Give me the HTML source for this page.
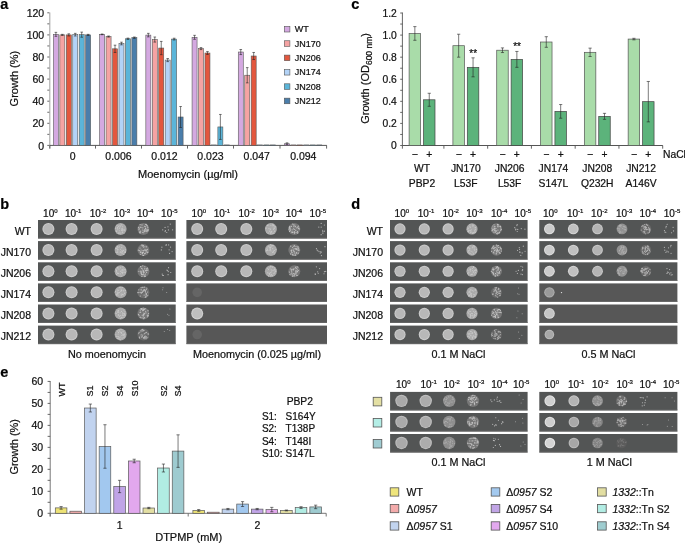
<!DOCTYPE html>
<html><head><meta charset="utf-8"><style>
html,body{margin:0;padding:0;background:#fff;}
#w{will-change:transform;width:685px;height:544px;}
svg{display:block;font-family:"Liberation Sans",sans-serif;}
text{stroke:#111;stroke-width:0.22px;}
</style></head><body><div id="w">
<svg width="685" height="544" viewBox="0 0 685 544">
<rect width="685" height="544" fill="#fff"/>
<text x="0.3" y="9" font-size="14.5" font-weight="bold" fill="#000">a</text>
<line x1="49.8" y1="12.5" x2="49.8" y2="148.6" stroke="#a8a8a8" stroke-width="1.1"/>
<line x1="47.3" y1="145.4" x2="49.3" y2="145.4" stroke="#444" stroke-width="0.8"/>
<text x="44.2" y="150" font-size="10.5" text-anchor="end" fill="#111">0</text>
<line x1="47.3" y1="134.35" x2="49.3" y2="134.35" stroke="#444" stroke-width="0.8"/>
<line x1="47.3" y1="123.3" x2="49.3" y2="123.3" stroke="#444" stroke-width="0.8"/>
<text x="44.2" y="127" font-size="10.5" text-anchor="end" fill="#111">20</text>
<line x1="47.3" y1="112.25" x2="49.3" y2="112.25" stroke="#444" stroke-width="0.8"/>
<line x1="47.3" y1="101.2" x2="49.3" y2="101.2" stroke="#444" stroke-width="0.8"/>
<text x="44.2" y="105" font-size="10.5" text-anchor="end" fill="#111">40</text>
<line x1="47.3" y1="90.15" x2="49.3" y2="90.15" stroke="#444" stroke-width="0.8"/>
<line x1="47.3" y1="79.1" x2="49.3" y2="79.1" stroke="#444" stroke-width="0.8"/>
<text x="44.2" y="83" font-size="10.5" text-anchor="end" fill="#111">60</text>
<line x1="47.3" y1="68.05" x2="49.3" y2="68.05" stroke="#444" stroke-width="0.8"/>
<line x1="47.3" y1="57" x2="49.3" y2="57" stroke="#444" stroke-width="0.8"/>
<text x="44.2" y="61" font-size="10.5" text-anchor="end" fill="#111">80</text>
<line x1="47.3" y1="45.95" x2="49.3" y2="45.95" stroke="#444" stroke-width="0.8"/>
<line x1="47.3" y1="34.9" x2="49.3" y2="34.9" stroke="#444" stroke-width="0.8"/>
<text x="44.2" y="39" font-size="10.5" text-anchor="end" fill="#111">100</text>
<line x1="47.3" y1="23.85" x2="49.3" y2="23.85" stroke="#444" stroke-width="0.8"/>
<line x1="47.3" y1="12.8" x2="49.3" y2="12.8" stroke="#444" stroke-width="0.8"/>
<text x="44.2" y="17" font-size="10.5" text-anchor="end" fill="#111">120</text>
<line x1="49.8" y1="145.4" x2="326.8" y2="145.4" stroke="#555" stroke-width="1"/>
<line x1="49.8" y1="145.4" x2="49.8" y2="148.6" stroke="#555" stroke-width="0.9"/>
<line x1="95.5" y1="145.4" x2="95.5" y2="148.6" stroke="#555" stroke-width="0.9"/>
<line x1="141.5" y1="145.4" x2="141.5" y2="148.6" stroke="#555" stroke-width="0.9"/>
<line x1="187.5" y1="145.4" x2="187.5" y2="148.6" stroke="#555" stroke-width="0.9"/>
<line x1="233.5" y1="145.4" x2="233.5" y2="148.6" stroke="#555" stroke-width="0.9"/>
<line x1="280" y1="145.4" x2="280" y2="148.6" stroke="#555" stroke-width="0.9"/>
<line x1="326.6" y1="145.4" x2="326.6" y2="148.6" stroke="#555" stroke-width="0.9"/>
<text x="72.65" y="160" font-size="10.5" text-anchor="middle" fill="#111">0</text>
<text x="118.5" y="160" font-size="10.5" text-anchor="middle" fill="#111">0.006</text>
<text x="164.5" y="160" font-size="10.5" text-anchor="middle" fill="#111">0.012</text>
<text x="210.5" y="160" font-size="10.5" text-anchor="middle" fill="#111">0.023</text>
<text x="256.75" y="160" font-size="10.5" text-anchor="middle" fill="#111">0.047</text>
<text x="303.3" y="160" font-size="10.5" text-anchor="middle" fill="#111">0.094</text>
<text x="188" y="177.5" font-size="11" text-anchor="middle" fill="#111">Moenomycin (&#181;g/ml)</text>
<text x="18" y="78.6" font-size="11" text-anchor="middle" transform="rotate(-90 18 78.6)" fill="#111">Growth (%)</text>
<rect x="53.4" y="34.35" width="5" height="111.05" fill="#d4a9e1" stroke="#5a5a5a" stroke-width="0.6"/>
<line x1="55.9" y1="32.36" x2="55.9" y2="36.34" stroke="#222" stroke-width="0.6"/>
<line x1="54.6" y1="32.36" x2="57.2" y2="32.36" stroke="#222" stroke-width="0.6"/>
<line x1="54.6" y1="36.34" x2="57.2" y2="36.34" stroke="#222" stroke-width="0.6"/>
<rect x="59.85" y="34.9" width="5" height="110.5" fill="#f5a3a3" stroke="#5a5a5a" stroke-width="0.6"/>
<line x1="62.35" y1="34.35" x2="62.35" y2="35.45" stroke="#222" stroke-width="0.6"/>
<line x1="61.05" y1="34.35" x2="63.65" y2="34.35" stroke="#222" stroke-width="0.6"/>
<line x1="61.05" y1="35.45" x2="63.65" y2="35.45" stroke="#222" stroke-width="0.6"/>
<rect x="66.3" y="34.9" width="5" height="110.5" fill="#e3573e" stroke="#5a5a5a" stroke-width="0.6"/>
<line x1="68.8" y1="33.8" x2="68.8" y2="36.01" stroke="#222" stroke-width="0.6"/>
<line x1="67.5" y1="33.8" x2="70.1" y2="33.8" stroke="#222" stroke-width="0.6"/>
<line x1="67.5" y1="36.01" x2="70.1" y2="36.01" stroke="#222" stroke-width="0.6"/>
<rect x="72.75" y="34.68" width="5" height="110.72" fill="#b3d3f7" stroke="#5a5a5a" stroke-width="0.6"/>
<line x1="75.25" y1="33.35" x2="75.25" y2="36.01" stroke="#222" stroke-width="0.6"/>
<line x1="73.95" y1="33.35" x2="76.55" y2="33.35" stroke="#222" stroke-width="0.6"/>
<line x1="73.95" y1="36.01" x2="76.55" y2="36.01" stroke="#222" stroke-width="0.6"/>
<rect x="79.2" y="34.68" width="5" height="110.72" fill="#5bb5d9" stroke="#5a5a5a" stroke-width="0.6"/>
<line x1="81.7" y1="32.14" x2="81.7" y2="37.22" stroke="#222" stroke-width="0.6"/>
<line x1="80.4" y1="32.14" x2="83" y2="32.14" stroke="#222" stroke-width="0.6"/>
<line x1="80.4" y1="37.22" x2="83" y2="37.22" stroke="#222" stroke-width="0.6"/>
<rect x="85.65" y="34.9" width="5" height="110.5" fill="#4a7eab" stroke="#5a5a5a" stroke-width="0.6"/>
<line x1="88.15" y1="34.35" x2="88.15" y2="35.45" stroke="#222" stroke-width="0.6"/>
<line x1="86.85" y1="34.35" x2="89.45" y2="34.35" stroke="#222" stroke-width="0.6"/>
<line x1="86.85" y1="35.45" x2="89.45" y2="35.45" stroke="#222" stroke-width="0.6"/>
<rect x="99.62" y="34.35" width="5" height="111.05" fill="#d4a9e1" stroke="#5a5a5a" stroke-width="0.6"/>
<line x1="102.12" y1="34.02" x2="102.12" y2="34.68" stroke="#222" stroke-width="0.6"/>
<line x1="100.82" y1="34.02" x2="103.42" y2="34.02" stroke="#222" stroke-width="0.6"/>
<line x1="100.82" y1="34.68" x2="103.42" y2="34.68" stroke="#222" stroke-width="0.6"/>
<rect x="106.07" y="36.56" width="5" height="108.84" fill="#f5a3a3" stroke="#5a5a5a" stroke-width="0.6"/>
<line x1="108.57" y1="36.01" x2="108.57" y2="37.11" stroke="#222" stroke-width="0.6"/>
<line x1="107.27" y1="36.01" x2="109.87" y2="36.01" stroke="#222" stroke-width="0.6"/>
<line x1="107.27" y1="37.11" x2="109.87" y2="37.11" stroke="#222" stroke-width="0.6"/>
<rect x="112.52" y="48.82" width="5" height="96.58" fill="#e3573e" stroke="#5a5a5a" stroke-width="0.6"/>
<line x1="115.02" y1="45.18" x2="115.02" y2="52.47" stroke="#222" stroke-width="0.6"/>
<line x1="113.72" y1="45.18" x2="116.32" y2="45.18" stroke="#222" stroke-width="0.6"/>
<line x1="113.72" y1="52.47" x2="116.32" y2="52.47" stroke="#222" stroke-width="0.6"/>
<rect x="118.97" y="43.52" width="5" height="101.88" fill="#b3d3f7" stroke="#5a5a5a" stroke-width="0.6"/>
<line x1="121.47" y1="42.19" x2="121.47" y2="44.85" stroke="#222" stroke-width="0.6"/>
<line x1="120.17" y1="42.19" x2="122.77" y2="42.19" stroke="#222" stroke-width="0.6"/>
<line x1="120.17" y1="44.85" x2="122.77" y2="44.85" stroke="#222" stroke-width="0.6"/>
<rect x="125.42" y="38.77" width="5" height="106.63" fill="#5bb5d9" stroke="#5a5a5a" stroke-width="0.6"/>
<line x1="127.92" y1="38.1" x2="127.92" y2="39.43" stroke="#222" stroke-width="0.6"/>
<line x1="126.62" y1="38.1" x2="129.22" y2="38.1" stroke="#222" stroke-width="0.6"/>
<line x1="126.62" y1="39.43" x2="129.22" y2="39.43" stroke="#222" stroke-width="0.6"/>
<rect x="131.87" y="37.66" width="5" height="107.74" fill="#4a7eab" stroke="#5a5a5a" stroke-width="0.6"/>
<line x1="134.37" y1="37" x2="134.37" y2="38.33" stroke="#222" stroke-width="0.6"/>
<line x1="133.07" y1="37" x2="135.67" y2="37" stroke="#222" stroke-width="0.6"/>
<line x1="133.07" y1="38.33" x2="135.67" y2="38.33" stroke="#222" stroke-width="0.6"/>
<rect x="145.84" y="35.12" width="5" height="110.28" fill="#d4a9e1" stroke="#5a5a5a" stroke-width="0.6"/>
<line x1="148.34" y1="33.35" x2="148.34" y2="36.89" stroke="#222" stroke-width="0.6"/>
<line x1="147.04" y1="33.35" x2="149.64" y2="33.35" stroke="#222" stroke-width="0.6"/>
<line x1="147.04" y1="36.89" x2="149.64" y2="36.89" stroke="#222" stroke-width="0.6"/>
<rect x="152.29" y="39.54" width="5" height="105.86" fill="#f5a3a3" stroke="#5a5a5a" stroke-width="0.6"/>
<line x1="154.79" y1="37" x2="154.79" y2="42.08" stroke="#222" stroke-width="0.6"/>
<line x1="153.49" y1="37" x2="156.09" y2="37" stroke="#222" stroke-width="0.6"/>
<line x1="153.49" y1="42.08" x2="156.09" y2="42.08" stroke="#222" stroke-width="0.6"/>
<rect x="158.74" y="48.05" width="5" height="97.35" fill="#e3573e" stroke="#5a5a5a" stroke-width="0.6"/>
<line x1="161.24" y1="41.42" x2="161.24" y2="54.68" stroke="#222" stroke-width="0.6"/>
<line x1="159.94" y1="41.42" x2="162.54" y2="41.42" stroke="#222" stroke-width="0.6"/>
<line x1="159.94" y1="54.68" x2="162.54" y2="54.68" stroke="#222" stroke-width="0.6"/>
<rect x="165.19" y="60.09" width="5" height="85.31" fill="#b3d3f7" stroke="#5a5a5a" stroke-width="0.6"/>
<line x1="167.69" y1="58.55" x2="167.69" y2="61.64" stroke="#222" stroke-width="0.6"/>
<line x1="166.39" y1="58.55" x2="168.99" y2="58.55" stroke="#222" stroke-width="0.6"/>
<line x1="166.39" y1="61.64" x2="168.99" y2="61.64" stroke="#222" stroke-width="0.6"/>
<rect x="171.64" y="39.1" width="5" height="106.3" fill="#5bb5d9" stroke="#5a5a5a" stroke-width="0.6"/>
<line x1="174.14" y1="38.22" x2="174.14" y2="39.98" stroke="#222" stroke-width="0.6"/>
<line x1="172.84" y1="38.22" x2="175.44" y2="38.22" stroke="#222" stroke-width="0.6"/>
<line x1="172.84" y1="39.98" x2="175.44" y2="39.98" stroke="#222" stroke-width="0.6"/>
<rect x="178.09" y="117" width="5" height="28.4" fill="#4a7eab" stroke="#5a5a5a" stroke-width="0.6"/>
<line x1="180.59" y1="106.5" x2="180.59" y2="127.5" stroke="#222" stroke-width="0.6"/>
<line x1="179.29" y1="106.5" x2="181.89" y2="106.5" stroke="#222" stroke-width="0.6"/>
<line x1="179.29" y1="127.5" x2="181.89" y2="127.5" stroke="#222" stroke-width="0.6"/>
<rect x="192.06" y="37.33" width="5" height="108.07" fill="#d4a9e1" stroke="#5a5a5a" stroke-width="0.6"/>
<line x1="194.56" y1="35.34" x2="194.56" y2="39.32" stroke="#222" stroke-width="0.6"/>
<line x1="193.26" y1="35.34" x2="195.86" y2="35.34" stroke="#222" stroke-width="0.6"/>
<line x1="193.26" y1="39.32" x2="195.86" y2="39.32" stroke="#222" stroke-width="0.6"/>
<rect x="198.51" y="48.6" width="5" height="96.8" fill="#f5a3a3" stroke="#5a5a5a" stroke-width="0.6"/>
<line x1="201.01" y1="47.61" x2="201.01" y2="49.6" stroke="#222" stroke-width="0.6"/>
<line x1="199.71" y1="47.61" x2="202.31" y2="47.61" stroke="#222" stroke-width="0.6"/>
<line x1="199.71" y1="49.6" x2="202.31" y2="49.6" stroke="#222" stroke-width="0.6"/>
<rect x="204.96" y="53.02" width="5" height="92.38" fill="#e3573e" stroke="#5a5a5a" stroke-width="0.6"/>
<line x1="207.46" y1="51.59" x2="207.46" y2="54.46" stroke="#222" stroke-width="0.6"/>
<line x1="206.16" y1="51.59" x2="208.76" y2="51.59" stroke="#222" stroke-width="0.6"/>
<line x1="206.16" y1="54.46" x2="208.76" y2="54.46" stroke="#222" stroke-width="0.6"/>
<rect x="211.41" y="144.96" width="5" height="0.44" fill="#b3d3f7" stroke="#5a5a5a" stroke-width="0.6"/>
<rect x="217.86" y="126.95" width="5" height="18.45" fill="#5bb5d9" stroke="#5a5a5a" stroke-width="0.6"/>
<line x1="220.36" y1="114.46" x2="220.36" y2="139.43" stroke="#222" stroke-width="0.6"/>
<line x1="219.06" y1="114.46" x2="221.66" y2="114.46" stroke="#222" stroke-width="0.6"/>
<line x1="219.06" y1="139.43" x2="221.66" y2="139.43" stroke="#222" stroke-width="0.6"/>
<rect x="224.31" y="144.96" width="5" height="0.44" fill="#4a7eab" stroke="#5a5a5a" stroke-width="0.6"/>
<rect x="238.28" y="52.03" width="5" height="93.37" fill="#d4a9e1" stroke="#5a5a5a" stroke-width="0.6"/>
<line x1="240.78" y1="49.49" x2="240.78" y2="54.57" stroke="#222" stroke-width="0.6"/>
<line x1="239.48" y1="49.49" x2="242.08" y2="49.49" stroke="#222" stroke-width="0.6"/>
<line x1="239.48" y1="54.57" x2="242.08" y2="54.57" stroke="#222" stroke-width="0.6"/>
<rect x="244.73" y="75.23" width="5" height="70.17" fill="#f5a3a3" stroke="#5a5a5a" stroke-width="0.6"/>
<line x1="247.23" y1="67.61" x2="247.23" y2="82.86" stroke="#222" stroke-width="0.6"/>
<line x1="245.93" y1="67.61" x2="248.53" y2="67.61" stroke="#222" stroke-width="0.6"/>
<line x1="245.93" y1="82.86" x2="248.53" y2="82.86" stroke="#222" stroke-width="0.6"/>
<rect x="251.18" y="56.01" width="5" height="89.39" fill="#e3573e" stroke="#5a5a5a" stroke-width="0.6"/>
<line x1="253.68" y1="52.47" x2="253.68" y2="59.54" stroke="#222" stroke-width="0.6"/>
<line x1="252.38" y1="52.47" x2="254.98" y2="52.47" stroke="#222" stroke-width="0.6"/>
<line x1="252.38" y1="59.54" x2="254.98" y2="59.54" stroke="#222" stroke-width="0.6"/>
<rect x="257.63" y="144.96" width="5" height="0.44" fill="#b3d3f7" stroke="#5a5a5a" stroke-width="0.6"/>
<rect x="264.08" y="144.96" width="5" height="0.44" fill="#5bb5d9" stroke="#5a5a5a" stroke-width="0.6"/>
<rect x="270.53" y="144.96" width="5" height="0.44" fill="#4a7eab" stroke="#5a5a5a" stroke-width="0.6"/>
<rect x="284.5" y="143.74" width="5" height="1.66" fill="#d4a9e1" stroke="#5a5a5a" stroke-width="0.6"/>
<line x1="287" y1="142.86" x2="287" y2="144.63" stroke="#222" stroke-width="0.6"/>
<line x1="285.7" y1="142.86" x2="288.3" y2="142.86" stroke="#222" stroke-width="0.6"/>
<line x1="285.7" y1="144.63" x2="288.3" y2="144.63" stroke="#222" stroke-width="0.6"/>
<rect x="290.95" y="144.96" width="5" height="0.44" fill="#f5a3a3" stroke="#5a5a5a" stroke-width="0.6"/>
<rect x="297.4" y="144.96" width="5" height="0.44" fill="#e3573e" stroke="#5a5a5a" stroke-width="0.6"/>
<rect x="303.85" y="144.96" width="5" height="0.44" fill="#b3d3f7" stroke="#5a5a5a" stroke-width="0.6"/>
<rect x="310.3" y="144.96" width="5" height="0.44" fill="#5bb5d9" stroke="#5a5a5a" stroke-width="0.6"/>
<rect x="316.75" y="144.96" width="5" height="0.44" fill="#4a7eab" stroke="#5a5a5a" stroke-width="0.6"/>
<rect x="284.3" y="26.4" width="5.6" height="5.6" fill="#d4a9e1" stroke="#555" stroke-width="0.6"/>
<text x="294.8" y="32.2" font-size="9" fill="#111">WT</text>
<rect x="284.3" y="40.75" width="5.6" height="5.6" fill="#f5a3a3" stroke="#555" stroke-width="0.6"/>
<text x="294.8" y="46.55" font-size="9" fill="#111">JN170</text>
<rect x="284.3" y="55.1" width="5.6" height="5.6" fill="#e3573e" stroke="#555" stroke-width="0.6"/>
<text x="294.8" y="60.9" font-size="9" fill="#111">JN206</text>
<rect x="284.3" y="69.45" width="5.6" height="5.6" fill="#b3d3f7" stroke="#555" stroke-width="0.6"/>
<text x="294.8" y="75.25" font-size="9" fill="#111">JN174</text>
<rect x="284.3" y="83.8" width="5.6" height="5.6" fill="#5bb5d9" stroke="#555" stroke-width="0.6"/>
<text x="294.8" y="89.6" font-size="9" fill="#111">JN208</text>
<rect x="284.3" y="98.15" width="5.6" height="5.6" fill="#4a7eab" stroke="#555" stroke-width="0.6"/>
<text x="294.8" y="103.95" font-size="9" fill="#111">JN212</text>
<text x="351.2" y="9" font-size="14.5" font-weight="bold" fill="#000">c</text>
<line x1="402.4" y1="12.5" x2="402.4" y2="148.7" stroke="#555" stroke-width="0.9"/>
<line x1="400.2" y1="145.5" x2="402.4" y2="145.5" stroke="#444" stroke-width="0.8"/>
<text x="396.8" y="149" font-size="10.3" text-anchor="end" fill="#111">0</text>
<line x1="400.2" y1="134.46" x2="402.4" y2="134.46" stroke="#444" stroke-width="0.8"/>
<line x1="400.2" y1="123.42" x2="402.4" y2="123.42" stroke="#444" stroke-width="0.8"/>
<text x="396.8" y="127" font-size="10.3" text-anchor="end" fill="#111">0.2</text>
<line x1="400.2" y1="112.38" x2="402.4" y2="112.38" stroke="#444" stroke-width="0.8"/>
<line x1="400.2" y1="101.34" x2="402.4" y2="101.34" stroke="#444" stroke-width="0.8"/>
<text x="396.8" y="105" font-size="10.3" text-anchor="end" fill="#111">0.4</text>
<line x1="400.2" y1="90.3" x2="402.4" y2="90.3" stroke="#444" stroke-width="0.8"/>
<line x1="400.2" y1="79.26" x2="402.4" y2="79.26" stroke="#444" stroke-width="0.8"/>
<text x="396.8" y="83" font-size="10.3" text-anchor="end" fill="#111">0.6</text>
<line x1="400.2" y1="68.22" x2="402.4" y2="68.22" stroke="#444" stroke-width="0.8"/>
<line x1="400.2" y1="57.18" x2="402.4" y2="57.18" stroke="#444" stroke-width="0.8"/>
<text x="396.8" y="61" font-size="10.3" text-anchor="end" fill="#111">0.8</text>
<line x1="400.2" y1="46.14" x2="402.4" y2="46.14" stroke="#444" stroke-width="0.8"/>
<line x1="400.2" y1="35.1" x2="402.4" y2="35.1" stroke="#444" stroke-width="0.8"/>
<text x="396.8" y="39" font-size="10.3" text-anchor="end" fill="#111">1.0</text>
<line x1="400.2" y1="24.06" x2="402.4" y2="24.06" stroke="#444" stroke-width="0.8"/>
<line x1="400.2" y1="13.02" x2="402.4" y2="13.02" stroke="#444" stroke-width="0.8"/>
<text x="396.8" y="17" font-size="10.3" text-anchor="end" fill="#111">1.2</text>
<line x1="402.4" y1="145.5" x2="662.8" y2="145.5" stroke="#555" stroke-width="1"/>
<line x1="443.9" y1="145.5" x2="443.9" y2="148.7" stroke="#555" stroke-width="0.9"/>
<line x1="487.66" y1="145.5" x2="487.66" y2="148.7" stroke="#555" stroke-width="0.9"/>
<line x1="531.42" y1="145.5" x2="531.42" y2="148.7" stroke="#555" stroke-width="0.9"/>
<line x1="575.18" y1="145.5" x2="575.18" y2="148.7" stroke="#555" stroke-width="0.9"/>
<line x1="618.94" y1="145.5" x2="618.94" y2="148.7" stroke="#555" stroke-width="0.9"/>
<line x1="662.7" y1="145.5" x2="662.7" y2="148.7" stroke="#555" stroke-width="0.9"/>
<rect x="409.1" y="33.44" width="11.5" height="112.06" fill="#a9dca9" stroke="#555" stroke-width="0.7"/>
<rect x="423.5" y="99.79" width="11.5" height="45.71" fill="#5cb37b" stroke="#444" stroke-width="0.7"/>
<line x1="414.85" y1="26.6" x2="414.85" y2="40.29" stroke="#222" stroke-width="0.6"/>
<line x1="413.25" y1="26.6" x2="416.45" y2="26.6" stroke="#222" stroke-width="0.6"/>
<line x1="413.25" y1="40.29" x2="416.45" y2="40.29" stroke="#222" stroke-width="0.6"/>
<line x1="429.25" y1="93.28" x2="429.25" y2="106.31" stroke="#222" stroke-width="0.6"/>
<line x1="427.65" y1="93.28" x2="430.85" y2="93.28" stroke="#222" stroke-width="0.6"/>
<line x1="427.65" y1="106.31" x2="430.85" y2="106.31" stroke="#222" stroke-width="0.6"/>
<text x="414.85" y="158" font-size="10.3" text-anchor="middle" fill="#111">&#8722;</text>
<text x="429.25" y="158" font-size="10.3" text-anchor="middle" fill="#111">+</text>
<text x="422" y="172" font-size="10.3" text-anchor="middle" fill="#111">WT</text>
<text x="422" y="186.5" font-size="10.3" text-anchor="middle" fill="#111">PBP2</text>
<rect x="452.91" y="45.7" width="11.5" height="99.8" fill="#a9dca9" stroke="#555" stroke-width="0.7"/>
<rect x="467.31" y="67.34" width="11.5" height="78.16" fill="#5cb37b" stroke="#444" stroke-width="0.7"/>
<line x1="458.66" y1="34.22" x2="458.66" y2="57.18" stroke="#222" stroke-width="0.6"/>
<line x1="457.06" y1="34.22" x2="460.26" y2="34.22" stroke="#222" stroke-width="0.6"/>
<line x1="457.06" y1="57.18" x2="460.26" y2="57.18" stroke="#222" stroke-width="0.6"/>
<line x1="473.06" y1="57.84" x2="473.06" y2="76.83" stroke="#222" stroke-width="0.6"/>
<line x1="471.46" y1="57.84" x2="474.66" y2="57.84" stroke="#222" stroke-width="0.6"/>
<line x1="471.46" y1="76.83" x2="474.66" y2="76.83" stroke="#222" stroke-width="0.6"/>
<text x="458.66" y="158" font-size="10.3" text-anchor="middle" fill="#111">&#8722;</text>
<text x="473.06" y="158" font-size="10.3" text-anchor="middle" fill="#111">+</text>
<text x="465.81" y="172" font-size="10.3" text-anchor="middle" fill="#111">JN170</text>
<text x="465.81" y="186.5" font-size="10.3" text-anchor="middle" fill="#111">L53F</text>
<rect x="496.72" y="50.22" width="11.5" height="95.28" fill="#a9dca9" stroke="#555" stroke-width="0.7"/>
<rect x="511.12" y="59.39" width="11.5" height="86.11" fill="#5cb37b" stroke="#444" stroke-width="0.7"/>
<line x1="502.47" y1="47.91" x2="502.47" y2="52.54" stroke="#222" stroke-width="0.6"/>
<line x1="500.87" y1="47.91" x2="504.07" y2="47.91" stroke="#222" stroke-width="0.6"/>
<line x1="500.87" y1="52.54" x2="504.07" y2="52.54" stroke="#222" stroke-width="0.6"/>
<line x1="516.87" y1="51.44" x2="516.87" y2="67.34" stroke="#222" stroke-width="0.6"/>
<line x1="515.27" y1="51.44" x2="518.47" y2="51.44" stroke="#222" stroke-width="0.6"/>
<line x1="515.27" y1="67.34" x2="518.47" y2="67.34" stroke="#222" stroke-width="0.6"/>
<text x="502.47" y="158" font-size="10.3" text-anchor="middle" fill="#111">&#8722;</text>
<text x="516.87" y="158" font-size="10.3" text-anchor="middle" fill="#111">+</text>
<text x="509.62" y="172" font-size="10.3" text-anchor="middle" fill="#111">JN206</text>
<text x="509.62" y="186.5" font-size="10.3" text-anchor="middle" fill="#111">L53F</text>
<rect x="540.53" y="42" width="11.5" height="103.5" fill="#a9dca9" stroke="#555" stroke-width="0.7"/>
<rect x="554.93" y="111.39" width="11.5" height="34.11" fill="#5cb37b" stroke="#444" stroke-width="0.7"/>
<line x1="546.28" y1="36.7" x2="546.28" y2="47.3" stroke="#222" stroke-width="0.6"/>
<line x1="544.68" y1="36.7" x2="547.88" y2="36.7" stroke="#222" stroke-width="0.6"/>
<line x1="544.68" y1="47.3" x2="547.88" y2="47.3" stroke="#222" stroke-width="0.6"/>
<line x1="560.68" y1="104.54" x2="560.68" y2="118.23" stroke="#222" stroke-width="0.6"/>
<line x1="559.08" y1="104.54" x2="562.28" y2="104.54" stroke="#222" stroke-width="0.6"/>
<line x1="559.08" y1="118.23" x2="562.28" y2="118.23" stroke="#222" stroke-width="0.6"/>
<text x="546.28" y="158" font-size="10.3" text-anchor="middle" fill="#111">&#8722;</text>
<text x="560.68" y="158" font-size="10.3" text-anchor="middle" fill="#111">+</text>
<text x="553.43" y="172" font-size="10.3" text-anchor="middle" fill="#111">JN174</text>
<text x="553.43" y="186.5" font-size="10.3" text-anchor="middle" fill="#111">S147L</text>
<rect x="584.34" y="52.32" width="11.5" height="93.18" fill="#a9dca9" stroke="#555" stroke-width="0.7"/>
<rect x="598.74" y="116.35" width="11.5" height="29.15" fill="#5cb37b" stroke="#444" stroke-width="0.7"/>
<line x1="590.09" y1="48.13" x2="590.09" y2="56.52" stroke="#222" stroke-width="0.6"/>
<line x1="588.49" y1="48.13" x2="591.69" y2="48.13" stroke="#222" stroke-width="0.6"/>
<line x1="588.49" y1="56.52" x2="591.69" y2="56.52" stroke="#222" stroke-width="0.6"/>
<line x1="604.49" y1="113.37" x2="604.49" y2="119.34" stroke="#222" stroke-width="0.6"/>
<line x1="602.89" y1="113.37" x2="606.09" y2="113.37" stroke="#222" stroke-width="0.6"/>
<line x1="602.89" y1="119.34" x2="606.09" y2="119.34" stroke="#222" stroke-width="0.6"/>
<text x="590.09" y="158" font-size="10.3" text-anchor="middle" fill="#111">&#8722;</text>
<text x="604.49" y="158" font-size="10.3" text-anchor="middle" fill="#111">+</text>
<text x="597.24" y="172" font-size="10.3" text-anchor="middle" fill="#111">JN208</text>
<text x="597.24" y="186.5" font-size="10.3" text-anchor="middle" fill="#111">Q232H</text>
<rect x="628.15" y="39.07" width="11.5" height="106.43" fill="#a9dca9" stroke="#555" stroke-width="0.7"/>
<rect x="642.55" y="101.67" width="11.5" height="43.83" fill="#5cb37b" stroke="#444" stroke-width="0.7"/>
<line x1="633.9" y1="38.3" x2="633.9" y2="39.85" stroke="#222" stroke-width="0.6"/>
<line x1="632.3" y1="38.3" x2="635.5" y2="38.3" stroke="#222" stroke-width="0.6"/>
<line x1="632.3" y1="39.85" x2="635.5" y2="39.85" stroke="#222" stroke-width="0.6"/>
<line x1="648.3" y1="81.47" x2="648.3" y2="121.87" stroke="#222" stroke-width="0.6"/>
<line x1="646.7" y1="81.47" x2="649.9" y2="81.47" stroke="#222" stroke-width="0.6"/>
<line x1="646.7" y1="121.87" x2="649.9" y2="121.87" stroke="#222" stroke-width="0.6"/>
<text x="633.9" y="158" font-size="10.3" text-anchor="middle" fill="#111">&#8722;</text>
<text x="648.3" y="158" font-size="10.3" text-anchor="middle" fill="#111">+</text>
<text x="641.05" y="172" font-size="10.3" text-anchor="middle" fill="#111">JN212</text>
<text x="641.05" y="186.5" font-size="10.3" text-anchor="middle" fill="#111">A146V</text>
<text x="663" y="158" font-size="10.3" fill="#111">NaCl</text>
<text x="473.2" y="56.5" font-size="10" text-anchor="middle" fill="#111">**</text>
<text x="517.1" y="50" font-size="10" text-anchor="middle" fill="#111">**</text>
<text x="369.4" y="78.4" font-size="11" text-anchor="middle" transform="rotate(-90 369.4 78.4)" fill="#111">Growth (OD<tspan font-size="8.5" dy="3">600 nm</tspan><tspan dy="-3">)</tspan></text>
<text x="0.2" y="209" font-size="14.5" font-weight="bold" fill="#000">b</text>
<text x="43.1" y="217" font-size="10" fill="#111">10<tspan font-size="6" dy="-4.2">0</tspan></text>
<text x="64.9" y="217" font-size="10" fill="#111">10<tspan font-size="6" dy="-4.2">-1</tspan></text>
<text x="89.8" y="217" font-size="10" fill="#111">10<tspan font-size="6" dy="-4.2">-2</tspan></text>
<text x="113.7" y="217" font-size="10" fill="#111">10<tspan font-size="6" dy="-4.2">-3</tspan></text>
<text x="136.9" y="217" font-size="10" fill="#111">10<tspan font-size="6" dy="-4.2">-4</tspan></text>
<text x="161.1" y="217" font-size="10" fill="#111">10<tspan font-size="6" dy="-4.2">-5</tspan></text>
<text x="191.6" y="217" font-size="10" fill="#111">10<tspan font-size="6" dy="-4.2">0</tspan></text>
<text x="213.7" y="217" font-size="10" fill="#111">10<tspan font-size="6" dy="-4.2">-1</tspan></text>
<text x="238.4" y="217" font-size="10" fill="#111">10<tspan font-size="6" dy="-4.2">-2</tspan></text>
<text x="262.5" y="217" font-size="10" fill="#111">10<tspan font-size="6" dy="-4.2">-3</tspan></text>
<text x="285.7" y="217" font-size="10" fill="#111">10<tspan font-size="6" dy="-4.2">-4</tspan></text>
<text x="309.6" y="217" font-size="10" fill="#111">10<tspan font-size="6" dy="-4.2">-5</tspan></text>
<text x="31" y="234.6" font-size="10.5" text-anchor="end" fill="#111">WT</text>
<rect x="38" y="220" width="137.7" height="18.5" fill="#535555"/>
<rect x="38" y="237.7" width="137.7" height="0.8" fill="#6a6a6a"/>
<circle cx="48.4" cy="228.95" r="6" fill="#cccccc"/>
<circle cx="48.4" cy="228.95" r="5" fill="#b8b8b8"/>
<circle cx="71.6" cy="228.95" r="6" fill="#cccccc"/>
<circle cx="71.6" cy="228.95" r="5" fill="#b8b8b8"/>
<circle cx="96.6" cy="228.95" r="6" fill="#cccccc"/>
<circle cx="96.6" cy="228.95" r="5" fill="#b8b8b8"/>
<circle cx="120.6" cy="228.95" r="6" fill="#aaaaaa"/>
<circle cx="119.68" cy="230.79" r="0.55" fill="#c8c8c8"/>
<circle cx="119.77" cy="227.79" r="0.55" fill="#c8c8c8"/>
<circle cx="117.48" cy="228.23" r="0.55" fill="#c8c8c8"/>
<circle cx="124.13" cy="230.3" r="0.55" fill="#c8c8c8"/>
<circle cx="123.99" cy="229.76" r="0.55" fill="#c8c8c8"/>
<circle cx="122.04" cy="229.63" r="0.55" fill="#c8c8c8"/>
<circle cx="116.31" cy="231.15" r="0.55" fill="#c8c8c8"/>
<circle cx="122.38" cy="230.71" r="0.55" fill="#c8c8c8"/>
<circle cx="117.01" cy="225.25" r="0.55" fill="#c8c8c8"/>
<circle cx="117.65" cy="227.4" r="0.55" fill="#c8c8c8"/>
<circle cx="121.73" cy="228.78" r="0.55" fill="#c8c8c8"/>
<circle cx="122.4" cy="226.73" r="0.55" fill="#c8c8c8"/>
<circle cx="121.72" cy="230.38" r="0.55" fill="#c8c8c8"/>
<circle cx="118.88" cy="233.42" r="0.55" fill="#c8c8c8"/>
<circle cx="122.3" cy="232.62" r="0.55" fill="#c8c8c8"/>
<circle cx="118.52" cy="226.47" r="0.55" fill="#c8c8c8"/>
<circle cx="119.33" cy="228.56" r="0.55" fill="#c8c8c8"/>
<circle cx="122.84" cy="229.83" r="0.55" fill="#c8c8c8"/>
<circle cx="119.13" cy="225.81" r="0.55" fill="#c8c8c8"/>
<circle cx="119.01" cy="232.68" r="0.55" fill="#c8c8c8"/>
<circle cx="117.82" cy="229.79" r="0.55" fill="#c8c8c8"/>
<circle cx="121.82" cy="224.69" r="0.55" fill="#c8c8c8"/>
<circle cx="120.75" cy="232.96" r="0.55" fill="#c8c8c8"/>
<circle cx="115.7" cy="228.17" r="0.55" fill="#c8c8c8"/>
<circle cx="120.23" cy="226.13" r="0.55" fill="#c8c8c8"/>
<circle cx="122.41" cy="228.72" r="0.55" fill="#c8c8c8"/>
<circle cx="116.59" cy="231.22" r="0.55" fill="#c8c8c8"/>
<circle cx="122.74" cy="231.98" r="0.55" fill="#c8c8c8"/>
<circle cx="124.8" cy="230.01" r="0.55" fill="#c8c8c8"/>
<circle cx="120.97" cy="224.95" r="0.55" fill="#c8c8c8"/>
<circle cx="143.4" cy="228.95" r="6" fill="#767676"/>
<circle cx="145.58" cy="226.78" r="0.6" fill="#c2c2c2"/>
<circle cx="141.97" cy="224.96" r="0.6" fill="#c2c2c2"/>
<circle cx="140.14" cy="227.16" r="0.6" fill="#c2c2c2"/>
<circle cx="146.26" cy="224.44" r="0.6" fill="#c2c2c2"/>
<circle cx="138.98" cy="229.68" r="0.6" fill="#c2c2c2"/>
<circle cx="147.68" cy="230.66" r="0.6" fill="#c2c2c2"/>
<circle cx="140.1" cy="224.58" r="0.6" fill="#c2c2c2"/>
<circle cx="144.68" cy="226.31" r="0.6" fill="#c2c2c2"/>
<circle cx="140.01" cy="231.91" r="0.6" fill="#c2c2c2"/>
<circle cx="147.1" cy="229.48" r="0.6" fill="#c2c2c2"/>
<circle cx="144.33" cy="230.59" r="0.6" fill="#c2c2c2"/>
<circle cx="147.89" cy="230.7" r="0.6" fill="#c2c2c2"/>
<circle cx="145.28" cy="230.94" r="0.6" fill="#c2c2c2"/>
<circle cx="139.42" cy="232.2" r="0.6" fill="#c2c2c2"/>
<circle cx="146.62" cy="230.74" r="0.6" fill="#c2c2c2"/>
<circle cx="138.48" cy="227.37" r="0.6" fill="#c2c2c2"/>
<circle cx="145.56" cy="224.31" r="0.6" fill="#c2c2c2"/>
<circle cx="142.77" cy="232.44" r="0.6" fill="#c2c2c2"/>
<circle cx="140.13" cy="232.96" r="0.6" fill="#c2c2c2"/>
<circle cx="145.46" cy="228.39" r="0.6" fill="#c2c2c2"/>
<circle cx="144.58" cy="231.32" r="0.6" fill="#c2c2c2"/>
<circle cx="143.8" cy="232.76" r="0.6" fill="#c2c2c2"/>
<circle cx="141.01" cy="227.45" r="0.6" fill="#c2c2c2"/>
<circle cx="146.96" cy="229.04" r="0.6" fill="#c2c2c2"/>
<circle cx="140.58" cy="231.98" r="0.6" fill="#c2c2c2"/>
<circle cx="147.77" cy="227.62" r="0.6" fill="#c2c2c2"/>
<circle cx="139.1" cy="228.53" r="0.6" fill="#c2c2c2"/>
<circle cx="142.83" cy="227.81" r="0.6" fill="#c2c2c2"/>
<circle cx="147.32" cy="226.08" r="0.6" fill="#c2c2c2"/>
<circle cx="146.86" cy="225.46" r="0.6" fill="#c2c2c2"/>
<circle cx="140.69" cy="231.12" r="0.6" fill="#c2c2c2"/>
<circle cx="146.89" cy="231.6" r="0.6" fill="#c2c2c2"/>
<circle cx="144.72" cy="229.49" r="0.6" fill="#c2c2c2"/>
<circle cx="143.97" cy="231.09" r="0.6" fill="#c2c2c2"/>
<circle cx="142.72" cy="230.01" r="0.6" fill="#c2c2c2"/>
<circle cx="145.54" cy="228.95" r="0.6" fill="#c2c2c2"/>
<circle cx="146.07" cy="230.92" r="0.6" fill="#c2c2c2"/>
<circle cx="148.48" cy="229.77" r="0.6" fill="#c2c2c2"/>
<circle cx="165.06" cy="227.43" r="0.6" fill="#b8b8b8"/>
<circle cx="166.75" cy="232.49" r="0.6" fill="#b8b8b8"/>
<circle cx="165.42" cy="230.53" r="0.6" fill="#b8b8b8"/>
<circle cx="170.28" cy="224.09" r="0.6" fill="#b8b8b8"/>
<circle cx="162.72" cy="229.84" r="0.6" fill="#b8b8b8"/>
<circle cx="168.45" cy="229.94" r="0.6" fill="#b8b8b8"/>
<circle cx="165.1" cy="231.53" r="0.6" fill="#b8b8b8"/>
<circle cx="167.95" cy="226.83" r="0.6" fill="#b8b8b8"/>
<circle cx="172.59" cy="229.8" r="0.6" fill="#b8b8b8"/>
<rect x="186.4" y="220" width="140.6" height="18.5" fill="#535555"/>
<rect x="186.4" y="237.7" width="140.6" height="0.8" fill="#6a6a6a"/>
<circle cx="197.2" cy="228.95" r="6" fill="#cccccc"/>
<circle cx="197.2" cy="228.95" r="5" fill="#b8b8b8"/>
<circle cx="221.2" cy="228.95" r="6" fill="#cccccc"/>
<circle cx="221.2" cy="228.95" r="5" fill="#b8b8b8"/>
<circle cx="246.3" cy="228.95" r="6" fill="#cccccc"/>
<circle cx="246.3" cy="228.95" r="5" fill="#b8b8b8"/>
<circle cx="270.9" cy="228.95" r="6" fill="#aaaaaa"/>
<circle cx="268.9" cy="228.59" r="0.55" fill="#c8c8c8"/>
<circle cx="270.06" cy="228.72" r="0.55" fill="#c8c8c8"/>
<circle cx="265.74" cy="228.03" r="0.55" fill="#c8c8c8"/>
<circle cx="273.79" cy="225.6" r="0.55" fill="#c8c8c8"/>
<circle cx="270.68" cy="232.15" r="0.55" fill="#c8c8c8"/>
<circle cx="273.22" cy="232.99" r="0.55" fill="#c8c8c8"/>
<circle cx="266.32" cy="228" r="0.55" fill="#c8c8c8"/>
<circle cx="269.7" cy="231.15" r="0.55" fill="#c8c8c8"/>
<circle cx="272.88" cy="224.08" r="0.55" fill="#c8c8c8"/>
<circle cx="273.76" cy="225.15" r="0.55" fill="#c8c8c8"/>
<circle cx="272.8" cy="224.8" r="0.55" fill="#c8c8c8"/>
<circle cx="271.46" cy="232.72" r="0.55" fill="#c8c8c8"/>
<circle cx="270.34" cy="229.66" r="0.55" fill="#c8c8c8"/>
<circle cx="273.66" cy="229.44" r="0.55" fill="#c8c8c8"/>
<circle cx="270.65" cy="233.35" r="0.55" fill="#c8c8c8"/>
<circle cx="274.31" cy="227.99" r="0.55" fill="#c8c8c8"/>
<circle cx="275.76" cy="226.92" r="0.55" fill="#c8c8c8"/>
<circle cx="273.97" cy="228.06" r="0.55" fill="#c8c8c8"/>
<circle cx="271.37" cy="231.43" r="0.55" fill="#c8c8c8"/>
<circle cx="271.69" cy="231.21" r="0.55" fill="#c8c8c8"/>
<circle cx="267.32" cy="225.42" r="0.55" fill="#c8c8c8"/>
<circle cx="272.87" cy="225.86" r="0.55" fill="#c8c8c8"/>
<circle cx="268.19" cy="225.06" r="0.55" fill="#c8c8c8"/>
<circle cx="274.61" cy="231.14" r="0.55" fill="#c8c8c8"/>
<circle cx="274.85" cy="226.43" r="0.55" fill="#c8c8c8"/>
<circle cx="270.9" cy="225.29" r="0.55" fill="#c8c8c8"/>
<circle cx="272.94" cy="233.19" r="0.55" fill="#c8c8c8"/>
<circle cx="268.55" cy="233.07" r="0.55" fill="#c8c8c8"/>
<circle cx="274.18" cy="228.36" r="0.55" fill="#c8c8c8"/>
<circle cx="266.7" cy="231.95" r="0.55" fill="#c8c8c8"/>
<circle cx="294.3" cy="228.95" r="6" fill="#767676"/>
<circle cx="293.94" cy="226.71" r="0.6" fill="#c2c2c2"/>
<circle cx="295.79" cy="230.48" r="0.6" fill="#c2c2c2"/>
<circle cx="298.38" cy="226.17" r="0.6" fill="#c2c2c2"/>
<circle cx="297.34" cy="232.92" r="0.6" fill="#c2c2c2"/>
<circle cx="298.72" cy="228.4" r="0.6" fill="#c2c2c2"/>
<circle cx="291.9" cy="232.24" r="0.6" fill="#c2c2c2"/>
<circle cx="294.75" cy="229.43" r="0.6" fill="#c2c2c2"/>
<circle cx="298.66" cy="228.14" r="0.6" fill="#c2c2c2"/>
<circle cx="289.06" cy="228.07" r="0.6" fill="#c2c2c2"/>
<circle cx="289.6" cy="231.03" r="0.6" fill="#c2c2c2"/>
<circle cx="295.46" cy="226.71" r="0.6" fill="#c2c2c2"/>
<circle cx="294.27" cy="231.93" r="0.6" fill="#c2c2c2"/>
<circle cx="294.55" cy="233.15" r="0.6" fill="#c2c2c2"/>
<circle cx="294.09" cy="232.5" r="0.6" fill="#c2c2c2"/>
<circle cx="297.87" cy="232.8" r="0.6" fill="#c2c2c2"/>
<circle cx="292.04" cy="231.91" r="0.6" fill="#c2c2c2"/>
<circle cx="289.77" cy="226.33" r="0.6" fill="#c2c2c2"/>
<circle cx="289.67" cy="231.47" r="0.6" fill="#c2c2c2"/>
<circle cx="290.29" cy="228.91" r="0.6" fill="#c2c2c2"/>
<circle cx="293.56" cy="228.84" r="0.6" fill="#c2c2c2"/>
<circle cx="292.11" cy="229.81" r="0.6" fill="#c2c2c2"/>
<circle cx="299.22" cy="229.07" r="0.6" fill="#c2c2c2"/>
<circle cx="296.07" cy="232.29" r="0.6" fill="#c2c2c2"/>
<circle cx="293.66" cy="224.9" r="0.6" fill="#c2c2c2"/>
<circle cx="292.48" cy="232.47" r="0.6" fill="#c2c2c2"/>
<circle cx="289.72" cy="227.29" r="0.6" fill="#c2c2c2"/>
<circle cx="297.54" cy="231.5" r="0.6" fill="#c2c2c2"/>
<circle cx="294.33" cy="231.84" r="0.6" fill="#c2c2c2"/>
<circle cx="294.85" cy="225.07" r="0.6" fill="#c2c2c2"/>
<circle cx="289.86" cy="227.14" r="0.6" fill="#c2c2c2"/>
<circle cx="297.42" cy="227.04" r="0.6" fill="#c2c2c2"/>
<circle cx="291.33" cy="226.41" r="0.6" fill="#c2c2c2"/>
<circle cx="289.74" cy="228.6" r="0.6" fill="#c2c2c2"/>
<circle cx="290.46" cy="230.14" r="0.6" fill="#c2c2c2"/>
<circle cx="289.01" cy="229.68" r="0.6" fill="#c2c2c2"/>
<circle cx="292.68" cy="224.06" r="0.6" fill="#c2c2c2"/>
<circle cx="296.92" cy="227.95" r="0.6" fill="#c2c2c2"/>
<circle cx="289.33" cy="227" r="0.6" fill="#c2c2c2"/>
<circle cx="321.19" cy="227.07" r="0.6" fill="#b8b8b8"/>
<circle cx="322.88" cy="231.71" r="0.6" fill="#b8b8b8"/>
<circle cx="322.64" cy="230.25" r="0.6" fill="#b8b8b8"/>
<circle cx="324.4" cy="231.13" r="0.6" fill="#b8b8b8"/>
<circle cx="321.2" cy="223.4" r="0.6" fill="#b8b8b8"/>
<circle cx="322.87" cy="233.14" r="0.6" fill="#b8b8b8"/>
<circle cx="318.79" cy="227.03" r="0.6" fill="#b8b8b8"/>
<circle cx="324.37" cy="224.99" r="0.6" fill="#b8b8b8"/>
<circle cx="321.11" cy="234.7" r="0.6" fill="#b8b8b8"/>
<text x="31" y="255.7" font-size="10.5" text-anchor="end" fill="#111">JN170</text>
<rect x="38" y="241.1" width="137.7" height="18.5" fill="#535555"/>
<rect x="38" y="258.8" width="137.7" height="0.8" fill="#6a6a6a"/>
<circle cx="48.4" cy="250.05" r="6" fill="#cccccc"/>
<circle cx="48.4" cy="250.05" r="5" fill="#b8b8b8"/>
<circle cx="71.6" cy="250.05" r="6" fill="#cccccc"/>
<circle cx="71.6" cy="250.05" r="5" fill="#b8b8b8"/>
<circle cx="96.6" cy="250.05" r="6" fill="#cccccc"/>
<circle cx="96.6" cy="250.05" r="5" fill="#b8b8b8"/>
<circle cx="120.6" cy="250.05" r="6" fill="#aaaaaa"/>
<circle cx="117.63" cy="252.26" r="0.55" fill="#c8c8c8"/>
<circle cx="125.43" cy="249.74" r="0.55" fill="#c8c8c8"/>
<circle cx="122.44" cy="253.01" r="0.55" fill="#c8c8c8"/>
<circle cx="117.53" cy="249.75" r="0.55" fill="#c8c8c8"/>
<circle cx="121.6" cy="252.87" r="0.55" fill="#c8c8c8"/>
<circle cx="120.47" cy="249.32" r="0.55" fill="#c8c8c8"/>
<circle cx="117.28" cy="248.88" r="0.55" fill="#c8c8c8"/>
<circle cx="123.63" cy="250.4" r="0.55" fill="#c8c8c8"/>
<circle cx="117.9" cy="247.39" r="0.55" fill="#c8c8c8"/>
<circle cx="125.44" cy="252.12" r="0.55" fill="#c8c8c8"/>
<circle cx="121.85" cy="244.98" r="0.55" fill="#c8c8c8"/>
<circle cx="122.76" cy="251.72" r="0.55" fill="#c8c8c8"/>
<circle cx="125.13" cy="251.2" r="0.55" fill="#c8c8c8"/>
<circle cx="120.36" cy="251.94" r="0.55" fill="#c8c8c8"/>
<circle cx="116.13" cy="252.42" r="0.55" fill="#c8c8c8"/>
<circle cx="121.73" cy="247.6" r="0.55" fill="#c8c8c8"/>
<circle cx="123.6" cy="254.15" r="0.55" fill="#c8c8c8"/>
<circle cx="116.59" cy="248.15" r="0.55" fill="#c8c8c8"/>
<circle cx="121.68" cy="250.73" r="0.55" fill="#c8c8c8"/>
<circle cx="119.29" cy="246.85" r="0.55" fill="#c8c8c8"/>
<circle cx="125.21" cy="252.31" r="0.55" fill="#c8c8c8"/>
<circle cx="117.45" cy="246.5" r="0.55" fill="#c8c8c8"/>
<circle cx="124.84" cy="252.51" r="0.55" fill="#c8c8c8"/>
<circle cx="125.1" cy="252.05" r="0.55" fill="#c8c8c8"/>
<circle cx="117.64" cy="250.93" r="0.55" fill="#c8c8c8"/>
<circle cx="115.78" cy="248.38" r="0.55" fill="#c8c8c8"/>
<circle cx="120.39" cy="251.94" r="0.55" fill="#c8c8c8"/>
<circle cx="118.05" cy="249.61" r="0.55" fill="#c8c8c8"/>
<circle cx="122.25" cy="251.4" r="0.55" fill="#c8c8c8"/>
<circle cx="122.86" cy="250.79" r="0.55" fill="#c8c8c8"/>
<circle cx="143.4" cy="250.05" r="6" fill="#767676"/>
<circle cx="142.25" cy="252.86" r="0.6" fill="#c2c2c2"/>
<circle cx="143.58" cy="247.09" r="0.6" fill="#c2c2c2"/>
<circle cx="141.08" cy="250.05" r="0.6" fill="#c2c2c2"/>
<circle cx="142.98" cy="250.66" r="0.6" fill="#c2c2c2"/>
<circle cx="143.4" cy="250.73" r="0.6" fill="#c2c2c2"/>
<circle cx="142.97" cy="245.99" r="0.6" fill="#c2c2c2"/>
<circle cx="144.81" cy="253.57" r="0.6" fill="#c2c2c2"/>
<circle cx="145.04" cy="249.33" r="0.6" fill="#c2c2c2"/>
<circle cx="144.92" cy="246.77" r="0.6" fill="#c2c2c2"/>
<circle cx="138.38" cy="250.21" r="0.6" fill="#c2c2c2"/>
<circle cx="140.34" cy="252.49" r="0.6" fill="#c2c2c2"/>
<circle cx="141.32" cy="245.01" r="0.6" fill="#c2c2c2"/>
<circle cx="140.64" cy="254.24" r="0.6" fill="#c2c2c2"/>
<circle cx="142.22" cy="245.83" r="0.6" fill="#c2c2c2"/>
<circle cx="140.72" cy="251.88" r="0.6" fill="#c2c2c2"/>
<circle cx="145.27" cy="250.71" r="0.6" fill="#c2c2c2"/>
<circle cx="147.67" cy="252.09" r="0.6" fill="#c2c2c2"/>
<circle cx="143.32" cy="252.27" r="0.6" fill="#c2c2c2"/>
<circle cx="147.75" cy="252.6" r="0.6" fill="#c2c2c2"/>
<circle cx="146.49" cy="246.78" r="0.6" fill="#c2c2c2"/>
<circle cx="142.86" cy="252.7" r="0.6" fill="#c2c2c2"/>
<circle cx="142.4" cy="253.64" r="0.6" fill="#c2c2c2"/>
<circle cx="145.42" cy="253.12" r="0.6" fill="#c2c2c2"/>
<circle cx="142.95" cy="255.43" r="0.6" fill="#c2c2c2"/>
<circle cx="147.41" cy="249.35" r="0.6" fill="#c2c2c2"/>
<circle cx="143.59" cy="255.45" r="0.6" fill="#c2c2c2"/>
<circle cx="142.2" cy="253.11" r="0.6" fill="#c2c2c2"/>
<circle cx="146.8" cy="250.07" r="0.6" fill="#c2c2c2"/>
<circle cx="139.55" cy="250.67" r="0.6" fill="#c2c2c2"/>
<circle cx="144.58" cy="253.77" r="0.6" fill="#c2c2c2"/>
<circle cx="146.23" cy="250.14" r="0.6" fill="#c2c2c2"/>
<circle cx="146.34" cy="251.91" r="0.6" fill="#c2c2c2"/>
<circle cx="144.2" cy="250.26" r="0.6" fill="#c2c2c2"/>
<circle cx="142.51" cy="252.55" r="0.6" fill="#c2c2c2"/>
<circle cx="139.96" cy="248" r="0.6" fill="#c2c2c2"/>
<circle cx="143.41" cy="245.59" r="0.6" fill="#c2c2c2"/>
<circle cx="142.31" cy="245.01" r="0.6" fill="#c2c2c2"/>
<circle cx="140.99" cy="252.06" r="0.6" fill="#c2c2c2"/>
<circle cx="169.11" cy="249.83" r="0.6" fill="#b8b8b8"/>
<circle cx="166.02" cy="245.3" r="0.6" fill="#b8b8b8"/>
<circle cx="172.08" cy="251.54" r="0.6" fill="#b8b8b8"/>
<circle cx="170.5" cy="247.07" r="0.6" fill="#b8b8b8"/>
<circle cx="166.25" cy="244.67" r="0.6" fill="#b8b8b8"/>
<circle cx="169.58" cy="253.38" r="0.6" fill="#b8b8b8"/>
<circle cx="161.32" cy="249.9" r="0.6" fill="#b8b8b8"/>
<circle cx="168.64" cy="244.91" r="0.6" fill="#b8b8b8"/>
<circle cx="161.9" cy="247.19" r="0.6" fill="#b8b8b8"/>
<rect x="186.4" y="241.1" width="140.6" height="18.5" fill="#535555"/>
<rect x="186.4" y="258.8" width="140.6" height="0.8" fill="#6a6a6a"/>
<circle cx="197.2" cy="250.05" r="6" fill="#cccccc"/>
<circle cx="197.2" cy="250.05" r="5" fill="#b8b8b8"/>
<circle cx="221.2" cy="250.05" r="6" fill="#cccccc"/>
<circle cx="221.2" cy="250.05" r="5" fill="#b8b8b8"/>
<circle cx="246.3" cy="250.05" r="6" fill="#cccccc"/>
<circle cx="246.3" cy="250.05" r="5" fill="#b8b8b8"/>
<circle cx="270.9" cy="250.05" r="6" fill="#aaaaaa"/>
<circle cx="269.09" cy="246.02" r="0.55" fill="#c8c8c8"/>
<circle cx="271.02" cy="250.98" r="0.55" fill="#c8c8c8"/>
<circle cx="273.03" cy="252.41" r="0.55" fill="#c8c8c8"/>
<circle cx="274.73" cy="253.02" r="0.55" fill="#c8c8c8"/>
<circle cx="266.98" cy="248.54" r="0.55" fill="#c8c8c8"/>
<circle cx="267.83" cy="246.93" r="0.55" fill="#c8c8c8"/>
<circle cx="270.6" cy="250.07" r="0.55" fill="#c8c8c8"/>
<circle cx="272.25" cy="245.67" r="0.55" fill="#c8c8c8"/>
<circle cx="267.02" cy="249.98" r="0.55" fill="#c8c8c8"/>
<circle cx="270.16" cy="248.9" r="0.55" fill="#c8c8c8"/>
<circle cx="270.68" cy="247.4" r="0.55" fill="#c8c8c8"/>
<circle cx="273.34" cy="251.28" r="0.55" fill="#c8c8c8"/>
<circle cx="270.59" cy="247.67" r="0.55" fill="#c8c8c8"/>
<circle cx="270.56" cy="244.83" r="0.55" fill="#c8c8c8"/>
<circle cx="267.62" cy="250.17" r="0.55" fill="#c8c8c8"/>
<circle cx="266.56" cy="250.63" r="0.55" fill="#c8c8c8"/>
<circle cx="271.34" cy="245.91" r="0.55" fill="#c8c8c8"/>
<circle cx="269.98" cy="248.9" r="0.55" fill="#c8c8c8"/>
<circle cx="272.5" cy="252.19" r="0.55" fill="#c8c8c8"/>
<circle cx="270.78" cy="247.13" r="0.55" fill="#c8c8c8"/>
<circle cx="270.36" cy="249.81" r="0.55" fill="#c8c8c8"/>
<circle cx="273.45" cy="251.07" r="0.55" fill="#c8c8c8"/>
<circle cx="268.82" cy="246.16" r="0.55" fill="#c8c8c8"/>
<circle cx="269.61" cy="247.5" r="0.55" fill="#c8c8c8"/>
<circle cx="267.31" cy="249.68" r="0.55" fill="#c8c8c8"/>
<circle cx="269.12" cy="250.43" r="0.55" fill="#c8c8c8"/>
<circle cx="272.76" cy="248.58" r="0.55" fill="#c8c8c8"/>
<circle cx="275.98" cy="249.35" r="0.55" fill="#c8c8c8"/>
<circle cx="274.47" cy="250.44" r="0.55" fill="#c8c8c8"/>
<circle cx="273.12" cy="245.33" r="0.55" fill="#c8c8c8"/>
<circle cx="294.3" cy="250.05" r="6" fill="#767676"/>
<circle cx="291.59" cy="250.94" r="0.6" fill="#c2c2c2"/>
<circle cx="295.64" cy="255.23" r="0.6" fill="#c2c2c2"/>
<circle cx="295.33" cy="254.12" r="0.6" fill="#c2c2c2"/>
<circle cx="296.8" cy="253.15" r="0.6" fill="#c2c2c2"/>
<circle cx="296.22" cy="249.46" r="0.6" fill="#c2c2c2"/>
<circle cx="295.97" cy="246.5" r="0.6" fill="#c2c2c2"/>
<circle cx="297.79" cy="247.04" r="0.6" fill="#c2c2c2"/>
<circle cx="294.91" cy="255.23" r="0.6" fill="#c2c2c2"/>
<circle cx="293.44" cy="250.13" r="0.6" fill="#c2c2c2"/>
<circle cx="298.16" cy="250.14" r="0.6" fill="#c2c2c2"/>
<circle cx="291.42" cy="250.97" r="0.6" fill="#c2c2c2"/>
<circle cx="296.35" cy="252.54" r="0.6" fill="#c2c2c2"/>
<circle cx="292.27" cy="254.66" r="0.6" fill="#c2c2c2"/>
<circle cx="299.07" cy="250.1" r="0.6" fill="#c2c2c2"/>
<circle cx="295.31" cy="248.44" r="0.6" fill="#c2c2c2"/>
<circle cx="298.46" cy="247.98" r="0.6" fill="#c2c2c2"/>
<circle cx="296.71" cy="248.33" r="0.6" fill="#c2c2c2"/>
<circle cx="291.91" cy="252.53" r="0.6" fill="#c2c2c2"/>
<circle cx="298.52" cy="250.02" r="0.6" fill="#c2c2c2"/>
<circle cx="291.99" cy="252.81" r="0.6" fill="#c2c2c2"/>
<circle cx="294.11" cy="251.24" r="0.6" fill="#c2c2c2"/>
<circle cx="298.33" cy="253.05" r="0.6" fill="#c2c2c2"/>
<circle cx="293.12" cy="255.24" r="0.6" fill="#c2c2c2"/>
<circle cx="294.31" cy="252.89" r="0.6" fill="#c2c2c2"/>
<circle cx="291.91" cy="249.89" r="0.6" fill="#c2c2c2"/>
<circle cx="290.54" cy="253.89" r="0.6" fill="#c2c2c2"/>
<circle cx="298" cy="246.75" r="0.6" fill="#c2c2c2"/>
<circle cx="290.72" cy="246.2" r="0.6" fill="#c2c2c2"/>
<circle cx="298.1" cy="248.57" r="0.6" fill="#c2c2c2"/>
<circle cx="294.07" cy="248.85" r="0.6" fill="#c2c2c2"/>
<circle cx="293.89" cy="246.38" r="0.6" fill="#c2c2c2"/>
<circle cx="294.37" cy="245.64" r="0.6" fill="#c2c2c2"/>
<circle cx="294.03" cy="251.24" r="0.6" fill="#c2c2c2"/>
<circle cx="296.06" cy="249.18" r="0.6" fill="#c2c2c2"/>
<circle cx="291.12" cy="250.61" r="0.6" fill="#c2c2c2"/>
<circle cx="292.9" cy="254.57" r="0.6" fill="#c2c2c2"/>
<circle cx="297.07" cy="249.63" r="0.6" fill="#c2c2c2"/>
<circle cx="292.62" cy="247.54" r="0.6" fill="#c2c2c2"/>
<circle cx="316.47" cy="248.72" r="0.6" fill="#b8b8b8"/>
<circle cx="321.2" cy="252.14" r="0.6" fill="#b8b8b8"/>
<circle cx="321.49" cy="255.56" r="0.6" fill="#b8b8b8"/>
<circle cx="317.19" cy="250.1" r="0.6" fill="#b8b8b8"/>
<circle cx="324.98" cy="246.72" r="0.6" fill="#b8b8b8"/>
<circle cx="317.87" cy="250.74" r="0.6" fill="#b8b8b8"/>
<circle cx="320.64" cy="251.74" r="0.6" fill="#b8b8b8"/>
<circle cx="319.01" cy="251.57" r="0.6" fill="#b8b8b8"/>
<circle cx="320.21" cy="253.09" r="0.6" fill="#b8b8b8"/>
<text x="31" y="276.9" font-size="10.5" text-anchor="end" fill="#111">JN206</text>
<rect x="38" y="262.3" width="137.7" height="18.5" fill="#535555"/>
<rect x="38" y="280" width="137.7" height="0.8" fill="#6a6a6a"/>
<circle cx="48.4" cy="271.25" r="6" fill="#cccccc"/>
<circle cx="48.4" cy="271.25" r="5" fill="#b8b8b8"/>
<circle cx="71.6" cy="271.25" r="6" fill="#cccccc"/>
<circle cx="71.6" cy="271.25" r="5" fill="#b8b8b8"/>
<circle cx="96.6" cy="271.25" r="6" fill="#cccccc"/>
<circle cx="96.6" cy="271.25" r="5" fill="#b8b8b8"/>
<circle cx="120.6" cy="271.25" r="6" fill="#aaaaaa"/>
<circle cx="116.08" cy="269.14" r="0.55" fill="#c8c8c8"/>
<circle cx="120.59" cy="267.84" r="0.55" fill="#c8c8c8"/>
<circle cx="117.31" cy="273.23" r="0.55" fill="#c8c8c8"/>
<circle cx="118.4" cy="273.4" r="0.55" fill="#c8c8c8"/>
<circle cx="123.18" cy="272.31" r="0.55" fill="#c8c8c8"/>
<circle cx="122.44" cy="270.87" r="0.55" fill="#c8c8c8"/>
<circle cx="116.4" cy="271.16" r="0.55" fill="#c8c8c8"/>
<circle cx="122.2" cy="269.38" r="0.55" fill="#c8c8c8"/>
<circle cx="120.25" cy="273.87" r="0.55" fill="#c8c8c8"/>
<circle cx="117.74" cy="273.33" r="0.55" fill="#c8c8c8"/>
<circle cx="125.28" cy="269.86" r="0.55" fill="#c8c8c8"/>
<circle cx="121.15" cy="270.69" r="0.55" fill="#c8c8c8"/>
<circle cx="124.97" cy="272.15" r="0.55" fill="#c8c8c8"/>
<circle cx="123.49" cy="269.03" r="0.55" fill="#c8c8c8"/>
<circle cx="120.54" cy="271.21" r="0.55" fill="#c8c8c8"/>
<circle cx="116.64" cy="274.46" r="0.55" fill="#c8c8c8"/>
<circle cx="122.84" cy="266.89" r="0.55" fill="#c8c8c8"/>
<circle cx="123.2" cy="270.79" r="0.55" fill="#c8c8c8"/>
<circle cx="122.21" cy="272.57" r="0.55" fill="#c8c8c8"/>
<circle cx="116.27" cy="270.64" r="0.55" fill="#c8c8c8"/>
<circle cx="124.8" cy="269.63" r="0.55" fill="#c8c8c8"/>
<circle cx="117.81" cy="267.55" r="0.55" fill="#c8c8c8"/>
<circle cx="116.8" cy="272.29" r="0.55" fill="#c8c8c8"/>
<circle cx="125.14" cy="272.4" r="0.55" fill="#c8c8c8"/>
<circle cx="121.16" cy="276.3" r="0.55" fill="#c8c8c8"/>
<circle cx="118.82" cy="268.94" r="0.55" fill="#c8c8c8"/>
<circle cx="122.45" cy="273.17" r="0.55" fill="#c8c8c8"/>
<circle cx="117.7" cy="267.9" r="0.55" fill="#c8c8c8"/>
<circle cx="121.67" cy="272.16" r="0.55" fill="#c8c8c8"/>
<circle cx="116.6" cy="270.63" r="0.55" fill="#c8c8c8"/>
<circle cx="143.4" cy="271.25" r="6" fill="#767676"/>
<circle cx="141.42" cy="272.93" r="0.6" fill="#c2c2c2"/>
<circle cx="142.95" cy="270.92" r="0.6" fill="#c2c2c2"/>
<circle cx="142.21" cy="274.79" r="0.6" fill="#c2c2c2"/>
<circle cx="147.67" cy="270.12" r="0.6" fill="#c2c2c2"/>
<circle cx="146.22" cy="268.72" r="0.6" fill="#c2c2c2"/>
<circle cx="143.66" cy="273.97" r="0.6" fill="#c2c2c2"/>
<circle cx="147.88" cy="270.12" r="0.6" fill="#c2c2c2"/>
<circle cx="143.11" cy="272.01" r="0.6" fill="#c2c2c2"/>
<circle cx="138.88" cy="271.3" r="0.6" fill="#c2c2c2"/>
<circle cx="140.96" cy="272.59" r="0.6" fill="#c2c2c2"/>
<circle cx="140.77" cy="266.66" r="0.6" fill="#c2c2c2"/>
<circle cx="143.55" cy="272.25" r="0.6" fill="#c2c2c2"/>
<circle cx="141.53" cy="274.28" r="0.6" fill="#c2c2c2"/>
<circle cx="142.39" cy="269.02" r="0.6" fill="#c2c2c2"/>
<circle cx="144.78" cy="266.73" r="0.6" fill="#c2c2c2"/>
<circle cx="140.91" cy="271.17" r="0.6" fill="#c2c2c2"/>
<circle cx="146.42" cy="270.67" r="0.6" fill="#c2c2c2"/>
<circle cx="144.52" cy="268.86" r="0.6" fill="#c2c2c2"/>
<circle cx="144.26" cy="275.97" r="0.6" fill="#c2c2c2"/>
<circle cx="141.91" cy="276.4" r="0.6" fill="#c2c2c2"/>
<circle cx="141.02" cy="271.31" r="0.6" fill="#c2c2c2"/>
<circle cx="143.99" cy="274.75" r="0.6" fill="#c2c2c2"/>
<circle cx="140.68" cy="266.63" r="0.6" fill="#c2c2c2"/>
<circle cx="145.49" cy="273.99" r="0.6" fill="#c2c2c2"/>
<circle cx="144.65" cy="276.53" r="0.6" fill="#c2c2c2"/>
<circle cx="144.19" cy="272.22" r="0.6" fill="#c2c2c2"/>
<circle cx="146.61" cy="272.52" r="0.6" fill="#c2c2c2"/>
<circle cx="147.55" cy="268.16" r="0.6" fill="#c2c2c2"/>
<circle cx="142.8" cy="265.79" r="0.6" fill="#c2c2c2"/>
<circle cx="146.27" cy="269.93" r="0.6" fill="#c2c2c2"/>
<circle cx="145.5" cy="276.14" r="0.6" fill="#c2c2c2"/>
<circle cx="143.38" cy="270.27" r="0.6" fill="#c2c2c2"/>
<circle cx="141.67" cy="268.34" r="0.6" fill="#c2c2c2"/>
<circle cx="141.18" cy="273.51" r="0.6" fill="#c2c2c2"/>
<circle cx="143.54" cy="271.51" r="0.6" fill="#c2c2c2"/>
<circle cx="142.79" cy="274.45" r="0.6" fill="#c2c2c2"/>
<circle cx="145.26" cy="270.72" r="0.6" fill="#c2c2c2"/>
<circle cx="145.84" cy="270.69" r="0.6" fill="#c2c2c2"/>
<circle cx="163.42" cy="275.51" r="0.6" fill="#b8b8b8"/>
<circle cx="168.52" cy="267.7" r="0.6" fill="#b8b8b8"/>
<circle cx="170.73" cy="272.51" r="0.6" fill="#b8b8b8"/>
<circle cx="162.79" cy="275.38" r="0.6" fill="#b8b8b8"/>
<circle cx="168.07" cy="274.64" r="0.6" fill="#b8b8b8"/>
<circle cx="167.63" cy="270.62" r="0.6" fill="#b8b8b8"/>
<circle cx="162.22" cy="274.12" r="0.6" fill="#b8b8b8"/>
<circle cx="166.93" cy="270.05" r="0.6" fill="#b8b8b8"/>
<circle cx="168.27" cy="271.58" r="0.6" fill="#b8b8b8"/>
<rect x="186.4" y="262.3" width="140.6" height="18.5" fill="#535555"/>
<rect x="186.4" y="280" width="140.6" height="0.8" fill="#6a6a6a"/>
<circle cx="197.2" cy="271.25" r="6" fill="#cccccc"/>
<circle cx="197.2" cy="271.25" r="5" fill="#b8b8b8"/>
<circle cx="221.2" cy="271.25" r="6" fill="#cccccc"/>
<circle cx="221.2" cy="271.25" r="5" fill="#b8b8b8"/>
<circle cx="246.3" cy="271.25" r="6" fill="#cccccc"/>
<circle cx="246.3" cy="271.25" r="5" fill="#b8b8b8"/>
<circle cx="270.9" cy="271.25" r="6" fill="#aaaaaa"/>
<circle cx="273.25" cy="269.96" r="0.55" fill="#c8c8c8"/>
<circle cx="270.81" cy="266.23" r="0.55" fill="#c8c8c8"/>
<circle cx="269.43" cy="273.59" r="0.55" fill="#c8c8c8"/>
<circle cx="274.92" cy="270.16" r="0.55" fill="#c8c8c8"/>
<circle cx="270.56" cy="275.72" r="0.55" fill="#c8c8c8"/>
<circle cx="269.77" cy="273.79" r="0.55" fill="#c8c8c8"/>
<circle cx="275.51" cy="271.36" r="0.55" fill="#c8c8c8"/>
<circle cx="274.55" cy="269.13" r="0.55" fill="#c8c8c8"/>
<circle cx="271.67" cy="270.96" r="0.55" fill="#c8c8c8"/>
<circle cx="271.27" cy="274.88" r="0.55" fill="#c8c8c8"/>
<circle cx="275.89" cy="269.86" r="0.55" fill="#c8c8c8"/>
<circle cx="268.89" cy="272.99" r="0.55" fill="#c8c8c8"/>
<circle cx="267.53" cy="272.84" r="0.55" fill="#c8c8c8"/>
<circle cx="272.94" cy="270.26" r="0.55" fill="#c8c8c8"/>
<circle cx="272.38" cy="266.94" r="0.55" fill="#c8c8c8"/>
<circle cx="272.96" cy="267.07" r="0.55" fill="#c8c8c8"/>
<circle cx="268.53" cy="269.36" r="0.55" fill="#c8c8c8"/>
<circle cx="269.55" cy="274.14" r="0.55" fill="#c8c8c8"/>
<circle cx="271.2" cy="269.79" r="0.55" fill="#c8c8c8"/>
<circle cx="272.39" cy="275.6" r="0.55" fill="#c8c8c8"/>
<circle cx="270.92" cy="272.6" r="0.55" fill="#c8c8c8"/>
<circle cx="274.75" cy="272.08" r="0.55" fill="#c8c8c8"/>
<circle cx="268.5" cy="275.91" r="0.55" fill="#c8c8c8"/>
<circle cx="274.82" cy="267.73" r="0.55" fill="#c8c8c8"/>
<circle cx="270.76" cy="272.78" r="0.55" fill="#c8c8c8"/>
<circle cx="273.98" cy="273.38" r="0.55" fill="#c8c8c8"/>
<circle cx="270.01" cy="267.82" r="0.55" fill="#c8c8c8"/>
<circle cx="271.24" cy="274.65" r="0.55" fill="#c8c8c8"/>
<circle cx="267.73" cy="268.27" r="0.55" fill="#c8c8c8"/>
<circle cx="270.84" cy="266.37" r="0.55" fill="#c8c8c8"/>
<circle cx="294.3" cy="271.25" r="6" fill="#767676"/>
<circle cx="293.32" cy="269.61" r="0.6" fill="#c2c2c2"/>
<circle cx="295.91" cy="268.74" r="0.6" fill="#c2c2c2"/>
<circle cx="291.23" cy="269.88" r="0.6" fill="#c2c2c2"/>
<circle cx="294.12" cy="268.8" r="0.6" fill="#c2c2c2"/>
<circle cx="294.34" cy="273.97" r="0.6" fill="#c2c2c2"/>
<circle cx="297.25" cy="275.5" r="0.6" fill="#c2c2c2"/>
<circle cx="291.53" cy="269.77" r="0.6" fill="#c2c2c2"/>
<circle cx="289.95" cy="274.58" r="0.6" fill="#c2c2c2"/>
<circle cx="291.66" cy="271.13" r="0.6" fill="#c2c2c2"/>
<circle cx="295.9" cy="267.1" r="0.6" fill="#c2c2c2"/>
<circle cx="296.06" cy="271.15" r="0.6" fill="#c2c2c2"/>
<circle cx="289.38" cy="272.04" r="0.6" fill="#c2c2c2"/>
<circle cx="297.13" cy="266.82" r="0.6" fill="#c2c2c2"/>
<circle cx="297.19" cy="272" r="0.6" fill="#c2c2c2"/>
<circle cx="296.05" cy="272.88" r="0.6" fill="#c2c2c2"/>
<circle cx="298.44" cy="270.54" r="0.6" fill="#c2c2c2"/>
<circle cx="297.34" cy="269.82" r="0.6" fill="#c2c2c2"/>
<circle cx="296.76" cy="268.5" r="0.6" fill="#c2c2c2"/>
<circle cx="294" cy="276.09" r="0.6" fill="#c2c2c2"/>
<circle cx="295.99" cy="270.65" r="0.6" fill="#c2c2c2"/>
<circle cx="290.74" cy="268.79" r="0.6" fill="#c2c2c2"/>
<circle cx="294.97" cy="274.52" r="0.6" fill="#c2c2c2"/>
<circle cx="295.87" cy="273.18" r="0.6" fill="#c2c2c2"/>
<circle cx="294.17" cy="275.51" r="0.6" fill="#c2c2c2"/>
<circle cx="292.86" cy="269.23" r="0.6" fill="#c2c2c2"/>
<circle cx="297.44" cy="271.47" r="0.6" fill="#c2c2c2"/>
<circle cx="293.27" cy="269.12" r="0.6" fill="#c2c2c2"/>
<circle cx="293.36" cy="273.54" r="0.6" fill="#c2c2c2"/>
<circle cx="295.44" cy="267.34" r="0.6" fill="#c2c2c2"/>
<circle cx="295.91" cy="271.93" r="0.6" fill="#c2c2c2"/>
<circle cx="291.07" cy="273.74" r="0.6" fill="#c2c2c2"/>
<circle cx="293.23" cy="269.98" r="0.6" fill="#c2c2c2"/>
<circle cx="296.67" cy="275.18" r="0.6" fill="#c2c2c2"/>
<circle cx="291.83" cy="272.82" r="0.6" fill="#c2c2c2"/>
<circle cx="292.4" cy="276.27" r="0.6" fill="#c2c2c2"/>
<circle cx="292.72" cy="275.08" r="0.6" fill="#c2c2c2"/>
<circle cx="292.09" cy="274.02" r="0.6" fill="#c2c2c2"/>
<circle cx="297.91" cy="267.11" r="0.6" fill="#c2c2c2"/>
<circle cx="318.25" cy="273.26" r="0.6" fill="#b8b8b8"/>
<circle cx="319.63" cy="268.57" r="0.6" fill="#b8b8b8"/>
<circle cx="325.69" cy="271.46" r="0.6" fill="#b8b8b8"/>
<circle cx="315.18" cy="273.76" r="0.6" fill="#b8b8b8"/>
<circle cx="315.31" cy="274.38" r="0.6" fill="#b8b8b8"/>
<circle cx="317.65" cy="271.84" r="0.6" fill="#b8b8b8"/>
<circle cx="324.44" cy="271.66" r="0.6" fill="#b8b8b8"/>
<circle cx="316.37" cy="266.83" r="0.6" fill="#b8b8b8"/>
<circle cx="324.01" cy="273.76" r="0.6" fill="#b8b8b8"/>
<text x="31" y="298" font-size="10.5" text-anchor="end" fill="#111">JN174</text>
<rect x="38" y="283.4" width="137.7" height="18.5" fill="#535555"/>
<rect x="38" y="301.1" width="137.7" height="0.8" fill="#6a6a6a"/>
<circle cx="48.4" cy="292.35" r="6" fill="#cccccc"/>
<circle cx="48.4" cy="292.35" r="5" fill="#b8b8b8"/>
<circle cx="71.6" cy="292.35" r="6" fill="#cccccc"/>
<circle cx="71.6" cy="292.35" r="5" fill="#b8b8b8"/>
<circle cx="96.6" cy="292.35" r="6" fill="#cccccc"/>
<circle cx="96.6" cy="292.35" r="5" fill="#b8b8b8"/>
<circle cx="120.6" cy="292.35" r="6" fill="#aaaaaa"/>
<circle cx="118.01" cy="295.08" r="0.55" fill="#c8c8c8"/>
<circle cx="122.32" cy="294.59" r="0.55" fill="#c8c8c8"/>
<circle cx="115.55" cy="291.67" r="0.55" fill="#c8c8c8"/>
<circle cx="123.48" cy="294.69" r="0.55" fill="#c8c8c8"/>
<circle cx="122.36" cy="287.44" r="0.55" fill="#c8c8c8"/>
<circle cx="121.21" cy="294.13" r="0.55" fill="#c8c8c8"/>
<circle cx="125.5" cy="290.52" r="0.55" fill="#c8c8c8"/>
<circle cx="119.38" cy="292.48" r="0.55" fill="#c8c8c8"/>
<circle cx="123.55" cy="290.87" r="0.55" fill="#c8c8c8"/>
<circle cx="124.04" cy="289.99" r="0.55" fill="#c8c8c8"/>
<circle cx="121.56" cy="290.46" r="0.55" fill="#c8c8c8"/>
<circle cx="121.16" cy="289.92" r="0.55" fill="#c8c8c8"/>
<circle cx="116.58" cy="295.1" r="0.55" fill="#c8c8c8"/>
<circle cx="121.68" cy="290.36" r="0.55" fill="#c8c8c8"/>
<circle cx="121.27" cy="295.63" r="0.55" fill="#c8c8c8"/>
<circle cx="117.34" cy="291.98" r="0.55" fill="#c8c8c8"/>
<circle cx="122.49" cy="294.19" r="0.55" fill="#c8c8c8"/>
<circle cx="119.81" cy="287.39" r="0.55" fill="#c8c8c8"/>
<circle cx="124.44" cy="293.36" r="0.55" fill="#c8c8c8"/>
<circle cx="120.65" cy="291.32" r="0.55" fill="#c8c8c8"/>
<circle cx="121.56" cy="290.8" r="0.55" fill="#c8c8c8"/>
<circle cx="117.41" cy="290.05" r="0.55" fill="#c8c8c8"/>
<circle cx="118.55" cy="290.25" r="0.55" fill="#c8c8c8"/>
<circle cx="117.05" cy="294.3" r="0.55" fill="#c8c8c8"/>
<circle cx="116.76" cy="294.29" r="0.55" fill="#c8c8c8"/>
<circle cx="117.29" cy="293.5" r="0.55" fill="#c8c8c8"/>
<circle cx="124.72" cy="292.96" r="0.55" fill="#c8c8c8"/>
<circle cx="118.03" cy="292.52" r="0.55" fill="#c8c8c8"/>
<circle cx="121" cy="287.69" r="0.55" fill="#c8c8c8"/>
<circle cx="118.43" cy="292.93" r="0.55" fill="#c8c8c8"/>
<circle cx="143.4" cy="292.35" r="6" fill="#6e6e6e"/>
<circle cx="141.63" cy="292.65" r="0.6" fill="#bababa"/>
<circle cx="145.9" cy="294.96" r="0.6" fill="#bababa"/>
<circle cx="146.47" cy="294.34" r="0.6" fill="#bababa"/>
<circle cx="142.29" cy="292.28" r="0.6" fill="#bababa"/>
<circle cx="142.37" cy="291.16" r="0.6" fill="#bababa"/>
<circle cx="142.9" cy="287.53" r="0.6" fill="#bababa"/>
<circle cx="142.12" cy="292.26" r="0.6" fill="#bababa"/>
<circle cx="140.02" cy="292.27" r="0.6" fill="#bababa"/>
<circle cx="145.33" cy="291.73" r="0.6" fill="#bababa"/>
<circle cx="146.82" cy="288.06" r="0.6" fill="#bababa"/>
<circle cx="142.84" cy="287.42" r="0.6" fill="#bababa"/>
<circle cx="145.29" cy="297.46" r="0.6" fill="#bababa"/>
<circle cx="138.03" cy="292.63" r="0.6" fill="#bababa"/>
<circle cx="145.33" cy="291.22" r="0.6" fill="#bababa"/>
<circle cx="144.67" cy="287.2" r="0.6" fill="#bababa"/>
<circle cx="146.39" cy="293.65" r="0.6" fill="#bababa"/>
<circle cx="143.48" cy="290.16" r="0.6" fill="#bababa"/>
<circle cx="145.7" cy="290.6" r="0.6" fill="#bababa"/>
<circle cx="144.23" cy="290.44" r="0.6" fill="#bababa"/>
<circle cx="138.13" cy="292.28" r="0.6" fill="#bababa"/>
<circle cx="144.13" cy="295.07" r="0.6" fill="#bababa"/>
<circle cx="140.3" cy="292.23" r="0.6" fill="#bababa"/>
<circle cx="145.68" cy="292.89" r="0.6" fill="#bababa"/>
<circle cx="146.22" cy="296.87" r="0.6" fill="#bababa"/>
<circle cx="141.17" cy="287.65" r="0.6" fill="#bababa"/>
<circle cx="145.78" cy="296.6" r="0.6" fill="#bababa"/>
<circle cx="146.4" cy="295" r="0.6" fill="#bababa"/>
<circle cx="141.24" cy="289.86" r="0.6" fill="#bababa"/>
<circle cx="146.26" cy="289.41" r="0.6" fill="#bababa"/>
<circle cx="138.87" cy="289.86" r="0.6" fill="#bababa"/>
<circle cx="147.74" cy="295.7" r="0.6" fill="#bababa"/>
<circle cx="141.03" cy="289.84" r="0.6" fill="#bababa"/>
<circle cx="144.23" cy="289.65" r="0.6" fill="#bababa"/>
<circle cx="147.57" cy="292.1" r="0.6" fill="#bababa"/>
<circle cx="140.33" cy="296.05" r="0.6" fill="#bababa"/>
<circle cx="141.24" cy="293.17" r="0.6" fill="#bababa"/>
<circle cx="143.35" cy="291.14" r="0.6" fill="#bababa"/>
<circle cx="144.58" cy="289.84" r="0.6" fill="#bababa"/>
<circle cx="162.98" cy="287.78" r="0.5" fill="#a8a8a8"/>
<circle cx="162.61" cy="289.84" r="0.5" fill="#a8a8a8"/>
<circle cx="166.7" cy="292.58" r="0.5" fill="#a8a8a8"/>
<rect x="186.4" y="283.4" width="140.6" height="18.5" fill="#575757"/>
<rect x="186.4" y="301.1" width="140.6" height="0.8" fill="#6a6a6a"/>
<circle cx="197.2" cy="292.35" r="4.8" fill="#656565"/>
<text x="31" y="319.1" font-size="10.5" text-anchor="end" fill="#111">JN208</text>
<rect x="38" y="304.5" width="137.7" height="18.5" fill="#535555"/>
<rect x="38" y="322.2" width="137.7" height="0.8" fill="#6a6a6a"/>
<circle cx="48.4" cy="313.45" r="6" fill="#cccccc"/>
<circle cx="48.4" cy="313.45" r="5" fill="#b8b8b8"/>
<circle cx="71.6" cy="313.45" r="6" fill="#cccccc"/>
<circle cx="71.6" cy="313.45" r="5" fill="#b8b8b8"/>
<circle cx="96.6" cy="313.45" r="6" fill="#cccccc"/>
<circle cx="96.6" cy="313.45" r="5" fill="#b8b8b8"/>
<circle cx="120.6" cy="313.45" r="6" fill="#aaaaaa"/>
<circle cx="122.6" cy="313.88" r="0.55" fill="#c8c8c8"/>
<circle cx="118" cy="311.13" r="0.55" fill="#c8c8c8"/>
<circle cx="115.6" cy="313.05" r="0.55" fill="#c8c8c8"/>
<circle cx="122.31" cy="315.31" r="0.55" fill="#c8c8c8"/>
<circle cx="120.15" cy="312.8" r="0.55" fill="#c8c8c8"/>
<circle cx="123.76" cy="313.5" r="0.55" fill="#c8c8c8"/>
<circle cx="123.09" cy="315.41" r="0.55" fill="#c8c8c8"/>
<circle cx="121.25" cy="317.45" r="0.55" fill="#c8c8c8"/>
<circle cx="118.57" cy="312.18" r="0.55" fill="#c8c8c8"/>
<circle cx="118" cy="310.89" r="0.55" fill="#c8c8c8"/>
<circle cx="124" cy="317.29" r="0.55" fill="#c8c8c8"/>
<circle cx="120.68" cy="315.5" r="0.55" fill="#c8c8c8"/>
<circle cx="124.09" cy="315.85" r="0.55" fill="#c8c8c8"/>
<circle cx="123.84" cy="310.06" r="0.55" fill="#c8c8c8"/>
<circle cx="118.38" cy="315.02" r="0.55" fill="#c8c8c8"/>
<circle cx="124.85" cy="313.76" r="0.55" fill="#c8c8c8"/>
<circle cx="117.7" cy="312.25" r="0.55" fill="#c8c8c8"/>
<circle cx="118.45" cy="310.65" r="0.55" fill="#c8c8c8"/>
<circle cx="124.79" cy="311.7" r="0.55" fill="#c8c8c8"/>
<circle cx="120.65" cy="318.49" r="0.55" fill="#c8c8c8"/>
<circle cx="124.32" cy="314.5" r="0.55" fill="#c8c8c8"/>
<circle cx="118.45" cy="314.89" r="0.55" fill="#c8c8c8"/>
<circle cx="124.97" cy="315.13" r="0.55" fill="#c8c8c8"/>
<circle cx="124.52" cy="313.75" r="0.55" fill="#c8c8c8"/>
<circle cx="122.46" cy="312.72" r="0.55" fill="#c8c8c8"/>
<circle cx="121.89" cy="317.38" r="0.55" fill="#c8c8c8"/>
<circle cx="116.36" cy="313.27" r="0.55" fill="#c8c8c8"/>
<circle cx="121.46" cy="311.41" r="0.55" fill="#c8c8c8"/>
<circle cx="119.54" cy="316.15" r="0.55" fill="#c8c8c8"/>
<circle cx="125.37" cy="314.95" r="0.55" fill="#c8c8c8"/>
<circle cx="143.4" cy="313.45" r="6" fill="#767676"/>
<circle cx="144.36" cy="308.9" r="0.6" fill="#c2c2c2"/>
<circle cx="148.45" cy="313.65" r="0.6" fill="#c2c2c2"/>
<circle cx="143.29" cy="309.7" r="0.6" fill="#c2c2c2"/>
<circle cx="143.21" cy="309.76" r="0.6" fill="#c2c2c2"/>
<circle cx="143.67" cy="315.21" r="0.6" fill="#c2c2c2"/>
<circle cx="143.52" cy="314.53" r="0.6" fill="#c2c2c2"/>
<circle cx="140.96" cy="317.54" r="0.6" fill="#c2c2c2"/>
<circle cx="141.69" cy="308.69" r="0.6" fill="#c2c2c2"/>
<circle cx="142.72" cy="310.7" r="0.6" fill="#c2c2c2"/>
<circle cx="139.97" cy="312.25" r="0.6" fill="#c2c2c2"/>
<circle cx="144.35" cy="309.59" r="0.6" fill="#c2c2c2"/>
<circle cx="142.98" cy="317.84" r="0.6" fill="#c2c2c2"/>
<circle cx="145.9" cy="312.89" r="0.6" fill="#c2c2c2"/>
<circle cx="143.89" cy="312.99" r="0.6" fill="#c2c2c2"/>
<circle cx="143.23" cy="316.12" r="0.6" fill="#c2c2c2"/>
<circle cx="143.19" cy="308.11" r="0.6" fill="#c2c2c2"/>
<circle cx="143.32" cy="310.31" r="0.6" fill="#c2c2c2"/>
<circle cx="145.7" cy="311.29" r="0.6" fill="#c2c2c2"/>
<circle cx="143.76" cy="318.68" r="0.6" fill="#c2c2c2"/>
<circle cx="140.28" cy="310.1" r="0.6" fill="#c2c2c2"/>
<circle cx="140.64" cy="308.76" r="0.6" fill="#c2c2c2"/>
<circle cx="138.45" cy="314.41" r="0.6" fill="#c2c2c2"/>
<circle cx="141.75" cy="308.63" r="0.6" fill="#c2c2c2"/>
<circle cx="139.08" cy="315.25" r="0.6" fill="#c2c2c2"/>
<circle cx="140.64" cy="312.15" r="0.6" fill="#c2c2c2"/>
<circle cx="144.43" cy="317.67" r="0.6" fill="#c2c2c2"/>
<circle cx="148.03" cy="315.91" r="0.6" fill="#c2c2c2"/>
<circle cx="143.95" cy="314.16" r="0.6" fill="#c2c2c2"/>
<circle cx="147.55" cy="316.74" r="0.6" fill="#c2c2c2"/>
<circle cx="142.24" cy="315.16" r="0.6" fill="#c2c2c2"/>
<circle cx="144.5" cy="313.65" r="0.6" fill="#c2c2c2"/>
<circle cx="141.85" cy="309.35" r="0.6" fill="#c2c2c2"/>
<circle cx="141.86" cy="308.99" r="0.6" fill="#c2c2c2"/>
<circle cx="147.27" cy="315.15" r="0.6" fill="#c2c2c2"/>
<circle cx="140.15" cy="317.21" r="0.6" fill="#c2c2c2"/>
<circle cx="145.6" cy="308.75" r="0.6" fill="#c2c2c2"/>
<circle cx="148.09" cy="315.51" r="0.6" fill="#c2c2c2"/>
<circle cx="147.99" cy="310.71" r="0.6" fill="#c2c2c2"/>
<circle cx="168.93" cy="315.15" r="0.5" fill="#a8a8a8"/>
<circle cx="167.65" cy="314.17" r="0.5" fill="#a8a8a8"/>
<circle cx="169.91" cy="309.03" r="0.5" fill="#a8a8a8"/>
<rect x="186.4" y="304.5" width="140.6" height="18.5" fill="#575757"/>
<rect x="186.4" y="322.2" width="140.6" height="0.8" fill="#6a6a6a"/>
<circle cx="197.2" cy="313.45" r="6" fill="#d2d2d2"/>
<circle cx="197.2" cy="313.45" r="5" fill="#bebebe"/>
<text x="31" y="340.2" font-size="10.5" text-anchor="end" fill="#111">JN212</text>
<rect x="38" y="325.6" width="137.7" height="18.5" fill="#535555"/>
<rect x="38" y="343.3" width="137.7" height="0.8" fill="#6a6a6a"/>
<circle cx="48.4" cy="334.55" r="6" fill="#cccccc"/>
<circle cx="48.4" cy="334.55" r="5" fill="#b8b8b8"/>
<circle cx="71.6" cy="334.55" r="6" fill="#cccccc"/>
<circle cx="71.6" cy="334.55" r="5" fill="#b8b8b8"/>
<circle cx="96.6" cy="334.55" r="6" fill="#cccccc"/>
<circle cx="96.6" cy="334.55" r="5" fill="#b8b8b8"/>
<circle cx="120.6" cy="334.55" r="6" fill="#aaaaaa"/>
<circle cx="117.4" cy="330.96" r="0.55" fill="#c8c8c8"/>
<circle cx="118.67" cy="332.46" r="0.55" fill="#c8c8c8"/>
<circle cx="121.94" cy="335.52" r="0.55" fill="#c8c8c8"/>
<circle cx="120.71" cy="332.15" r="0.55" fill="#c8c8c8"/>
<circle cx="119.15" cy="337.68" r="0.55" fill="#c8c8c8"/>
<circle cx="123.26" cy="334.9" r="0.55" fill="#c8c8c8"/>
<circle cx="119.69" cy="338.94" r="0.55" fill="#c8c8c8"/>
<circle cx="118.57" cy="336.76" r="0.55" fill="#c8c8c8"/>
<circle cx="124.27" cy="333.71" r="0.55" fill="#c8c8c8"/>
<circle cx="123.08" cy="331.2" r="0.55" fill="#c8c8c8"/>
<circle cx="123.94" cy="335.21" r="0.55" fill="#c8c8c8"/>
<circle cx="116.31" cy="336.36" r="0.55" fill="#c8c8c8"/>
<circle cx="118.06" cy="338.2" r="0.55" fill="#c8c8c8"/>
<circle cx="118.2" cy="333.97" r="0.55" fill="#c8c8c8"/>
<circle cx="121.64" cy="333.33" r="0.55" fill="#c8c8c8"/>
<circle cx="121.53" cy="332.57" r="0.55" fill="#c8c8c8"/>
<circle cx="122.98" cy="334.57" r="0.55" fill="#c8c8c8"/>
<circle cx="121" cy="329.32" r="0.55" fill="#c8c8c8"/>
<circle cx="124.31" cy="334.65" r="0.55" fill="#c8c8c8"/>
<circle cx="115.88" cy="334.8" r="0.55" fill="#c8c8c8"/>
<circle cx="122.09" cy="337.97" r="0.55" fill="#c8c8c8"/>
<circle cx="117.83" cy="338.51" r="0.55" fill="#c8c8c8"/>
<circle cx="120.26" cy="339.69" r="0.55" fill="#c8c8c8"/>
<circle cx="120.08" cy="336.95" r="0.55" fill="#c8c8c8"/>
<circle cx="119.43" cy="331" r="0.55" fill="#c8c8c8"/>
<circle cx="123.86" cy="337.24" r="0.55" fill="#c8c8c8"/>
<circle cx="124.71" cy="336.84" r="0.55" fill="#c8c8c8"/>
<circle cx="119.07" cy="330.11" r="0.55" fill="#c8c8c8"/>
<circle cx="118.41" cy="332.27" r="0.55" fill="#c8c8c8"/>
<circle cx="117.89" cy="336.49" r="0.55" fill="#c8c8c8"/>
<circle cx="143.4" cy="334.55" r="6" fill="#6a6a6a"/>
<circle cx="144.65" cy="333.52" r="0.6" fill="#b6b6b6"/>
<circle cx="144.07" cy="333.99" r="0.6" fill="#b6b6b6"/>
<circle cx="144.17" cy="337.27" r="0.6" fill="#b6b6b6"/>
<circle cx="146.57" cy="332.28" r="0.6" fill="#b6b6b6"/>
<circle cx="139.65" cy="338.11" r="0.6" fill="#b6b6b6"/>
<circle cx="143.78" cy="338.26" r="0.6" fill="#b6b6b6"/>
<circle cx="138.72" cy="333.61" r="0.6" fill="#b6b6b6"/>
<circle cx="143.48" cy="330.13" r="0.6" fill="#b6b6b6"/>
<circle cx="141.58" cy="337.11" r="0.6" fill="#b6b6b6"/>
<circle cx="146.23" cy="338.73" r="0.6" fill="#b6b6b6"/>
<circle cx="140.91" cy="330.52" r="0.6" fill="#b6b6b6"/>
<circle cx="145.16" cy="337.74" r="0.6" fill="#b6b6b6"/>
<circle cx="144.01" cy="330.41" r="0.6" fill="#b6b6b6"/>
<circle cx="146.03" cy="337.21" r="0.6" fill="#b6b6b6"/>
<circle cx="145.41" cy="332.78" r="0.6" fill="#b6b6b6"/>
<circle cx="144.48" cy="337.37" r="0.6" fill="#b6b6b6"/>
<circle cx="141.93" cy="329.72" r="0.6" fill="#b6b6b6"/>
<circle cx="144.63" cy="336.34" r="0.6" fill="#b6b6b6"/>
<circle cx="143.45" cy="337.69" r="0.6" fill="#b6b6b6"/>
<circle cx="141.22" cy="334.24" r="0.6" fill="#b6b6b6"/>
<circle cx="142.27" cy="336.66" r="0.6" fill="#b6b6b6"/>
<circle cx="148.04" cy="333.82" r="0.6" fill="#b6b6b6"/>
<circle cx="147.73" cy="337.77" r="0.6" fill="#b6b6b6"/>
<circle cx="146.14" cy="336.58" r="0.6" fill="#b6b6b6"/>
<circle cx="148.28" cy="334.05" r="0.6" fill="#b6b6b6"/>
<circle cx="143.02" cy="330.94" r="0.6" fill="#b6b6b6"/>
<circle cx="144.86" cy="338.69" r="0.6" fill="#b6b6b6"/>
<circle cx="145.36" cy="336.1" r="0.6" fill="#b6b6b6"/>
<circle cx="142.63" cy="335.2" r="0.6" fill="#b6b6b6"/>
<circle cx="139.46" cy="337.45" r="0.6" fill="#b6b6b6"/>
<circle cx="142.05" cy="330.9" r="0.6" fill="#b6b6b6"/>
<circle cx="140.88" cy="331.78" r="0.6" fill="#b6b6b6"/>
<circle cx="146.09" cy="337.87" r="0.6" fill="#b6b6b6"/>
<circle cx="139.49" cy="337.22" r="0.6" fill="#b6b6b6"/>
<circle cx="146.42" cy="332.58" r="0.6" fill="#b6b6b6"/>
<circle cx="139.14" cy="332.42" r="0.6" fill="#b6b6b6"/>
<circle cx="141.09" cy="335.8" r="0.6" fill="#b6b6b6"/>
<circle cx="142.5" cy="329.47" r="0.6" fill="#b6b6b6"/>
<circle cx="167.55" cy="329.59" r="0.5" fill="#a8a8a8"/>
<circle cx="169.77" cy="330.59" r="0.5" fill="#a8a8a8"/>
<circle cx="164.25" cy="331.41" r="0.5" fill="#a8a8a8"/>
<rect x="186.4" y="325.6" width="140.6" height="18.5" fill="#575757"/>
<rect x="186.4" y="343.3" width="140.6" height="0.8" fill="#6a6a6a"/>
<circle cx="197.2" cy="334.55" r="4.8" fill="#656565"/>
<text x="106.9" y="358.4" font-size="10.8" text-anchor="middle" fill="#111">No moenomycin</text>
<text x="257" y="358.4" font-size="10.8" text-anchor="middle" fill="#111">Moenomycin (0.025 &#181;g/ml)</text>
<text x="351.2" y="209" font-size="14.5" font-weight="bold" fill="#000">d</text>
<text x="394.6" y="217" font-size="10" fill="#111">10<tspan font-size="6" dy="-4.2">0</tspan></text>
<text x="417.8" y="217" font-size="10" fill="#111">10<tspan font-size="6" dy="-4.2">-1</tspan></text>
<text x="442.5" y="217" font-size="10" fill="#111">10<tspan font-size="6" dy="-4.2">-2</tspan></text>
<text x="466.2" y="217" font-size="10" fill="#111">10<tspan font-size="6" dy="-4.2">-3</tspan></text>
<text x="490.9" y="217" font-size="10" fill="#111">10<tspan font-size="6" dy="-4.2">-4</tspan></text>
<text x="514.6" y="217" font-size="10" fill="#111">10<tspan font-size="6" dy="-4.2">-5</tspan></text>
<text x="543" y="217" font-size="10" fill="#111">10<tspan font-size="6" dy="-4.2">0</tspan></text>
<text x="566.9" y="217" font-size="10" fill="#111">10<tspan font-size="6" dy="-4.2">-1</tspan></text>
<text x="591.1" y="217" font-size="10" fill="#111">10<tspan font-size="6" dy="-4.2">-2</tspan></text>
<text x="615.9" y="217" font-size="10" fill="#111">10<tspan font-size="6" dy="-4.2">-3</tspan></text>
<text x="639.6" y="217" font-size="10" fill="#111">10<tspan font-size="6" dy="-4.2">-4</tspan></text>
<text x="663.8" y="217" font-size="10" fill="#111">10<tspan font-size="6" dy="-4.2">-5</tspan></text>
<text x="383" y="234.6" font-size="10.5" text-anchor="end" fill="#111">WT</text>
<rect x="390" y="220" width="137.6" height="18.5" fill="#535555"/>
<rect x="390" y="237.7" width="137.6" height="0.8" fill="#6a6a6a"/>
<circle cx="400" cy="228.95" r="5.6" fill="#cccccc"/>
<circle cx="400" cy="228.95" r="4.6" fill="#b8b8b8"/>
<circle cx="424.3" cy="228.95" r="5.6" fill="#cccccc"/>
<circle cx="424.3" cy="228.95" r="4.6" fill="#b8b8b8"/>
<circle cx="448.1" cy="228.95" r="5.6" fill="#cccccc"/>
<circle cx="448.1" cy="228.95" r="4.6" fill="#b8b8b8"/>
<circle cx="472" cy="228.95" r="5.6" fill="#aaaaaa"/>
<circle cx="470.5" cy="232.53" r="0.55" fill="#c8c8c8"/>
<circle cx="474.59" cy="230.78" r="0.55" fill="#c8c8c8"/>
<circle cx="472.84" cy="224.9" r="0.55" fill="#c8c8c8"/>
<circle cx="470.32" cy="227.17" r="0.55" fill="#c8c8c8"/>
<circle cx="469.07" cy="230.48" r="0.55" fill="#c8c8c8"/>
<circle cx="469.74" cy="226.78" r="0.55" fill="#c8c8c8"/>
<circle cx="469.86" cy="224.74" r="0.55" fill="#c8c8c8"/>
<circle cx="473.62" cy="232.57" r="0.55" fill="#c8c8c8"/>
<circle cx="472.54" cy="225.94" r="0.55" fill="#c8c8c8"/>
<circle cx="467.17" cy="229.26" r="0.55" fill="#c8c8c8"/>
<circle cx="475.51" cy="229.81" r="0.55" fill="#c8c8c8"/>
<circle cx="474.3" cy="232.62" r="0.55" fill="#c8c8c8"/>
<circle cx="475.29" cy="227.66" r="0.55" fill="#c8c8c8"/>
<circle cx="474.99" cy="231.15" r="0.55" fill="#c8c8c8"/>
<circle cx="467.99" cy="227.89" r="0.55" fill="#c8c8c8"/>
<circle cx="468.09" cy="228.65" r="0.55" fill="#c8c8c8"/>
<circle cx="473.68" cy="225.84" r="0.55" fill="#c8c8c8"/>
<circle cx="467.97" cy="231.5" r="0.55" fill="#c8c8c8"/>
<circle cx="473.01" cy="232.88" r="0.55" fill="#c8c8c8"/>
<circle cx="468.66" cy="231.63" r="0.55" fill="#c8c8c8"/>
<circle cx="475.49" cy="232.33" r="0.55" fill="#c8c8c8"/>
<circle cx="471.28" cy="229.87" r="0.55" fill="#c8c8c8"/>
<circle cx="471.53" cy="232.01" r="0.55" fill="#c8c8c8"/>
<circle cx="475.16" cy="229.21" r="0.55" fill="#c8c8c8"/>
<circle cx="468.41" cy="230.91" r="0.55" fill="#c8c8c8"/>
<circle cx="470.49" cy="230.97" r="0.55" fill="#c8c8c8"/>
<circle cx="472.68" cy="233.11" r="0.55" fill="#c8c8c8"/>
<circle cx="475.31" cy="227.64" r="0.55" fill="#c8c8c8"/>
<circle cx="472.85" cy="233.25" r="0.55" fill="#c8c8c8"/>
<circle cx="470.24" cy="230.37" r="0.55" fill="#c8c8c8"/>
<circle cx="496.4" cy="228.95" r="5.6" fill="#767676"/>
<circle cx="499.49" cy="232.21" r="0.6" fill="#c2c2c2"/>
<circle cx="497.88" cy="225.17" r="0.6" fill="#c2c2c2"/>
<circle cx="492.65" cy="229.69" r="0.6" fill="#c2c2c2"/>
<circle cx="497.15" cy="233.9" r="0.6" fill="#c2c2c2"/>
<circle cx="493.94" cy="232.2" r="0.6" fill="#c2c2c2"/>
<circle cx="498.33" cy="224.77" r="0.6" fill="#c2c2c2"/>
<circle cx="493.69" cy="229.5" r="0.6" fill="#c2c2c2"/>
<circle cx="494.68" cy="228.41" r="0.6" fill="#c2c2c2"/>
<circle cx="497.93" cy="226.32" r="0.6" fill="#c2c2c2"/>
<circle cx="497.96" cy="226.82" r="0.6" fill="#c2c2c2"/>
<circle cx="494.57" cy="230.75" r="0.6" fill="#c2c2c2"/>
<circle cx="494.43" cy="229.93" r="0.6" fill="#c2c2c2"/>
<circle cx="500.73" cy="229.02" r="0.6" fill="#c2c2c2"/>
<circle cx="495.91" cy="231.43" r="0.6" fill="#c2c2c2"/>
<circle cx="495.27" cy="232.3" r="0.6" fill="#c2c2c2"/>
<circle cx="492.73" cy="230.72" r="0.6" fill="#c2c2c2"/>
<circle cx="494.74" cy="226.37" r="0.6" fill="#c2c2c2"/>
<circle cx="500.65" cy="226.91" r="0.6" fill="#c2c2c2"/>
<circle cx="500.75" cy="230.58" r="0.6" fill="#c2c2c2"/>
<circle cx="500.15" cy="226.43" r="0.6" fill="#c2c2c2"/>
<circle cx="499.36" cy="232.54" r="0.6" fill="#c2c2c2"/>
<circle cx="495.98" cy="228.49" r="0.6" fill="#c2c2c2"/>
<circle cx="501.36" cy="229.31" r="0.6" fill="#c2c2c2"/>
<circle cx="494.98" cy="226.83" r="0.6" fill="#c2c2c2"/>
<circle cx="497.95" cy="230.1" r="0.6" fill="#c2c2c2"/>
<circle cx="496.86" cy="233.42" r="0.6" fill="#c2c2c2"/>
<circle cx="495.27" cy="230.59" r="0.6" fill="#c2c2c2"/>
<circle cx="500.14" cy="226.38" r="0.6" fill="#c2c2c2"/>
<circle cx="498.77" cy="233.14" r="0.6" fill="#c2c2c2"/>
<circle cx="492.9" cy="226.11" r="0.6" fill="#c2c2c2"/>
<circle cx="494.04" cy="224.75" r="0.6" fill="#c2c2c2"/>
<circle cx="497.51" cy="224.41" r="0.6" fill="#c2c2c2"/>
<circle cx="497.78" cy="232.96" r="0.6" fill="#c2c2c2"/>
<circle cx="492.09" cy="228.11" r="0.6" fill="#c2c2c2"/>
<circle cx="491.96" cy="230.75" r="0.6" fill="#c2c2c2"/>
<circle cx="493.93" cy="228.06" r="0.6" fill="#c2c2c2"/>
<circle cx="496.59" cy="230.84" r="0.6" fill="#c2c2c2"/>
<circle cx="495.17" cy="229" r="0.6" fill="#c2c2c2"/>
<circle cx="517.72" cy="229.39" r="0.6" fill="#b8b8b8"/>
<circle cx="515.85" cy="229.16" r="0.6" fill="#b8b8b8"/>
<circle cx="514.76" cy="227.67" r="0.6" fill="#b8b8b8"/>
<circle cx="524.93" cy="229.16" r="0.6" fill="#b8b8b8"/>
<circle cx="515.68" cy="229.79" r="0.6" fill="#b8b8b8"/>
<circle cx="517.19" cy="224.53" r="0.6" fill="#b8b8b8"/>
<circle cx="517.24" cy="231.51" r="0.6" fill="#b8b8b8"/>
<circle cx="521.29" cy="228.57" r="0.6" fill="#b8b8b8"/>
<circle cx="516.89" cy="225.56" r="0.6" fill="#b8b8b8"/>
<rect x="539.3" y="220" width="138.1" height="18.5" fill="#535555"/>
<rect x="539.3" y="237.7" width="138.1" height="0.8" fill="#6a6a6a"/>
<circle cx="549.4" cy="228.95" r="5.4" fill="#dfdfdf"/>
<circle cx="549.4" cy="228.95" r="4.4" fill="#cbcbcb"/>
<circle cx="573.3" cy="228.95" r="5.4" fill="#d4d4d4"/>
<circle cx="573.3" cy="228.95" r="4.4" fill="#c0c0c0"/>
<circle cx="597.5" cy="228.95" r="5.4" fill="#c8c8c8"/>
<circle cx="597.5" cy="228.95" r="4.4" fill="#b4b4b4"/>
<circle cx="622" cy="228.95" r="5.4" fill="#929292"/>
<circle cx="625.61" cy="229.6" r="0.55" fill="#b0b0b0"/>
<circle cx="620.14" cy="224.81" r="0.55" fill="#b0b0b0"/>
<circle cx="619.75" cy="233.02" r="0.55" fill="#b0b0b0"/>
<circle cx="618.74" cy="228.73" r="0.55" fill="#b0b0b0"/>
<circle cx="622.69" cy="228.43" r="0.55" fill="#b0b0b0"/>
<circle cx="621.26" cy="225.31" r="0.55" fill="#b0b0b0"/>
<circle cx="619.69" cy="232.65" r="0.55" fill="#b0b0b0"/>
<circle cx="619.84" cy="231.36" r="0.55" fill="#b0b0b0"/>
<circle cx="617.93" cy="228.29" r="0.55" fill="#b0b0b0"/>
<circle cx="622.76" cy="231.96" r="0.55" fill="#b0b0b0"/>
<circle cx="618.91" cy="230.59" r="0.55" fill="#b0b0b0"/>
<circle cx="623.18" cy="226.7" r="0.55" fill="#b0b0b0"/>
<circle cx="623.4" cy="226.31" r="0.55" fill="#b0b0b0"/>
<circle cx="619.55" cy="228.89" r="0.55" fill="#b0b0b0"/>
<circle cx="617.36" cy="228.76" r="0.55" fill="#b0b0b0"/>
<circle cx="619.64" cy="225.5" r="0.55" fill="#b0b0b0"/>
<circle cx="620.71" cy="231.26" r="0.55" fill="#b0b0b0"/>
<circle cx="620.9" cy="232.38" r="0.55" fill="#b0b0b0"/>
<circle cx="619.24" cy="225.83" r="0.55" fill="#b0b0b0"/>
<circle cx="625.87" cy="229.94" r="0.55" fill="#b0b0b0"/>
<circle cx="624.61" cy="226.66" r="0.55" fill="#b0b0b0"/>
<circle cx="624.45" cy="229.74" r="0.55" fill="#b0b0b0"/>
<circle cx="624.05" cy="229.03" r="0.55" fill="#b0b0b0"/>
<circle cx="625.23" cy="227.21" r="0.55" fill="#b0b0b0"/>
<circle cx="619.72" cy="225.45" r="0.55" fill="#b0b0b0"/>
<circle cx="625.1" cy="226.98" r="0.55" fill="#b0b0b0"/>
<circle cx="619.23" cy="226.46" r="0.55" fill="#b0b0b0"/>
<circle cx="620.8" cy="225.52" r="0.55" fill="#b0b0b0"/>
<circle cx="621.09" cy="226.98" r="0.55" fill="#b0b0b0"/>
<circle cx="620.42" cy="226.19" r="0.55" fill="#b0b0b0"/>
<circle cx="645.8" cy="228.95" r="5.4" fill="#686868"/>
<circle cx="645.92" cy="227.39" r="0.6" fill="#b4b4b4"/>
<circle cx="646.19" cy="229.81" r="0.6" fill="#b4b4b4"/>
<circle cx="646.52" cy="224.32" r="0.6" fill="#b4b4b4"/>
<circle cx="644.14" cy="226.48" r="0.6" fill="#b4b4b4"/>
<circle cx="647.71" cy="225.05" r="0.6" fill="#b4b4b4"/>
<circle cx="643.5" cy="228" r="0.6" fill="#b4b4b4"/>
<circle cx="644.78" cy="231.96" r="0.6" fill="#b4b4b4"/>
<circle cx="644.46" cy="231.87" r="0.6" fill="#b4b4b4"/>
<circle cx="642.82" cy="225.27" r="0.6" fill="#b4b4b4"/>
<circle cx="649.28" cy="230.19" r="0.6" fill="#b4b4b4"/>
<circle cx="647.44" cy="229.36" r="0.6" fill="#b4b4b4"/>
<circle cx="647.17" cy="225.5" r="0.6" fill="#b4b4b4"/>
<circle cx="648.66" cy="227.35" r="0.6" fill="#b4b4b4"/>
<circle cx="648.84" cy="229.22" r="0.6" fill="#b4b4b4"/>
<circle cx="641.83" cy="226.36" r="0.6" fill="#b4b4b4"/>
<circle cx="649.15" cy="228.54" r="0.6" fill="#b4b4b4"/>
<circle cx="644.47" cy="229.77" r="0.6" fill="#b4b4b4"/>
<circle cx="644.41" cy="227.17" r="0.6" fill="#b4b4b4"/>
<circle cx="646.15" cy="229.45" r="0.6" fill="#b4b4b4"/>
<circle cx="649.85" cy="229.07" r="0.6" fill="#b4b4b4"/>
<circle cx="649.28" cy="232.28" r="0.6" fill="#b4b4b4"/>
<circle cx="649.69" cy="231.35" r="0.6" fill="#b4b4b4"/>
<circle cx="646.25" cy="229.42" r="0.6" fill="#b4b4b4"/>
<circle cx="645.34" cy="226.58" r="0.6" fill="#b4b4b4"/>
<circle cx="645.58" cy="226.84" r="0.6" fill="#b4b4b4"/>
<circle cx="649.9" cy="230.29" r="0.6" fill="#b4b4b4"/>
<circle cx="644.77" cy="224.54" r="0.6" fill="#b4b4b4"/>
<circle cx="645.62" cy="227.54" r="0.6" fill="#b4b4b4"/>
<circle cx="642.95" cy="225.97" r="0.6" fill="#b4b4b4"/>
<circle cx="641.21" cy="230.11" r="0.6" fill="#b4b4b4"/>
<circle cx="645.68" cy="233.76" r="0.6" fill="#b4b4b4"/>
<circle cx="645.69" cy="228.44" r="0.6" fill="#b4b4b4"/>
<circle cx="649.74" cy="229.32" r="0.6" fill="#b4b4b4"/>
<circle cx="646.37" cy="227.69" r="0.6" fill="#b4b4b4"/>
<circle cx="644.23" cy="232.83" r="0.6" fill="#b4b4b4"/>
<circle cx="648.09" cy="232.88" r="0.6" fill="#b4b4b4"/>
<circle cx="644.61" cy="229.05" r="0.6" fill="#b4b4b4"/>
<circle cx="643.3" cy="231.7" r="0.6" fill="#b4b4b4"/>
<circle cx="664.48" cy="230.62" r="0.6" fill="#b8b8b8"/>
<circle cx="671.56" cy="232.76" r="0.6" fill="#b8b8b8"/>
<circle cx="665.77" cy="232.23" r="0.6" fill="#b8b8b8"/>
<circle cx="666.21" cy="226.41" r="0.6" fill="#b8b8b8"/>
<circle cx="664.99" cy="232.1" r="0.6" fill="#b8b8b8"/>
<circle cx="673.1" cy="227.33" r="0.6" fill="#b8b8b8"/>
<circle cx="665.93" cy="227.76" r="0.6" fill="#b8b8b8"/>
<circle cx="673.55" cy="230.93" r="0.6" fill="#b8b8b8"/>
<circle cx="667.18" cy="224.25" r="0.6" fill="#b8b8b8"/>
<text x="383" y="255.7" font-size="10.5" text-anchor="end" fill="#111">JN170</text>
<rect x="390" y="241.1" width="137.6" height="18.5" fill="#535555"/>
<rect x="390" y="258.8" width="137.6" height="0.8" fill="#6a6a6a"/>
<circle cx="400" cy="250.05" r="5.6" fill="#cccccc"/>
<circle cx="400" cy="250.05" r="4.6" fill="#b8b8b8"/>
<circle cx="424.3" cy="250.05" r="5.6" fill="#cccccc"/>
<circle cx="424.3" cy="250.05" r="4.6" fill="#b8b8b8"/>
<circle cx="448.1" cy="250.05" r="5.6" fill="#cccccc"/>
<circle cx="448.1" cy="250.05" r="4.6" fill="#b8b8b8"/>
<circle cx="472" cy="250.05" r="5.6" fill="#aaaaaa"/>
<circle cx="470.12" cy="253.37" r="0.55" fill="#c8c8c8"/>
<circle cx="476.42" cy="249.42" r="0.55" fill="#c8c8c8"/>
<circle cx="469.81" cy="248.43" r="0.55" fill="#c8c8c8"/>
<circle cx="467.84" cy="252.05" r="0.55" fill="#c8c8c8"/>
<circle cx="469.1" cy="252.89" r="0.55" fill="#c8c8c8"/>
<circle cx="468.28" cy="247.28" r="0.55" fill="#c8c8c8"/>
<circle cx="472.92" cy="247.61" r="0.55" fill="#c8c8c8"/>
<circle cx="474.51" cy="250.08" r="0.55" fill="#c8c8c8"/>
<circle cx="468.68" cy="251.81" r="0.55" fill="#c8c8c8"/>
<circle cx="473.86" cy="245.82" r="0.55" fill="#c8c8c8"/>
<circle cx="476.32" cy="251.22" r="0.55" fill="#c8c8c8"/>
<circle cx="473.73" cy="245.83" r="0.55" fill="#c8c8c8"/>
<circle cx="469.69" cy="248.93" r="0.55" fill="#c8c8c8"/>
<circle cx="474.61" cy="246.51" r="0.55" fill="#c8c8c8"/>
<circle cx="470.13" cy="245.76" r="0.55" fill="#c8c8c8"/>
<circle cx="471.18" cy="251.22" r="0.55" fill="#c8c8c8"/>
<circle cx="467.87" cy="248.6" r="0.55" fill="#c8c8c8"/>
<circle cx="473.3" cy="254.09" r="0.55" fill="#c8c8c8"/>
<circle cx="474.16" cy="249.06" r="0.55" fill="#c8c8c8"/>
<circle cx="468.84" cy="247.54" r="0.55" fill="#c8c8c8"/>
<circle cx="469.83" cy="250.53" r="0.55" fill="#c8c8c8"/>
<circle cx="471.87" cy="254.29" r="0.55" fill="#c8c8c8"/>
<circle cx="472.86" cy="246.84" r="0.55" fill="#c8c8c8"/>
<circle cx="475.75" cy="252.35" r="0.55" fill="#c8c8c8"/>
<circle cx="472.33" cy="247.71" r="0.55" fill="#c8c8c8"/>
<circle cx="467.93" cy="247.83" r="0.55" fill="#c8c8c8"/>
<circle cx="474.66" cy="247.71" r="0.55" fill="#c8c8c8"/>
<circle cx="468.28" cy="250.6" r="0.55" fill="#c8c8c8"/>
<circle cx="472.8" cy="252.04" r="0.55" fill="#c8c8c8"/>
<circle cx="473.73" cy="253.77" r="0.55" fill="#c8c8c8"/>
<circle cx="496.4" cy="250.05" r="5.6" fill="#767676"/>
<circle cx="493.91" cy="252.96" r="0.6" fill="#c2c2c2"/>
<circle cx="493.4" cy="252.16" r="0.6" fill="#c2c2c2"/>
<circle cx="497.04" cy="250.92" r="0.6" fill="#c2c2c2"/>
<circle cx="499.52" cy="249.99" r="0.6" fill="#c2c2c2"/>
<circle cx="499.59" cy="252.56" r="0.6" fill="#c2c2c2"/>
<circle cx="496.87" cy="248.09" r="0.6" fill="#c2c2c2"/>
<circle cx="493.95" cy="248.33" r="0.6" fill="#c2c2c2"/>
<circle cx="495.67" cy="249.96" r="0.6" fill="#c2c2c2"/>
<circle cx="501.36" cy="251.11" r="0.6" fill="#c2c2c2"/>
<circle cx="498.77" cy="247.4" r="0.6" fill="#c2c2c2"/>
<circle cx="494.02" cy="248.98" r="0.6" fill="#c2c2c2"/>
<circle cx="497.01" cy="246.78" r="0.6" fill="#c2c2c2"/>
<circle cx="500.62" cy="248.58" r="0.6" fill="#c2c2c2"/>
<circle cx="498.5" cy="245.5" r="0.6" fill="#c2c2c2"/>
<circle cx="496.38" cy="251.04" r="0.6" fill="#c2c2c2"/>
<circle cx="497.06" cy="252.12" r="0.6" fill="#c2c2c2"/>
<circle cx="497.4" cy="250.63" r="0.6" fill="#c2c2c2"/>
<circle cx="491.95" cy="248.37" r="0.6" fill="#c2c2c2"/>
<circle cx="491.61" cy="251.34" r="0.6" fill="#c2c2c2"/>
<circle cx="497.49" cy="249.36" r="0.6" fill="#c2c2c2"/>
<circle cx="493.78" cy="248.19" r="0.6" fill="#c2c2c2"/>
<circle cx="500.04" cy="253.47" r="0.6" fill="#c2c2c2"/>
<circle cx="496.23" cy="253.88" r="0.6" fill="#c2c2c2"/>
<circle cx="493.24" cy="246.19" r="0.6" fill="#c2c2c2"/>
<circle cx="494.85" cy="247.25" r="0.6" fill="#c2c2c2"/>
<circle cx="494.47" cy="250.7" r="0.6" fill="#c2c2c2"/>
<circle cx="501.36" cy="248.97" r="0.6" fill="#c2c2c2"/>
<circle cx="496.58" cy="251.04" r="0.6" fill="#c2c2c2"/>
<circle cx="496.29" cy="253.07" r="0.6" fill="#c2c2c2"/>
<circle cx="500.37" cy="247.27" r="0.6" fill="#c2c2c2"/>
<circle cx="496.98" cy="249.11" r="0.6" fill="#c2c2c2"/>
<circle cx="497.37" cy="245.87" r="0.6" fill="#c2c2c2"/>
<circle cx="493.34" cy="246.02" r="0.6" fill="#c2c2c2"/>
<circle cx="498.22" cy="250.72" r="0.6" fill="#c2c2c2"/>
<circle cx="496.55" cy="245.11" r="0.6" fill="#c2c2c2"/>
<circle cx="495.16" cy="247.55" r="0.6" fill="#c2c2c2"/>
<circle cx="492.67" cy="247.64" r="0.6" fill="#c2c2c2"/>
<circle cx="498.69" cy="251.84" r="0.6" fill="#c2c2c2"/>
<circle cx="519.71" cy="252.02" r="0.6" fill="#b8b8b8"/>
<circle cx="517.52" cy="250.32" r="0.6" fill="#b8b8b8"/>
<circle cx="519.95" cy="252.16" r="0.6" fill="#b8b8b8"/>
<circle cx="519.52" cy="249.48" r="0.6" fill="#b8b8b8"/>
<circle cx="519.29" cy="247.63" r="0.6" fill="#b8b8b8"/>
<circle cx="525.06" cy="251.26" r="0.6" fill="#b8b8b8"/>
<circle cx="520.8" cy="255.37" r="0.6" fill="#b8b8b8"/>
<circle cx="523.33" cy="246.13" r="0.6" fill="#b8b8b8"/>
<circle cx="522.19" cy="252.93" r="0.6" fill="#b8b8b8"/>
<rect x="539.3" y="241.1" width="138.1" height="18.5" fill="#535555"/>
<rect x="539.3" y="258.8" width="138.1" height="0.8" fill="#6a6a6a"/>
<circle cx="549.4" cy="250.05" r="5.4" fill="#dfdfdf"/>
<circle cx="549.4" cy="250.05" r="4.4" fill="#cbcbcb"/>
<circle cx="573.3" cy="250.05" r="5.4" fill="#d4d4d4"/>
<circle cx="573.3" cy="250.05" r="4.4" fill="#c0c0c0"/>
<circle cx="597.5" cy="250.05" r="5.4" fill="#c8c8c8"/>
<circle cx="597.5" cy="250.05" r="4.4" fill="#b4b4b4"/>
<circle cx="622" cy="250.05" r="5.4" fill="#929292"/>
<circle cx="625.71" cy="252.64" r="0.55" fill="#b0b0b0"/>
<circle cx="624.04" cy="246.93" r="0.55" fill="#b0b0b0"/>
<circle cx="619.38" cy="250.86" r="0.55" fill="#b0b0b0"/>
<circle cx="623.44" cy="247.14" r="0.55" fill="#b0b0b0"/>
<circle cx="620.77" cy="248.77" r="0.55" fill="#b0b0b0"/>
<circle cx="622.2" cy="251.15" r="0.55" fill="#b0b0b0"/>
<circle cx="621.21" cy="246.64" r="0.55" fill="#b0b0b0"/>
<circle cx="624.69" cy="253.51" r="0.55" fill="#b0b0b0"/>
<circle cx="621.69" cy="253.05" r="0.55" fill="#b0b0b0"/>
<circle cx="623.37" cy="252.08" r="0.55" fill="#b0b0b0"/>
<circle cx="623.45" cy="247.75" r="0.55" fill="#b0b0b0"/>
<circle cx="623.63" cy="252.91" r="0.55" fill="#b0b0b0"/>
<circle cx="620.15" cy="254.11" r="0.55" fill="#b0b0b0"/>
<circle cx="625.5" cy="253.11" r="0.55" fill="#b0b0b0"/>
<circle cx="626.17" cy="251.6" r="0.55" fill="#b0b0b0"/>
<circle cx="620.94" cy="248.17" r="0.55" fill="#b0b0b0"/>
<circle cx="619.51" cy="250.41" r="0.55" fill="#b0b0b0"/>
<circle cx="621.9" cy="252.16" r="0.55" fill="#b0b0b0"/>
<circle cx="618.92" cy="253.57" r="0.55" fill="#b0b0b0"/>
<circle cx="626.52" cy="249.99" r="0.55" fill="#b0b0b0"/>
<circle cx="624.07" cy="251.5" r="0.55" fill="#b0b0b0"/>
<circle cx="622.9" cy="249.37" r="0.55" fill="#b0b0b0"/>
<circle cx="621.62" cy="247.53" r="0.55" fill="#b0b0b0"/>
<circle cx="622.59" cy="249.97" r="0.55" fill="#b0b0b0"/>
<circle cx="622.96" cy="247.48" r="0.55" fill="#b0b0b0"/>
<circle cx="622.13" cy="250.21" r="0.55" fill="#b0b0b0"/>
<circle cx="623.68" cy="247.08" r="0.55" fill="#b0b0b0"/>
<circle cx="623.22" cy="252.9" r="0.55" fill="#b0b0b0"/>
<circle cx="623.87" cy="248.9" r="0.55" fill="#b0b0b0"/>
<circle cx="620.43" cy="249.29" r="0.55" fill="#b0b0b0"/>
<circle cx="645.8" cy="250.05" r="5.4" fill="#686868"/>
<circle cx="647.63" cy="253.94" r="0.6" fill="#b4b4b4"/>
<circle cx="645.28" cy="247.94" r="0.6" fill="#b4b4b4"/>
<circle cx="647.07" cy="250.74" r="0.6" fill="#b4b4b4"/>
<circle cx="643.12" cy="247.88" r="0.6" fill="#b4b4b4"/>
<circle cx="645.47" cy="252.25" r="0.6" fill="#b4b4b4"/>
<circle cx="642.66" cy="247.37" r="0.6" fill="#b4b4b4"/>
<circle cx="647.21" cy="246.59" r="0.6" fill="#b4b4b4"/>
<circle cx="646.17" cy="251.25" r="0.6" fill="#b4b4b4"/>
<circle cx="645.46" cy="246.94" r="0.6" fill="#b4b4b4"/>
<circle cx="645.6" cy="248.92" r="0.6" fill="#b4b4b4"/>
<circle cx="646.85" cy="247.42" r="0.6" fill="#b4b4b4"/>
<circle cx="648.29" cy="246.23" r="0.6" fill="#b4b4b4"/>
<circle cx="645.19" cy="250.08" r="0.6" fill="#b4b4b4"/>
<circle cx="648.66" cy="248.24" r="0.6" fill="#b4b4b4"/>
<circle cx="647.55" cy="248.23" r="0.6" fill="#b4b4b4"/>
<circle cx="647.55" cy="254.16" r="0.6" fill="#b4b4b4"/>
<circle cx="644.47" cy="251.52" r="0.6" fill="#b4b4b4"/>
<circle cx="643.19" cy="252.79" r="0.6" fill="#b4b4b4"/>
<circle cx="649.33" cy="250.15" r="0.6" fill="#b4b4b4"/>
<circle cx="642.48" cy="251.23" r="0.6" fill="#b4b4b4"/>
<circle cx="648.81" cy="252.9" r="0.6" fill="#b4b4b4"/>
<circle cx="647.65" cy="245.88" r="0.6" fill="#b4b4b4"/>
<circle cx="644.02" cy="253.78" r="0.6" fill="#b4b4b4"/>
<circle cx="642.68" cy="252.93" r="0.6" fill="#b4b4b4"/>
<circle cx="650.04" cy="251.77" r="0.6" fill="#b4b4b4"/>
<circle cx="649.1" cy="249.07" r="0.6" fill="#b4b4b4"/>
<circle cx="642.24" cy="249.75" r="0.6" fill="#b4b4b4"/>
<circle cx="645.11" cy="249.89" r="0.6" fill="#b4b4b4"/>
<circle cx="648.07" cy="249.58" r="0.6" fill="#b4b4b4"/>
<circle cx="646.45" cy="251.48" r="0.6" fill="#b4b4b4"/>
<circle cx="645.79" cy="254.48" r="0.6" fill="#b4b4b4"/>
<circle cx="647.29" cy="250.34" r="0.6" fill="#b4b4b4"/>
<circle cx="645.12" cy="248" r="0.6" fill="#b4b4b4"/>
<circle cx="649.57" cy="250.47" r="0.6" fill="#b4b4b4"/>
<circle cx="642.66" cy="248.41" r="0.6" fill="#b4b4b4"/>
<circle cx="645.34" cy="248.55" r="0.6" fill="#b4b4b4"/>
<circle cx="648.63" cy="247.02" r="0.6" fill="#b4b4b4"/>
<circle cx="647.45" cy="250.53" r="0.6" fill="#b4b4b4"/>
<circle cx="664.78" cy="250.2" r="0.6" fill="#b8b8b8"/>
<circle cx="668.25" cy="251.9" r="0.6" fill="#b8b8b8"/>
<circle cx="666.94" cy="251.17" r="0.6" fill="#b8b8b8"/>
<circle cx="664.4" cy="247.32" r="0.6" fill="#b8b8b8"/>
<circle cx="671.06" cy="253.31" r="0.6" fill="#b8b8b8"/>
<circle cx="668.55" cy="247.86" r="0.6" fill="#b8b8b8"/>
<circle cx="671" cy="245.41" r="0.6" fill="#b8b8b8"/>
<circle cx="665.92" cy="252.3" r="0.6" fill="#b8b8b8"/>
<circle cx="670.69" cy="246.74" r="0.6" fill="#b8b8b8"/>
<text x="383" y="276.9" font-size="10.5" text-anchor="end" fill="#111">JN206</text>
<rect x="390" y="262.3" width="137.6" height="18.5" fill="#535555"/>
<rect x="390" y="280" width="137.6" height="0.8" fill="#6a6a6a"/>
<circle cx="400" cy="271.25" r="5.6" fill="#cccccc"/>
<circle cx="400" cy="271.25" r="4.6" fill="#b8b8b8"/>
<circle cx="424.3" cy="271.25" r="5.6" fill="#cccccc"/>
<circle cx="424.3" cy="271.25" r="4.6" fill="#b8b8b8"/>
<circle cx="448.1" cy="271.25" r="5.6" fill="#cccccc"/>
<circle cx="448.1" cy="271.25" r="4.6" fill="#b8b8b8"/>
<circle cx="472" cy="271.25" r="5.6" fill="#aaaaaa"/>
<circle cx="468.23" cy="274.15" r="0.55" fill="#c8c8c8"/>
<circle cx="472.48" cy="268.44" r="0.55" fill="#c8c8c8"/>
<circle cx="472.17" cy="274.08" r="0.55" fill="#c8c8c8"/>
<circle cx="467.54" cy="273.16" r="0.55" fill="#c8c8c8"/>
<circle cx="473.57" cy="266.84" r="0.55" fill="#c8c8c8"/>
<circle cx="473.79" cy="267.11" r="0.55" fill="#c8c8c8"/>
<circle cx="475.33" cy="272.41" r="0.55" fill="#c8c8c8"/>
<circle cx="476.57" cy="270.01" r="0.55" fill="#c8c8c8"/>
<circle cx="472.01" cy="274.43" r="0.55" fill="#c8c8c8"/>
<circle cx="470.01" cy="269.06" r="0.55" fill="#c8c8c8"/>
<circle cx="470.73" cy="271" r="0.55" fill="#c8c8c8"/>
<circle cx="468.82" cy="272.67" r="0.55" fill="#c8c8c8"/>
<circle cx="473.81" cy="271.49" r="0.55" fill="#c8c8c8"/>
<circle cx="476.24" cy="270.43" r="0.55" fill="#c8c8c8"/>
<circle cx="475.6" cy="269.74" r="0.55" fill="#c8c8c8"/>
<circle cx="473.68" cy="266.96" r="0.55" fill="#c8c8c8"/>
<circle cx="472.68" cy="270.65" r="0.55" fill="#c8c8c8"/>
<circle cx="470.41" cy="269.29" r="0.55" fill="#c8c8c8"/>
<circle cx="470.89" cy="268.94" r="0.55" fill="#c8c8c8"/>
<circle cx="467.45" cy="270.01" r="0.55" fill="#c8c8c8"/>
<circle cx="470.23" cy="269.56" r="0.55" fill="#c8c8c8"/>
<circle cx="468.8" cy="270.84" r="0.55" fill="#c8c8c8"/>
<circle cx="474.5" cy="270.45" r="0.55" fill="#c8c8c8"/>
<circle cx="470.65" cy="274.96" r="0.55" fill="#c8c8c8"/>
<circle cx="474.75" cy="273.84" r="0.55" fill="#c8c8c8"/>
<circle cx="475.38" cy="270.29" r="0.55" fill="#c8c8c8"/>
<circle cx="471.61" cy="274.57" r="0.55" fill="#c8c8c8"/>
<circle cx="470.15" cy="270.85" r="0.55" fill="#c8c8c8"/>
<circle cx="473.26" cy="272.5" r="0.55" fill="#c8c8c8"/>
<circle cx="471.15" cy="274.26" r="0.55" fill="#c8c8c8"/>
<circle cx="496.4" cy="271.25" r="5.6" fill="#767676"/>
<circle cx="495.8" cy="273.69" r="0.6" fill="#c2c2c2"/>
<circle cx="499.61" cy="273.23" r="0.6" fill="#c2c2c2"/>
<circle cx="498.53" cy="267.88" r="0.6" fill="#c2c2c2"/>
<circle cx="492.68" cy="269.5" r="0.6" fill="#c2c2c2"/>
<circle cx="497.7" cy="275.35" r="0.6" fill="#c2c2c2"/>
<circle cx="492.74" cy="272.17" r="0.6" fill="#c2c2c2"/>
<circle cx="493.75" cy="268.98" r="0.6" fill="#c2c2c2"/>
<circle cx="495.47" cy="273.58" r="0.6" fill="#c2c2c2"/>
<circle cx="497.05" cy="274.84" r="0.6" fill="#c2c2c2"/>
<circle cx="493.5" cy="273.86" r="0.6" fill="#c2c2c2"/>
<circle cx="499.42" cy="271.48" r="0.6" fill="#c2c2c2"/>
<circle cx="498.01" cy="269.35" r="0.6" fill="#c2c2c2"/>
<circle cx="493.05" cy="270" r="0.6" fill="#c2c2c2"/>
<circle cx="495.3" cy="276.2" r="0.6" fill="#c2c2c2"/>
<circle cx="495.14" cy="275.55" r="0.6" fill="#c2c2c2"/>
<circle cx="497.12" cy="272.36" r="0.6" fill="#c2c2c2"/>
<circle cx="498.74" cy="268.8" r="0.6" fill="#c2c2c2"/>
<circle cx="499.34" cy="272.46" r="0.6" fill="#c2c2c2"/>
<circle cx="492.33" cy="272.86" r="0.6" fill="#c2c2c2"/>
<circle cx="498.27" cy="272.78" r="0.6" fill="#c2c2c2"/>
<circle cx="500.64" cy="270.14" r="0.6" fill="#c2c2c2"/>
<circle cx="498.07" cy="273.69" r="0.6" fill="#c2c2c2"/>
<circle cx="493.88" cy="274.6" r="0.6" fill="#c2c2c2"/>
<circle cx="492.9" cy="268.11" r="0.6" fill="#c2c2c2"/>
<circle cx="497.99" cy="267.94" r="0.6" fill="#c2c2c2"/>
<circle cx="496.09" cy="266.86" r="0.6" fill="#c2c2c2"/>
<circle cx="496.61" cy="267.74" r="0.6" fill="#c2c2c2"/>
<circle cx="497.33" cy="267.06" r="0.6" fill="#c2c2c2"/>
<circle cx="497.96" cy="270.32" r="0.6" fill="#c2c2c2"/>
<circle cx="496.63" cy="271.01" r="0.6" fill="#c2c2c2"/>
<circle cx="496.78" cy="267.37" r="0.6" fill="#c2c2c2"/>
<circle cx="491.4" cy="271.32" r="0.6" fill="#c2c2c2"/>
<circle cx="493.43" cy="269.81" r="0.6" fill="#c2c2c2"/>
<circle cx="497.4" cy="266.59" r="0.6" fill="#c2c2c2"/>
<circle cx="493.95" cy="269.29" r="0.6" fill="#c2c2c2"/>
<circle cx="493.1" cy="272.27" r="0.6" fill="#c2c2c2"/>
<circle cx="495.93" cy="268.53" r="0.6" fill="#c2c2c2"/>
<circle cx="493.46" cy="273.66" r="0.6" fill="#c2c2c2"/>
<circle cx="517.42" cy="273.36" r="0.6" fill="#b8b8b8"/>
<circle cx="520.99" cy="266.23" r="0.6" fill="#b8b8b8"/>
<circle cx="516.07" cy="271.26" r="0.6" fill="#b8b8b8"/>
<circle cx="521.04" cy="274.08" r="0.6" fill="#b8b8b8"/>
<circle cx="522.4" cy="274.61" r="0.6" fill="#b8b8b8"/>
<circle cx="518.35" cy="270.44" r="0.6" fill="#b8b8b8"/>
<circle cx="522.59" cy="269.72" r="0.6" fill="#b8b8b8"/>
<circle cx="522.64" cy="266.98" r="0.6" fill="#b8b8b8"/>
<circle cx="522.25" cy="270.6" r="0.6" fill="#b8b8b8"/>
<rect x="539.3" y="262.3" width="138.1" height="18.5" fill="#535555"/>
<rect x="539.3" y="280" width="138.1" height="0.8" fill="#6a6a6a"/>
<circle cx="549.4" cy="271.25" r="5.4" fill="#dfdfdf"/>
<circle cx="549.4" cy="271.25" r="4.4" fill="#cbcbcb"/>
<circle cx="573.3" cy="271.25" r="5.4" fill="#d4d4d4"/>
<circle cx="573.3" cy="271.25" r="4.4" fill="#c0c0c0"/>
<circle cx="597.5" cy="271.25" r="5.4" fill="#c8c8c8"/>
<circle cx="597.5" cy="271.25" r="4.4" fill="#b4b4b4"/>
<circle cx="622" cy="271.25" r="5.4" fill="#929292"/>
<circle cx="617.99" cy="273.25" r="0.55" fill="#b0b0b0"/>
<circle cx="623.02" cy="271.32" r="0.55" fill="#b0b0b0"/>
<circle cx="618.96" cy="269.94" r="0.55" fill="#b0b0b0"/>
<circle cx="625.63" cy="269.27" r="0.55" fill="#b0b0b0"/>
<circle cx="617.44" cy="270.13" r="0.55" fill="#b0b0b0"/>
<circle cx="618.64" cy="270.88" r="0.55" fill="#b0b0b0"/>
<circle cx="620.84" cy="268.56" r="0.55" fill="#b0b0b0"/>
<circle cx="619.73" cy="274.08" r="0.55" fill="#b0b0b0"/>
<circle cx="619.28" cy="274.93" r="0.55" fill="#b0b0b0"/>
<circle cx="620.48" cy="268.2" r="0.55" fill="#b0b0b0"/>
<circle cx="624.34" cy="272.93" r="0.55" fill="#b0b0b0"/>
<circle cx="619.14" cy="273.3" r="0.55" fill="#b0b0b0"/>
<circle cx="618.06" cy="269.27" r="0.55" fill="#b0b0b0"/>
<circle cx="625.2" cy="270.52" r="0.55" fill="#b0b0b0"/>
<circle cx="618.55" cy="272.61" r="0.55" fill="#b0b0b0"/>
<circle cx="624.75" cy="271.18" r="0.55" fill="#b0b0b0"/>
<circle cx="617.83" cy="270.45" r="0.55" fill="#b0b0b0"/>
<circle cx="623.27" cy="273.58" r="0.55" fill="#b0b0b0"/>
<circle cx="626.23" cy="270.67" r="0.55" fill="#b0b0b0"/>
<circle cx="620.44" cy="271.13" r="0.55" fill="#b0b0b0"/>
<circle cx="625.08" cy="268.85" r="0.55" fill="#b0b0b0"/>
<circle cx="624.01" cy="267.02" r="0.55" fill="#b0b0b0"/>
<circle cx="624.33" cy="269.28" r="0.55" fill="#b0b0b0"/>
<circle cx="623.4" cy="273.36" r="0.55" fill="#b0b0b0"/>
<circle cx="618.67" cy="271.01" r="0.55" fill="#b0b0b0"/>
<circle cx="622.76" cy="273.11" r="0.55" fill="#b0b0b0"/>
<circle cx="619.5" cy="268.59" r="0.55" fill="#b0b0b0"/>
<circle cx="619.17" cy="274.98" r="0.55" fill="#b0b0b0"/>
<circle cx="621.37" cy="270.52" r="0.55" fill="#b0b0b0"/>
<circle cx="618.46" cy="273.45" r="0.55" fill="#b0b0b0"/>
<circle cx="645.8" cy="271.25" r="5.4" fill="#686868"/>
<circle cx="644.38" cy="275.07" r="0.6" fill="#b4b4b4"/>
<circle cx="648.5" cy="271.32" r="0.6" fill="#b4b4b4"/>
<circle cx="647.85" cy="268.11" r="0.6" fill="#b4b4b4"/>
<circle cx="644.73" cy="269.36" r="0.6" fill="#b4b4b4"/>
<circle cx="642.16" cy="271.3" r="0.6" fill="#b4b4b4"/>
<circle cx="645.4" cy="275.17" r="0.6" fill="#b4b4b4"/>
<circle cx="641" cy="270.29" r="0.6" fill="#b4b4b4"/>
<circle cx="643" cy="269.83" r="0.6" fill="#b4b4b4"/>
<circle cx="647.2" cy="272.59" r="0.6" fill="#b4b4b4"/>
<circle cx="645.9" cy="269.65" r="0.6" fill="#b4b4b4"/>
<circle cx="647.44" cy="272.44" r="0.6" fill="#b4b4b4"/>
<circle cx="641.4" cy="270.62" r="0.6" fill="#b4b4b4"/>
<circle cx="642.46" cy="268.38" r="0.6" fill="#b4b4b4"/>
<circle cx="646.31" cy="271.46" r="0.6" fill="#b4b4b4"/>
<circle cx="646.16" cy="268.49" r="0.6" fill="#b4b4b4"/>
<circle cx="645.17" cy="268.4" r="0.6" fill="#b4b4b4"/>
<circle cx="647.03" cy="273.46" r="0.6" fill="#b4b4b4"/>
<circle cx="649.58" cy="273.98" r="0.6" fill="#b4b4b4"/>
<circle cx="643.28" cy="269.82" r="0.6" fill="#b4b4b4"/>
<circle cx="642.91" cy="272.19" r="0.6" fill="#b4b4b4"/>
<circle cx="650.15" cy="272.81" r="0.6" fill="#b4b4b4"/>
<circle cx="641.63" cy="268.87" r="0.6" fill="#b4b4b4"/>
<circle cx="642.22" cy="272.68" r="0.6" fill="#b4b4b4"/>
<circle cx="645.8" cy="272.28" r="0.6" fill="#b4b4b4"/>
<circle cx="649.91" cy="269.34" r="0.6" fill="#b4b4b4"/>
<circle cx="643.96" cy="275.52" r="0.6" fill="#b4b4b4"/>
<circle cx="646.89" cy="268.78" r="0.6" fill="#b4b4b4"/>
<circle cx="641.96" cy="268.37" r="0.6" fill="#b4b4b4"/>
<circle cx="641.03" cy="271.38" r="0.6" fill="#b4b4b4"/>
<circle cx="645.94" cy="274.31" r="0.6" fill="#b4b4b4"/>
<circle cx="645.35" cy="268.99" r="0.6" fill="#b4b4b4"/>
<circle cx="644.14" cy="275.52" r="0.6" fill="#b4b4b4"/>
<circle cx="641.46" cy="271.68" r="0.6" fill="#b4b4b4"/>
<circle cx="645.88" cy="273.29" r="0.6" fill="#b4b4b4"/>
<circle cx="644.47" cy="272.89" r="0.6" fill="#b4b4b4"/>
<circle cx="648.4" cy="270.78" r="0.6" fill="#b4b4b4"/>
<circle cx="644.26" cy="270.62" r="0.6" fill="#b4b4b4"/>
<circle cx="642.83" cy="270.61" r="0.6" fill="#b4b4b4"/>
<circle cx="667.47" cy="272.04" r="0.6" fill="#b8b8b8"/>
<circle cx="672.11" cy="274.68" r="0.6" fill="#b8b8b8"/>
<circle cx="667.01" cy="273.4" r="0.6" fill="#b8b8b8"/>
<circle cx="669.64" cy="273.93" r="0.6" fill="#b8b8b8"/>
<circle cx="668.68" cy="272.26" r="0.6" fill="#b8b8b8"/>
<circle cx="666.98" cy="268.54" r="0.6" fill="#b8b8b8"/>
<circle cx="671.13" cy="275.02" r="0.6" fill="#b8b8b8"/>
<circle cx="670.94" cy="272.79" r="0.6" fill="#b8b8b8"/>
<circle cx="669.58" cy="269.59" r="0.6" fill="#b8b8b8"/>
<text x="383" y="298" font-size="10.5" text-anchor="end" fill="#111">JN174</text>
<rect x="390" y="283.4" width="137.6" height="18.5" fill="#535555"/>
<rect x="390" y="301.1" width="137.6" height="0.8" fill="#6a6a6a"/>
<circle cx="400" cy="292.35" r="5.6" fill="#cccccc"/>
<circle cx="400" cy="292.35" r="4.6" fill="#b8b8b8"/>
<circle cx="424.3" cy="292.35" r="5.6" fill="#cccccc"/>
<circle cx="424.3" cy="292.35" r="4.6" fill="#b8b8b8"/>
<circle cx="448.1" cy="292.35" r="5.6" fill="#cccccc"/>
<circle cx="448.1" cy="292.35" r="4.6" fill="#b8b8b8"/>
<circle cx="472" cy="292.35" r="5.6" fill="#aaaaaa"/>
<circle cx="467.8" cy="293.91" r="0.55" fill="#c8c8c8"/>
<circle cx="472.66" cy="290.51" r="0.55" fill="#c8c8c8"/>
<circle cx="469.49" cy="295.67" r="0.55" fill="#c8c8c8"/>
<circle cx="468.57" cy="295.7" r="0.55" fill="#c8c8c8"/>
<circle cx="473.24" cy="296.96" r="0.55" fill="#c8c8c8"/>
<circle cx="469.67" cy="292.28" r="0.55" fill="#c8c8c8"/>
<circle cx="470.3" cy="292.87" r="0.55" fill="#c8c8c8"/>
<circle cx="471.32" cy="289.94" r="0.55" fill="#c8c8c8"/>
<circle cx="475.03" cy="290.13" r="0.55" fill="#c8c8c8"/>
<circle cx="470.36" cy="294.14" r="0.55" fill="#c8c8c8"/>
<circle cx="470.24" cy="290.93" r="0.55" fill="#c8c8c8"/>
<circle cx="473.19" cy="291.12" r="0.55" fill="#c8c8c8"/>
<circle cx="468.4" cy="292.06" r="0.55" fill="#c8c8c8"/>
<circle cx="471.45" cy="296.62" r="0.55" fill="#c8c8c8"/>
<circle cx="469.02" cy="294.98" r="0.55" fill="#c8c8c8"/>
<circle cx="469.51" cy="291.22" r="0.55" fill="#c8c8c8"/>
<circle cx="470.89" cy="293.27" r="0.55" fill="#c8c8c8"/>
<circle cx="474" cy="296.4" r="0.55" fill="#c8c8c8"/>
<circle cx="470.28" cy="295.95" r="0.55" fill="#c8c8c8"/>
<circle cx="474.85" cy="294.67" r="0.55" fill="#c8c8c8"/>
<circle cx="469.77" cy="295" r="0.55" fill="#c8c8c8"/>
<circle cx="471.63" cy="293.55" r="0.55" fill="#c8c8c8"/>
<circle cx="471.12" cy="294.51" r="0.55" fill="#c8c8c8"/>
<circle cx="474.91" cy="295.3" r="0.55" fill="#c8c8c8"/>
<circle cx="471.37" cy="295.4" r="0.55" fill="#c8c8c8"/>
<circle cx="475.63" cy="290.01" r="0.55" fill="#c8c8c8"/>
<circle cx="475.37" cy="289.29" r="0.55" fill="#c8c8c8"/>
<circle cx="473.74" cy="294.25" r="0.55" fill="#c8c8c8"/>
<circle cx="475.97" cy="293.1" r="0.55" fill="#c8c8c8"/>
<circle cx="470.5" cy="289.86" r="0.55" fill="#c8c8c8"/>
<circle cx="496.4" cy="292.35" r="5.6" fill="#686868"/>
<circle cx="492.87" cy="294.51" r="0.6" fill="#b4b4b4"/>
<circle cx="495.6" cy="289.94" r="0.6" fill="#b4b4b4"/>
<circle cx="498.13" cy="289.87" r="0.6" fill="#b4b4b4"/>
<circle cx="494.9" cy="290.78" r="0.6" fill="#b4b4b4"/>
<circle cx="500.05" cy="295.58" r="0.6" fill="#b4b4b4"/>
<circle cx="495.97" cy="288.07" r="0.6" fill="#b4b4b4"/>
<circle cx="497.39" cy="292.61" r="0.6" fill="#b4b4b4"/>
<circle cx="497.59" cy="294.28" r="0.6" fill="#b4b4b4"/>
<circle cx="495.37" cy="295.32" r="0.6" fill="#b4b4b4"/>
<circle cx="499.16" cy="293.04" r="0.6" fill="#b4b4b4"/>
<circle cx="495" cy="290.7" r="0.6" fill="#b4b4b4"/>
<circle cx="498.45" cy="289.09" r="0.6" fill="#b4b4b4"/>
<circle cx="495.86" cy="289.83" r="0.6" fill="#b4b4b4"/>
<circle cx="492.53" cy="294.03" r="0.6" fill="#b4b4b4"/>
<circle cx="496.31" cy="292.48" r="0.6" fill="#b4b4b4"/>
<circle cx="498.67" cy="288.47" r="0.6" fill="#b4b4b4"/>
<circle cx="496.16" cy="293.38" r="0.6" fill="#b4b4b4"/>
<circle cx="498.82" cy="289.2" r="0.6" fill="#b4b4b4"/>
<circle cx="498.81" cy="293.09" r="0.6" fill="#b4b4b4"/>
<circle cx="499.87" cy="295.27" r="0.6" fill="#b4b4b4"/>
<circle cx="497.61" cy="297.07" r="0.6" fill="#b4b4b4"/>
<circle cx="496.4" cy="290.85" r="0.6" fill="#b4b4b4"/>
<circle cx="495.31" cy="289.34" r="0.6" fill="#b4b4b4"/>
<circle cx="496.33" cy="287.71" r="0.6" fill="#b4b4b4"/>
<circle cx="496.1" cy="293.85" r="0.6" fill="#b4b4b4"/>
<circle cx="499.53" cy="291.25" r="0.6" fill="#b4b4b4"/>
<circle cx="500.24" cy="290.55" r="0.6" fill="#b4b4b4"/>
<circle cx="496.07" cy="287.72" r="0.6" fill="#b4b4b4"/>
<circle cx="494.02" cy="289.88" r="0.6" fill="#b4b4b4"/>
<circle cx="500.42" cy="293.78" r="0.6" fill="#b4b4b4"/>
<circle cx="493.11" cy="293.94" r="0.6" fill="#b4b4b4"/>
<circle cx="498.04" cy="291.55" r="0.6" fill="#b4b4b4"/>
<circle cx="496.48" cy="291.29" r="0.6" fill="#b4b4b4"/>
<circle cx="495.06" cy="287.97" r="0.6" fill="#b4b4b4"/>
<circle cx="496.14" cy="296.11" r="0.6" fill="#b4b4b4"/>
<circle cx="500.4" cy="291.57" r="0.6" fill="#b4b4b4"/>
<circle cx="493.95" cy="291.66" r="0.6" fill="#b4b4b4"/>
<circle cx="499.24" cy="293.46" r="0.6" fill="#b4b4b4"/>
<circle cx="517.66" cy="293.67" r="0.5" fill="#a8a8a8"/>
<circle cx="519.03" cy="294.27" r="0.5" fill="#a8a8a8"/>
<circle cx="518.57" cy="287.93" r="0.5" fill="#a8a8a8"/>
<rect x="539.3" y="283.4" width="138.1" height="18.5" fill="#575757"/>
<rect x="539.3" y="301.1" width="138.1" height="0.8" fill="#6a6a6a"/>
<circle cx="549.4" cy="292.35" r="5.2" fill="#aeaeae"/>
<circle cx="549.4" cy="292.35" r="4.2" fill="#9a9a9a"/>
<circle cx="561.5" cy="292.6" r="0.7" fill="#e8e8e8"/>
<text x="383" y="319.1" font-size="10.5" text-anchor="end" fill="#111">JN208</text>
<rect x="390" y="304.5" width="137.6" height="18.5" fill="#535555"/>
<rect x="390" y="322.2" width="137.6" height="0.8" fill="#6a6a6a"/>
<circle cx="400" cy="313.45" r="5.6" fill="#cccccc"/>
<circle cx="400" cy="313.45" r="4.6" fill="#b8b8b8"/>
<circle cx="424.3" cy="313.45" r="5.6" fill="#cccccc"/>
<circle cx="424.3" cy="313.45" r="4.6" fill="#b8b8b8"/>
<circle cx="448.1" cy="313.45" r="5.6" fill="#cccccc"/>
<circle cx="448.1" cy="313.45" r="4.6" fill="#b8b8b8"/>
<circle cx="472" cy="313.45" r="5.6" fill="#aaaaaa"/>
<circle cx="472.18" cy="315.85" r="0.55" fill="#c8c8c8"/>
<circle cx="468.75" cy="313.13" r="0.55" fill="#c8c8c8"/>
<circle cx="474.67" cy="312.31" r="0.55" fill="#c8c8c8"/>
<circle cx="470.59" cy="317.84" r="0.55" fill="#c8c8c8"/>
<circle cx="474.31" cy="316.31" r="0.55" fill="#c8c8c8"/>
<circle cx="469.78" cy="317.28" r="0.55" fill="#c8c8c8"/>
<circle cx="467.92" cy="312.17" r="0.55" fill="#c8c8c8"/>
<circle cx="473.94" cy="316.95" r="0.55" fill="#c8c8c8"/>
<circle cx="469.29" cy="311.52" r="0.55" fill="#c8c8c8"/>
<circle cx="472.45" cy="309.01" r="0.55" fill="#c8c8c8"/>
<circle cx="473.98" cy="315.19" r="0.55" fill="#c8c8c8"/>
<circle cx="470.58" cy="315.16" r="0.55" fill="#c8c8c8"/>
<circle cx="474.41" cy="314.41" r="0.55" fill="#c8c8c8"/>
<circle cx="473.34" cy="317.33" r="0.55" fill="#c8c8c8"/>
<circle cx="470.44" cy="313.98" r="0.55" fill="#c8c8c8"/>
<circle cx="470.49" cy="316.44" r="0.55" fill="#c8c8c8"/>
<circle cx="470.69" cy="314.97" r="0.55" fill="#c8c8c8"/>
<circle cx="472.46" cy="313.67" r="0.55" fill="#c8c8c8"/>
<circle cx="476.24" cy="313.24" r="0.55" fill="#c8c8c8"/>
<circle cx="475.59" cy="315.54" r="0.55" fill="#c8c8c8"/>
<circle cx="475.65" cy="312.99" r="0.55" fill="#c8c8c8"/>
<circle cx="474.66" cy="315.61" r="0.55" fill="#c8c8c8"/>
<circle cx="470.04" cy="314.31" r="0.55" fill="#c8c8c8"/>
<circle cx="471.57" cy="313.33" r="0.55" fill="#c8c8c8"/>
<circle cx="475.44" cy="311.54" r="0.55" fill="#c8c8c8"/>
<circle cx="468.71" cy="310.04" r="0.55" fill="#c8c8c8"/>
<circle cx="470.59" cy="311.44" r="0.55" fill="#c8c8c8"/>
<circle cx="472.05" cy="315.27" r="0.55" fill="#c8c8c8"/>
<circle cx="476.25" cy="314.2" r="0.55" fill="#c8c8c8"/>
<circle cx="473.42" cy="311.19" r="0.55" fill="#c8c8c8"/>
<circle cx="496.4" cy="313.45" r="5.6" fill="#767676"/>
<circle cx="498" cy="317.2" r="0.6" fill="#c2c2c2"/>
<circle cx="499.18" cy="309.4" r="0.6" fill="#c2c2c2"/>
<circle cx="498.61" cy="317.39" r="0.6" fill="#c2c2c2"/>
<circle cx="498.53" cy="309.6" r="0.6" fill="#c2c2c2"/>
<circle cx="495.39" cy="315.39" r="0.6" fill="#c2c2c2"/>
<circle cx="497.71" cy="310.88" r="0.6" fill="#c2c2c2"/>
<circle cx="493.83" cy="316.23" r="0.6" fill="#c2c2c2"/>
<circle cx="493.23" cy="316.85" r="0.6" fill="#c2c2c2"/>
<circle cx="496.47" cy="314.48" r="0.6" fill="#c2c2c2"/>
<circle cx="492.71" cy="311.8" r="0.6" fill="#c2c2c2"/>
<circle cx="498.22" cy="309.57" r="0.6" fill="#c2c2c2"/>
<circle cx="500.5" cy="310.67" r="0.6" fill="#c2c2c2"/>
<circle cx="492.8" cy="313.58" r="0.6" fill="#c2c2c2"/>
<circle cx="497.93" cy="315.78" r="0.6" fill="#c2c2c2"/>
<circle cx="495.14" cy="312.75" r="0.6" fill="#c2c2c2"/>
<circle cx="495.62" cy="311.54" r="0.6" fill="#c2c2c2"/>
<circle cx="491.69" cy="315.21" r="0.6" fill="#c2c2c2"/>
<circle cx="497.26" cy="313.99" r="0.6" fill="#c2c2c2"/>
<circle cx="494.33" cy="314.28" r="0.6" fill="#c2c2c2"/>
<circle cx="496.35" cy="313.18" r="0.6" fill="#c2c2c2"/>
<circle cx="498.95" cy="309.48" r="0.6" fill="#c2c2c2"/>
<circle cx="497.16" cy="310.21" r="0.6" fill="#c2c2c2"/>
<circle cx="495.54" cy="317.51" r="0.6" fill="#c2c2c2"/>
<circle cx="493.1" cy="313.15" r="0.6" fill="#c2c2c2"/>
<circle cx="494.61" cy="316.32" r="0.6" fill="#c2c2c2"/>
<circle cx="494.07" cy="309.44" r="0.6" fill="#c2c2c2"/>
<circle cx="498.1" cy="312.28" r="0.6" fill="#c2c2c2"/>
<circle cx="495.44" cy="316.71" r="0.6" fill="#c2c2c2"/>
<circle cx="493.63" cy="312.28" r="0.6" fill="#c2c2c2"/>
<circle cx="496.9" cy="314.85" r="0.6" fill="#c2c2c2"/>
<circle cx="494.85" cy="316.55" r="0.6" fill="#c2c2c2"/>
<circle cx="501.18" cy="312.58" r="0.6" fill="#c2c2c2"/>
<circle cx="499.74" cy="309.68" r="0.6" fill="#c2c2c2"/>
<circle cx="500.3" cy="312.5" r="0.6" fill="#c2c2c2"/>
<circle cx="496.87" cy="312.29" r="0.6" fill="#c2c2c2"/>
<circle cx="494.62" cy="309.89" r="0.6" fill="#c2c2c2"/>
<circle cx="495.28" cy="317.14" r="0.6" fill="#c2c2c2"/>
<circle cx="499.78" cy="312.42" r="0.6" fill="#c2c2c2"/>
<circle cx="517.96" cy="311" r="0.5" fill="#a8a8a8"/>
<circle cx="516.88" cy="317.84" r="0.5" fill="#a8a8a8"/>
<circle cx="522.2" cy="313.87" r="0.5" fill="#a8a8a8"/>
<rect x="539.3" y="304.5" width="138.1" height="18.5" fill="#575757"/>
<rect x="539.3" y="322.2" width="138.1" height="0.8" fill="#6a6a6a"/>
<circle cx="549.4" cy="313.45" r="5.4" fill="#d8d8d8"/>
<circle cx="549.4" cy="313.45" r="4.4" fill="#c4c4c4"/>
<text x="383" y="340.2" font-size="10.5" text-anchor="end" fill="#111">JN212</text>
<rect x="390" y="325.6" width="137.6" height="18.5" fill="#535555"/>
<rect x="390" y="343.3" width="137.6" height="0.8" fill="#6a6a6a"/>
<circle cx="400" cy="334.55" r="5.6" fill="#cccccc"/>
<circle cx="400" cy="334.55" r="4.6" fill="#b8b8b8"/>
<circle cx="424.3" cy="334.55" r="5.6" fill="#cccccc"/>
<circle cx="424.3" cy="334.55" r="4.6" fill="#b8b8b8"/>
<circle cx="448.1" cy="334.55" r="5.6" fill="#cccccc"/>
<circle cx="448.1" cy="334.55" r="4.6" fill="#b8b8b8"/>
<circle cx="472" cy="334.55" r="5.6" fill="#aaaaaa"/>
<circle cx="470.58" cy="331.6" r="0.55" fill="#c8c8c8"/>
<circle cx="475.43" cy="336.58" r="0.55" fill="#c8c8c8"/>
<circle cx="469.41" cy="337.24" r="0.55" fill="#c8c8c8"/>
<circle cx="468.91" cy="336.34" r="0.55" fill="#c8c8c8"/>
<circle cx="469.17" cy="333.33" r="0.55" fill="#c8c8c8"/>
<circle cx="473.57" cy="335.92" r="0.55" fill="#c8c8c8"/>
<circle cx="474.79" cy="332.24" r="0.55" fill="#c8c8c8"/>
<circle cx="475.46" cy="337.5" r="0.55" fill="#c8c8c8"/>
<circle cx="471.97" cy="336.06" r="0.55" fill="#c8c8c8"/>
<circle cx="469.59" cy="334.08" r="0.55" fill="#c8c8c8"/>
<circle cx="468.36" cy="334.8" r="0.55" fill="#c8c8c8"/>
<circle cx="472.54" cy="338.22" r="0.55" fill="#c8c8c8"/>
<circle cx="474.66" cy="336.84" r="0.55" fill="#c8c8c8"/>
<circle cx="470.82" cy="333.82" r="0.55" fill="#c8c8c8"/>
<circle cx="470.89" cy="335.28" r="0.55" fill="#c8c8c8"/>
<circle cx="467.77" cy="336.24" r="0.55" fill="#c8c8c8"/>
<circle cx="468.06" cy="333.26" r="0.55" fill="#c8c8c8"/>
<circle cx="472.07" cy="332.89" r="0.55" fill="#c8c8c8"/>
<circle cx="476.16" cy="334.31" r="0.55" fill="#c8c8c8"/>
<circle cx="475.58" cy="337.22" r="0.55" fill="#c8c8c8"/>
<circle cx="470.42" cy="335.82" r="0.55" fill="#c8c8c8"/>
<circle cx="475.56" cy="333.64" r="0.55" fill="#c8c8c8"/>
<circle cx="472.28" cy="332.76" r="0.55" fill="#c8c8c8"/>
<circle cx="472.19" cy="333.39" r="0.55" fill="#c8c8c8"/>
<circle cx="472.25" cy="337.53" r="0.55" fill="#c8c8c8"/>
<circle cx="475.76" cy="334.91" r="0.55" fill="#c8c8c8"/>
<circle cx="472.62" cy="337.16" r="0.55" fill="#c8c8c8"/>
<circle cx="471.15" cy="331.47" r="0.55" fill="#c8c8c8"/>
<circle cx="474.95" cy="332.06" r="0.55" fill="#c8c8c8"/>
<circle cx="474.55" cy="331.9" r="0.55" fill="#c8c8c8"/>
<circle cx="496.4" cy="334.55" r="5.6" fill="#646464"/>
<circle cx="500.53" cy="332.19" r="0.6" fill="#b0b0b0"/>
<circle cx="498.57" cy="338.38" r="0.6" fill="#b0b0b0"/>
<circle cx="493.98" cy="338.29" r="0.6" fill="#b0b0b0"/>
<circle cx="494.44" cy="330.35" r="0.6" fill="#b0b0b0"/>
<circle cx="498.63" cy="336.72" r="0.6" fill="#b0b0b0"/>
<circle cx="496" cy="329.6" r="0.6" fill="#b0b0b0"/>
<circle cx="496.21" cy="333.5" r="0.6" fill="#b0b0b0"/>
<circle cx="495.12" cy="333.57" r="0.6" fill="#b0b0b0"/>
<circle cx="492.04" cy="333.17" r="0.6" fill="#b0b0b0"/>
<circle cx="500.12" cy="337.75" r="0.6" fill="#b0b0b0"/>
<circle cx="495.23" cy="332.26" r="0.6" fill="#b0b0b0"/>
<circle cx="497.59" cy="337.74" r="0.6" fill="#b0b0b0"/>
<circle cx="498.45" cy="331.24" r="0.6" fill="#b0b0b0"/>
<circle cx="496.96" cy="335.03" r="0.6" fill="#b0b0b0"/>
<circle cx="499.91" cy="337.47" r="0.6" fill="#b0b0b0"/>
<circle cx="497.9" cy="338.04" r="0.6" fill="#b0b0b0"/>
<circle cx="495.35" cy="338.64" r="0.6" fill="#b0b0b0"/>
<circle cx="494.98" cy="335.87" r="0.6" fill="#b0b0b0"/>
<circle cx="499.05" cy="331.91" r="0.6" fill="#b0b0b0"/>
<circle cx="494.7" cy="330.29" r="0.6" fill="#b0b0b0"/>
<circle cx="496.97" cy="334.36" r="0.6" fill="#b0b0b0"/>
<circle cx="495.31" cy="336.21" r="0.6" fill="#b0b0b0"/>
<circle cx="491.63" cy="334.5" r="0.6" fill="#b0b0b0"/>
<circle cx="496.7" cy="333.64" r="0.6" fill="#b0b0b0"/>
<circle cx="498.3" cy="338.75" r="0.6" fill="#b0b0b0"/>
<circle cx="495.03" cy="331.66" r="0.6" fill="#b0b0b0"/>
<circle cx="494.39" cy="334.86" r="0.6" fill="#b0b0b0"/>
<circle cx="498.2" cy="331.91" r="0.6" fill="#b0b0b0"/>
<circle cx="499.18" cy="331.7" r="0.6" fill="#b0b0b0"/>
<circle cx="499" cy="335.89" r="0.6" fill="#b0b0b0"/>
<circle cx="497.41" cy="339.26" r="0.6" fill="#b0b0b0"/>
<circle cx="495.5" cy="333.98" r="0.6" fill="#b0b0b0"/>
<circle cx="497.88" cy="337.23" r="0.6" fill="#b0b0b0"/>
<circle cx="492.61" cy="335.33" r="0.6" fill="#b0b0b0"/>
<circle cx="494.09" cy="336.51" r="0.6" fill="#b0b0b0"/>
<circle cx="500.28" cy="334.7" r="0.6" fill="#b0b0b0"/>
<circle cx="496.03" cy="335.18" r="0.6" fill="#b0b0b0"/>
<circle cx="491.5" cy="335.83" r="0.6" fill="#b0b0b0"/>
<circle cx="521.85" cy="335.15" r="0.5" fill="#a8a8a8"/>
<circle cx="518.41" cy="331.98" r="0.5" fill="#a8a8a8"/>
<circle cx="519.22" cy="338.47" r="0.5" fill="#a8a8a8"/>
<rect x="539.3" y="325.6" width="138.1" height="18.5" fill="#575757"/>
<rect x="539.3" y="343.3" width="138.1" height="0.8" fill="#6a6a6a"/>
<circle cx="549.4" cy="334.55" r="4.8" fill="#bcbcbc"/>
<circle cx="549.4" cy="334.55" r="3.8" fill="#a8a8a8"/>
<text x="458.5" y="358" font-size="10.8" text-anchor="middle" fill="#111">0.1 M NaCl</text>
<text x="608.5" y="358" font-size="10.8" text-anchor="middle" fill="#111">0.5 M NaCl</text>
<text x="396" y="388" font-size="10" fill="#111">10<tspan font-size="6" dy="-4.2">0</tspan></text>
<text x="420.4" y="388" font-size="10" fill="#111">10<tspan font-size="6" dy="-4.2">-1</tspan></text>
<text x="443.5" y="388" font-size="10" fill="#111">10<tspan font-size="6" dy="-4.2">-2</tspan></text>
<text x="467.8" y="388" font-size="10" fill="#111">10<tspan font-size="6" dy="-4.2">-3</tspan></text>
<text x="491.2" y="388" font-size="10" fill="#111">10<tspan font-size="6" dy="-4.2">-4</tspan></text>
<text x="513" y="388" font-size="10" fill="#111">10<tspan font-size="6" dy="-4.2">-5</tspan></text>
<text x="544.5" y="388" font-size="10" fill="#111">10<tspan font-size="6" dy="-4.2">0</tspan></text>
<text x="567.9" y="388" font-size="10" fill="#111">10<tspan font-size="6" dy="-4.2">-1</tspan></text>
<text x="592.1" y="388" font-size="10" fill="#111">10<tspan font-size="6" dy="-4.2">-2</tspan></text>
<text x="616.5" y="388" font-size="10" fill="#111">10<tspan font-size="6" dy="-4.2">-3</tspan></text>
<text x="639.6" y="388" font-size="10" fill="#111">10<tspan font-size="6" dy="-4.2">-4</tspan></text>
<text x="663" y="388" font-size="10" fill="#111">10<tspan font-size="6" dy="-4.2">-5</tspan></text>
<rect x="373.2" y="397.3" width="8.6" height="8.6" fill="#e4e0a4" stroke="#555" stroke-width="0.8"/>
<rect x="390.1" y="391.9" width="137.5" height="18.5" fill="#535555"/>
<rect x="390.1" y="409.6" width="137.5" height="0.8" fill="#6a6a6a"/>
<circle cx="401.5" cy="400.85" r="6.2" fill="#bebebe"/>
<circle cx="401.5" cy="400.85" r="5.2" fill="#aaaaaa"/>
<circle cx="425.7" cy="400.85" r="6.2" fill="#c0c0c0"/>
<circle cx="425.7" cy="400.85" r="5.2" fill="#acacac"/>
<circle cx="449.2" cy="400.85" r="6.2" fill="#8e8e8e"/>
<circle cx="448.89" cy="404.99" r="0.55" fill="#acacac"/>
<circle cx="443.9" cy="399.9" r="0.55" fill="#acacac"/>
<circle cx="450.21" cy="400.8" r="0.55" fill="#acacac"/>
<circle cx="444.72" cy="399.06" r="0.55" fill="#acacac"/>
<circle cx="452.56" cy="397.37" r="0.55" fill="#acacac"/>
<circle cx="446.26" cy="397.6" r="0.55" fill="#acacac"/>
<circle cx="447.3" cy="403.06" r="0.55" fill="#acacac"/>
<circle cx="450.64" cy="395.92" r="0.55" fill="#acacac"/>
<circle cx="453.41" cy="399.14" r="0.55" fill="#acacac"/>
<circle cx="447.6" cy="405.38" r="0.55" fill="#acacac"/>
<circle cx="448.94" cy="396.93" r="0.55" fill="#acacac"/>
<circle cx="447.05" cy="398.41" r="0.55" fill="#acacac"/>
<circle cx="445.87" cy="399.75" r="0.55" fill="#acacac"/>
<circle cx="452.17" cy="402.03" r="0.55" fill="#acacac"/>
<circle cx="446.77" cy="405.75" r="0.55" fill="#acacac"/>
<circle cx="445.89" cy="401.24" r="0.55" fill="#acacac"/>
<circle cx="449.31" cy="403.51" r="0.55" fill="#acacac"/>
<circle cx="448.02" cy="402.49" r="0.55" fill="#acacac"/>
<circle cx="454.33" cy="401.08" r="0.55" fill="#acacac"/>
<circle cx="445.69" cy="401.92" r="0.55" fill="#acacac"/>
<circle cx="446.45" cy="399.58" r="0.55" fill="#acacac"/>
<circle cx="449.89" cy="402.09" r="0.55" fill="#acacac"/>
<circle cx="448.23" cy="403.75" r="0.55" fill="#acacac"/>
<circle cx="448.6" cy="396.81" r="0.55" fill="#acacac"/>
<circle cx="452.16" cy="399.62" r="0.55" fill="#acacac"/>
<circle cx="452.9" cy="398.85" r="0.55" fill="#acacac"/>
<circle cx="451.24" cy="401.97" r="0.55" fill="#acacac"/>
<circle cx="444.42" cy="398.2" r="0.55" fill="#acacac"/>
<circle cx="446.19" cy="404.64" r="0.55" fill="#acacac"/>
<circle cx="444.59" cy="403.08" r="0.55" fill="#acacac"/>
<circle cx="473" cy="400.85" r="6.2" fill="#767676"/>
<circle cx="476.61" cy="402.49" r="0.6" fill="#c2c2c2"/>
<circle cx="475.41" cy="399.08" r="0.6" fill="#c2c2c2"/>
<circle cx="472.96" cy="401.71" r="0.6" fill="#c2c2c2"/>
<circle cx="474.51" cy="403.39" r="0.6" fill="#c2c2c2"/>
<circle cx="472.25" cy="398.3" r="0.6" fill="#c2c2c2"/>
<circle cx="470.94" cy="402.36" r="0.6" fill="#c2c2c2"/>
<circle cx="468.77" cy="397.66" r="0.6" fill="#c2c2c2"/>
<circle cx="471.49" cy="398.82" r="0.6" fill="#c2c2c2"/>
<circle cx="472.43" cy="395.28" r="0.6" fill="#c2c2c2"/>
<circle cx="471.71" cy="399.9" r="0.6" fill="#c2c2c2"/>
<circle cx="474.95" cy="395.88" r="0.6" fill="#c2c2c2"/>
<circle cx="471.86" cy="402.62" r="0.6" fill="#c2c2c2"/>
<circle cx="474.58" cy="404.72" r="0.6" fill="#c2c2c2"/>
<circle cx="476.23" cy="397.63" r="0.6" fill="#c2c2c2"/>
<circle cx="475.32" cy="399.63" r="0.6" fill="#c2c2c2"/>
<circle cx="470.71" cy="405.22" r="0.6" fill="#c2c2c2"/>
<circle cx="470.85" cy="397.93" r="0.6" fill="#c2c2c2"/>
<circle cx="471.57" cy="397.86" r="0.6" fill="#c2c2c2"/>
<circle cx="476.43" cy="402.15" r="0.6" fill="#c2c2c2"/>
<circle cx="477.33" cy="402.12" r="0.6" fill="#c2c2c2"/>
<circle cx="470.97" cy="404.31" r="0.6" fill="#c2c2c2"/>
<circle cx="470.64" cy="399.18" r="0.6" fill="#c2c2c2"/>
<circle cx="472.35" cy="401" r="0.6" fill="#c2c2c2"/>
<circle cx="476.82" cy="398.91" r="0.6" fill="#c2c2c2"/>
<circle cx="474.34" cy="400.74" r="0.6" fill="#c2c2c2"/>
<circle cx="469.34" cy="397.67" r="0.6" fill="#c2c2c2"/>
<circle cx="472.17" cy="402.38" r="0.6" fill="#c2c2c2"/>
<circle cx="474.2" cy="402.64" r="0.6" fill="#c2c2c2"/>
<circle cx="473.18" cy="399.15" r="0.6" fill="#c2c2c2"/>
<circle cx="474.45" cy="397.44" r="0.6" fill="#c2c2c2"/>
<circle cx="468.76" cy="399.8" r="0.6" fill="#c2c2c2"/>
<circle cx="468.65" cy="399.29" r="0.6" fill="#c2c2c2"/>
<circle cx="470.37" cy="398.9" r="0.6" fill="#c2c2c2"/>
<circle cx="472.84" cy="397.96" r="0.6" fill="#c2c2c2"/>
<circle cx="471.8" cy="396.02" r="0.6" fill="#c2c2c2"/>
<circle cx="473.51" cy="397.72" r="0.6" fill="#c2c2c2"/>
<circle cx="473.8" cy="395.27" r="0.6" fill="#c2c2c2"/>
<circle cx="470.12" cy="401.72" r="0.6" fill="#c2c2c2"/>
<circle cx="490.85" cy="399.97" r="0.6" fill="#b8b8b8"/>
<circle cx="497.2" cy="401.28" r="0.6" fill="#b8b8b8"/>
<circle cx="491.84" cy="401.61" r="0.6" fill="#b8b8b8"/>
<circle cx="497.36" cy="397.16" r="0.6" fill="#b8b8b8"/>
<circle cx="499.76" cy="400.65" r="0.6" fill="#b8b8b8"/>
<circle cx="496.88" cy="398.99" r="0.6" fill="#b8b8b8"/>
<circle cx="499.04" cy="401.25" r="0.6" fill="#b8b8b8"/>
<circle cx="500.88" cy="402.47" r="0.6" fill="#b8b8b8"/>
<circle cx="494.31" cy="399.95" r="0.6" fill="#b8b8b8"/>
<circle cx="523.08" cy="399.46" r="0.5" fill="#a8a8a8"/>
<circle cx="521.14" cy="402.96" r="0.5" fill="#a8a8a8"/>
<circle cx="519.14" cy="394.92" r="0.5" fill="#a8a8a8"/>
<rect x="539.3" y="391.9" width="138.1" height="18.5" fill="#535555"/>
<rect x="539.3" y="409.6" width="138.1" height="0.8" fill="#6a6a6a"/>
<circle cx="549.9" cy="400.85" r="5.5" fill="#e4e4e4"/>
<circle cx="549.9" cy="400.85" r="4.5" fill="#d0d0d0"/>
<circle cx="573.9" cy="400.85" r="5.5" fill="#c8c8c8"/>
<circle cx="573.9" cy="400.85" r="4.5" fill="#b4b4b4"/>
<circle cx="597.5" cy="400.85" r="5.5" fill="#909090"/>
<circle cx="597.93" cy="401.55" r="0.55" fill="#aeaeae"/>
<circle cx="597.91" cy="398.52" r="0.55" fill="#aeaeae"/>
<circle cx="600.87" cy="400.47" r="0.55" fill="#aeaeae"/>
<circle cx="595.65" cy="398.72" r="0.55" fill="#aeaeae"/>
<circle cx="598.52" cy="397.76" r="0.55" fill="#aeaeae"/>
<circle cx="595.46" cy="404.93" r="0.55" fill="#aeaeae"/>
<circle cx="600.7" cy="403.43" r="0.55" fill="#aeaeae"/>
<circle cx="601.03" cy="402.39" r="0.55" fill="#aeaeae"/>
<circle cx="593.86" cy="403.43" r="0.55" fill="#aeaeae"/>
<circle cx="600.85" cy="402.18" r="0.55" fill="#aeaeae"/>
<circle cx="593.62" cy="403.32" r="0.55" fill="#aeaeae"/>
<circle cx="601.08" cy="399.56" r="0.55" fill="#aeaeae"/>
<circle cx="597.89" cy="403.23" r="0.55" fill="#aeaeae"/>
<circle cx="597.26" cy="404" r="0.55" fill="#aeaeae"/>
<circle cx="597.75" cy="403" r="0.55" fill="#aeaeae"/>
<circle cx="597.72" cy="397.01" r="0.55" fill="#aeaeae"/>
<circle cx="596.07" cy="405.42" r="0.55" fill="#aeaeae"/>
<circle cx="598.25" cy="404.39" r="0.55" fill="#aeaeae"/>
<circle cx="599.97" cy="404.57" r="0.55" fill="#aeaeae"/>
<circle cx="599.19" cy="399.03" r="0.55" fill="#aeaeae"/>
<circle cx="597.54" cy="396.5" r="0.55" fill="#aeaeae"/>
<circle cx="596.94" cy="403.56" r="0.55" fill="#aeaeae"/>
<circle cx="592.99" cy="401.26" r="0.55" fill="#aeaeae"/>
<circle cx="599.59" cy="404.22" r="0.55" fill="#aeaeae"/>
<circle cx="594.86" cy="398.99" r="0.55" fill="#aeaeae"/>
<circle cx="593.54" cy="398.7" r="0.55" fill="#aeaeae"/>
<circle cx="598.63" cy="405.22" r="0.55" fill="#aeaeae"/>
<circle cx="594.79" cy="404.11" r="0.55" fill="#aeaeae"/>
<circle cx="598.84" cy="399.3" r="0.55" fill="#aeaeae"/>
<circle cx="600.64" cy="397.24" r="0.55" fill="#aeaeae"/>
<circle cx="621.6" cy="400.85" r="5.5" fill="#6e6e6e"/>
<circle cx="621.37" cy="401.6" r="0.6" fill="#bababa"/>
<circle cx="625.37" cy="404.03" r="0.6" fill="#bababa"/>
<circle cx="626.37" cy="401.13" r="0.6" fill="#bababa"/>
<circle cx="624.1" cy="404.33" r="0.6" fill="#bababa"/>
<circle cx="623.28" cy="402.03" r="0.6" fill="#bababa"/>
<circle cx="620.98" cy="399.48" r="0.6" fill="#bababa"/>
<circle cx="619.04" cy="404.9" r="0.6" fill="#bababa"/>
<circle cx="620.61" cy="396.26" r="0.6" fill="#bababa"/>
<circle cx="622.5" cy="400.73" r="0.6" fill="#bababa"/>
<circle cx="622.03" cy="405.28" r="0.6" fill="#bababa"/>
<circle cx="621.24" cy="399.95" r="0.6" fill="#bababa"/>
<circle cx="619.19" cy="400.78" r="0.6" fill="#bababa"/>
<circle cx="620.13" cy="401.53" r="0.6" fill="#bababa"/>
<circle cx="626.54" cy="401.47" r="0.6" fill="#bababa"/>
<circle cx="619.7" cy="405.13" r="0.6" fill="#bababa"/>
<circle cx="624.14" cy="403.25" r="0.6" fill="#bababa"/>
<circle cx="623.75" cy="403.32" r="0.6" fill="#bababa"/>
<circle cx="623.39" cy="404.58" r="0.6" fill="#bababa"/>
<circle cx="624.17" cy="404.29" r="0.6" fill="#bababa"/>
<circle cx="619.92" cy="400.84" r="0.6" fill="#bababa"/>
<circle cx="619.47" cy="403.65" r="0.6" fill="#bababa"/>
<circle cx="624.18" cy="399.4" r="0.6" fill="#bababa"/>
<circle cx="622.67" cy="405.65" r="0.6" fill="#bababa"/>
<circle cx="624.77" cy="397.98" r="0.6" fill="#bababa"/>
<circle cx="621.3" cy="402.93" r="0.6" fill="#bababa"/>
<circle cx="621.48" cy="402.16" r="0.6" fill="#bababa"/>
<circle cx="625.04" cy="401.81" r="0.6" fill="#bababa"/>
<circle cx="618.47" cy="402.89" r="0.6" fill="#bababa"/>
<circle cx="621.27" cy="401.24" r="0.6" fill="#bababa"/>
<circle cx="620.07" cy="397.11" r="0.6" fill="#bababa"/>
<circle cx="618.04" cy="399.84" r="0.6" fill="#bababa"/>
<circle cx="619.78" cy="396.24" r="0.6" fill="#bababa"/>
<circle cx="624.58" cy="397.84" r="0.6" fill="#bababa"/>
<circle cx="619.33" cy="402.52" r="0.6" fill="#bababa"/>
<circle cx="617.29" cy="403.25" r="0.6" fill="#bababa"/>
<circle cx="619.25" cy="402.87" r="0.6" fill="#bababa"/>
<circle cx="620" cy="401.86" r="0.6" fill="#bababa"/>
<circle cx="621.96" cy="400.85" r="0.6" fill="#bababa"/>
<circle cx="640.28" cy="397.53" r="0.6" fill="#b8b8b8"/>
<circle cx="644.27" cy="405.15" r="0.6" fill="#b8b8b8"/>
<circle cx="642.47" cy="402.73" r="0.6" fill="#b8b8b8"/>
<circle cx="645" cy="402.63" r="0.6" fill="#b8b8b8"/>
<circle cx="647.09" cy="396.79" r="0.6" fill="#b8b8b8"/>
<circle cx="645.43" cy="400.18" r="0.6" fill="#b8b8b8"/>
<circle cx="643.32" cy="397.91" r="0.6" fill="#b8b8b8"/>
<circle cx="641.93" cy="397.61" r="0.6" fill="#b8b8b8"/>
<circle cx="642.23" cy="405.82" r="0.6" fill="#b8b8b8"/>
<circle cx="674.45" cy="400.88" r="0.5" fill="#a8a8a8"/>
<circle cx="672.08" cy="397.72" r="0.5" fill="#a8a8a8"/>
<circle cx="665.11" cy="397.84" r="0.5" fill="#a8a8a8"/>
<rect x="373.2" y="418.4" width="8.6" height="8.6" fill="#b4eee6" stroke="#555" stroke-width="0.8"/>
<rect x="390.1" y="413" width="137.5" height="18.5" fill="#535555"/>
<rect x="390.1" y="430.7" width="137.5" height="0.8" fill="#6a6a6a"/>
<circle cx="401.5" cy="421.95" r="6.2" fill="#bebebe"/>
<circle cx="401.5" cy="421.95" r="5.2" fill="#aaaaaa"/>
<circle cx="425.7" cy="421.95" r="6.2" fill="#c0c0c0"/>
<circle cx="425.7" cy="421.95" r="5.2" fill="#acacac"/>
<circle cx="449.2" cy="421.95" r="6.2" fill="#8e8e8e"/>
<circle cx="449.63" cy="426.29" r="0.55" fill="#acacac"/>
<circle cx="449.06" cy="418.57" r="0.55" fill="#acacac"/>
<circle cx="448.39" cy="418.6" r="0.55" fill="#acacac"/>
<circle cx="444.95" cy="421.24" r="0.55" fill="#acacac"/>
<circle cx="447.82" cy="419.15" r="0.55" fill="#acacac"/>
<circle cx="446.4" cy="419.01" r="0.55" fill="#acacac"/>
<circle cx="449.92" cy="426.19" r="0.55" fill="#acacac"/>
<circle cx="448.71" cy="427.17" r="0.55" fill="#acacac"/>
<circle cx="444.59" cy="422.73" r="0.55" fill="#acacac"/>
<circle cx="445.44" cy="421.43" r="0.55" fill="#acacac"/>
<circle cx="449.57" cy="423.99" r="0.55" fill="#acacac"/>
<circle cx="452.79" cy="420.19" r="0.55" fill="#acacac"/>
<circle cx="445.25" cy="421.35" r="0.55" fill="#acacac"/>
<circle cx="450.24" cy="419.47" r="0.55" fill="#acacac"/>
<circle cx="451.54" cy="426.35" r="0.55" fill="#acacac"/>
<circle cx="444.93" cy="423.04" r="0.55" fill="#acacac"/>
<circle cx="451.63" cy="417.35" r="0.55" fill="#acacac"/>
<circle cx="449.97" cy="421.11" r="0.55" fill="#acacac"/>
<circle cx="445.52" cy="425.36" r="0.55" fill="#acacac"/>
<circle cx="450" cy="420.19" r="0.55" fill="#acacac"/>
<circle cx="450.77" cy="424.22" r="0.55" fill="#acacac"/>
<circle cx="451.82" cy="423.93" r="0.55" fill="#acacac"/>
<circle cx="450.5" cy="418.2" r="0.55" fill="#acacac"/>
<circle cx="447.64" cy="422.43" r="0.55" fill="#acacac"/>
<circle cx="444.85" cy="425.3" r="0.55" fill="#acacac"/>
<circle cx="447.95" cy="418.48" r="0.55" fill="#acacac"/>
<circle cx="444.33" cy="422.62" r="0.55" fill="#acacac"/>
<circle cx="449.32" cy="419.82" r="0.55" fill="#acacac"/>
<circle cx="447.78" cy="418.93" r="0.55" fill="#acacac"/>
<circle cx="446.54" cy="421.6" r="0.55" fill="#acacac"/>
<circle cx="473" cy="421.95" r="6.2" fill="#767676"/>
<circle cx="470.71" cy="424.36" r="0.6" fill="#c2c2c2"/>
<circle cx="472.44" cy="422.47" r="0.6" fill="#c2c2c2"/>
<circle cx="474.31" cy="426.05" r="0.6" fill="#c2c2c2"/>
<circle cx="475.25" cy="422.8" r="0.6" fill="#c2c2c2"/>
<circle cx="472.41" cy="419.02" r="0.6" fill="#c2c2c2"/>
<circle cx="471.74" cy="424.46" r="0.6" fill="#c2c2c2"/>
<circle cx="473.87" cy="420.46" r="0.6" fill="#c2c2c2"/>
<circle cx="469.53" cy="417.96" r="0.6" fill="#c2c2c2"/>
<circle cx="474.11" cy="425.49" r="0.6" fill="#c2c2c2"/>
<circle cx="474.18" cy="417.63" r="0.6" fill="#c2c2c2"/>
<circle cx="472.17" cy="422.81" r="0.6" fill="#c2c2c2"/>
<circle cx="469.77" cy="423.17" r="0.6" fill="#c2c2c2"/>
<circle cx="472.28" cy="418.94" r="0.6" fill="#c2c2c2"/>
<circle cx="469.16" cy="424.46" r="0.6" fill="#c2c2c2"/>
<circle cx="474.26" cy="418.81" r="0.6" fill="#c2c2c2"/>
<circle cx="469.74" cy="424.81" r="0.6" fill="#c2c2c2"/>
<circle cx="475.22" cy="420.81" r="0.6" fill="#c2c2c2"/>
<circle cx="477.73" cy="421.09" r="0.6" fill="#c2c2c2"/>
<circle cx="469.77" cy="425.29" r="0.6" fill="#c2c2c2"/>
<circle cx="472.27" cy="423.28" r="0.6" fill="#c2c2c2"/>
<circle cx="473.13" cy="418.44" r="0.6" fill="#c2c2c2"/>
<circle cx="469.04" cy="421.3" r="0.6" fill="#c2c2c2"/>
<circle cx="477.04" cy="419.07" r="0.6" fill="#c2c2c2"/>
<circle cx="477.33" cy="422.65" r="0.6" fill="#c2c2c2"/>
<circle cx="469.23" cy="422.85" r="0.6" fill="#c2c2c2"/>
<circle cx="474.96" cy="418.84" r="0.6" fill="#c2c2c2"/>
<circle cx="467.7" cy="422.84" r="0.6" fill="#c2c2c2"/>
<circle cx="469.29" cy="423.42" r="0.6" fill="#c2c2c2"/>
<circle cx="467.84" cy="421.57" r="0.6" fill="#c2c2c2"/>
<circle cx="470.65" cy="417.65" r="0.6" fill="#c2c2c2"/>
<circle cx="472.06" cy="422.62" r="0.6" fill="#c2c2c2"/>
<circle cx="471.19" cy="418.11" r="0.6" fill="#c2c2c2"/>
<circle cx="473.6" cy="416.99" r="0.6" fill="#c2c2c2"/>
<circle cx="474.97" cy="423.76" r="0.6" fill="#c2c2c2"/>
<circle cx="477.56" cy="424.35" r="0.6" fill="#c2c2c2"/>
<circle cx="474.36" cy="422.96" r="0.6" fill="#c2c2c2"/>
<circle cx="473.09" cy="417.67" r="0.6" fill="#c2c2c2"/>
<circle cx="477.43" cy="423.54" r="0.6" fill="#c2c2c2"/>
<circle cx="495.76" cy="417.77" r="0.6" fill="#b8b8b8"/>
<circle cx="501.65" cy="423.69" r="0.6" fill="#b8b8b8"/>
<circle cx="492.68" cy="424.29" r="0.6" fill="#b8b8b8"/>
<circle cx="502.4" cy="421.88" r="0.6" fill="#b8b8b8"/>
<circle cx="498.44" cy="420.25" r="0.6" fill="#b8b8b8"/>
<circle cx="494.54" cy="425.8" r="0.6" fill="#b8b8b8"/>
<circle cx="502.96" cy="422.18" r="0.6" fill="#b8b8b8"/>
<circle cx="496.31" cy="425.09" r="0.6" fill="#b8b8b8"/>
<circle cx="495.59" cy="424.84" r="0.6" fill="#b8b8b8"/>
<circle cx="522.52" cy="418.37" r="0.5" fill="#a8a8a8"/>
<circle cx="515.59" cy="421.67" r="0.5" fill="#a8a8a8"/>
<circle cx="522.85" cy="423.03" r="0.5" fill="#a8a8a8"/>
<rect x="539.3" y="413" width="138.1" height="18.5" fill="#535555"/>
<rect x="539.3" y="430.7" width="138.1" height="0.8" fill="#6a6a6a"/>
<circle cx="549.9" cy="421.95" r="5.3" fill="#e2e2e2"/>
<circle cx="549.9" cy="421.95" r="4.3" fill="#cecece"/>
<circle cx="573.9" cy="421.95" r="5.3" fill="#bcbcbc"/>
<circle cx="573.9" cy="421.95" r="4.3" fill="#a8a8a8"/>
<circle cx="597.5" cy="421.95" r="5.3" fill="#858585"/>
<circle cx="600.26" cy="418.89" r="0.55" fill="#a3a3a3"/>
<circle cx="598.95" cy="420.12" r="0.55" fill="#a3a3a3"/>
<circle cx="597.81" cy="422.95" r="0.55" fill="#a3a3a3"/>
<circle cx="594.76" cy="421.3" r="0.55" fill="#a3a3a3"/>
<circle cx="594.36" cy="422.67" r="0.55" fill="#a3a3a3"/>
<circle cx="595.09" cy="420.55" r="0.55" fill="#a3a3a3"/>
<circle cx="598.15" cy="420" r="0.55" fill="#a3a3a3"/>
<circle cx="600.5" cy="420.29" r="0.55" fill="#a3a3a3"/>
<circle cx="599.95" cy="422.76" r="0.55" fill="#a3a3a3"/>
<circle cx="594.62" cy="421.34" r="0.55" fill="#a3a3a3"/>
<circle cx="595.1" cy="420.91" r="0.55" fill="#a3a3a3"/>
<circle cx="596.89" cy="426.01" r="0.55" fill="#a3a3a3"/>
<circle cx="596.5" cy="425.7" r="0.55" fill="#a3a3a3"/>
<circle cx="598.65" cy="418.6" r="0.55" fill="#a3a3a3"/>
<circle cx="593.23" cy="423.2" r="0.55" fill="#a3a3a3"/>
<circle cx="593.45" cy="423.41" r="0.55" fill="#a3a3a3"/>
<circle cx="600.33" cy="423.02" r="0.55" fill="#a3a3a3"/>
<circle cx="596.85" cy="421.17" r="0.55" fill="#a3a3a3"/>
<circle cx="598.3" cy="421.01" r="0.55" fill="#a3a3a3"/>
<circle cx="595.89" cy="420.84" r="0.55" fill="#a3a3a3"/>
<circle cx="600.54" cy="420.34" r="0.55" fill="#a3a3a3"/>
<circle cx="598.52" cy="418.87" r="0.55" fill="#a3a3a3"/>
<circle cx="595.76" cy="418.6" r="0.55" fill="#a3a3a3"/>
<circle cx="596.91" cy="423.98" r="0.55" fill="#a3a3a3"/>
<circle cx="598.42" cy="420.46" r="0.55" fill="#a3a3a3"/>
<circle cx="599.32" cy="420.92" r="0.55" fill="#a3a3a3"/>
<circle cx="598.64" cy="422.79" r="0.55" fill="#a3a3a3"/>
<circle cx="598.46" cy="417.57" r="0.55" fill="#a3a3a3"/>
<circle cx="594.29" cy="423.86" r="0.55" fill="#a3a3a3"/>
<circle cx="597.29" cy="426.32" r="0.55" fill="#a3a3a3"/>
<circle cx="621.6" cy="421.95" r="5.3" fill="#666666"/>
<circle cx="620.86" cy="420.21" r="0.6" fill="#b2b2b2"/>
<circle cx="625.35" cy="423.35" r="0.6" fill="#b2b2b2"/>
<circle cx="625.84" cy="423.09" r="0.6" fill="#b2b2b2"/>
<circle cx="620.97" cy="424.18" r="0.6" fill="#b2b2b2"/>
<circle cx="619.24" cy="420.61" r="0.6" fill="#b2b2b2"/>
<circle cx="619.85" cy="421.25" r="0.6" fill="#b2b2b2"/>
<circle cx="623.93" cy="420.51" r="0.6" fill="#b2b2b2"/>
<circle cx="622.62" cy="420.38" r="0.6" fill="#b2b2b2"/>
<circle cx="623.05" cy="417.42" r="0.6" fill="#b2b2b2"/>
<circle cx="620.92" cy="422.5" r="0.6" fill="#b2b2b2"/>
<circle cx="618.8" cy="424.58" r="0.6" fill="#b2b2b2"/>
<circle cx="622.19" cy="425.45" r="0.6" fill="#b2b2b2"/>
<circle cx="624.32" cy="423.76" r="0.6" fill="#b2b2b2"/>
<circle cx="621.17" cy="418.83" r="0.6" fill="#b2b2b2"/>
<circle cx="620.9" cy="420.49" r="0.6" fill="#b2b2b2"/>
<circle cx="622.39" cy="420.47" r="0.6" fill="#b2b2b2"/>
<circle cx="625.84" cy="419.73" r="0.6" fill="#b2b2b2"/>
<circle cx="624.83" cy="420.66" r="0.6" fill="#b2b2b2"/>
<circle cx="620.88" cy="424.69" r="0.6" fill="#b2b2b2"/>
<circle cx="621.61" cy="418.57" r="0.6" fill="#b2b2b2"/>
<circle cx="622.92" cy="421.33" r="0.6" fill="#b2b2b2"/>
<circle cx="617.16" cy="422.38" r="0.6" fill="#b2b2b2"/>
<circle cx="618.72" cy="419.92" r="0.6" fill="#b2b2b2"/>
<circle cx="623.12" cy="422.9" r="0.6" fill="#b2b2b2"/>
<circle cx="621" cy="426.45" r="0.6" fill="#b2b2b2"/>
<circle cx="622.89" cy="420.06" r="0.6" fill="#b2b2b2"/>
<circle cx="622.37" cy="421.56" r="0.6" fill="#b2b2b2"/>
<circle cx="617.76" cy="419.2" r="0.6" fill="#b2b2b2"/>
<circle cx="619" cy="425.82" r="0.6" fill="#b2b2b2"/>
<circle cx="621" cy="421.06" r="0.6" fill="#b2b2b2"/>
<circle cx="619.99" cy="424.74" r="0.6" fill="#b2b2b2"/>
<circle cx="621.67" cy="426.09" r="0.6" fill="#b2b2b2"/>
<circle cx="623.44" cy="425.79" r="0.6" fill="#b2b2b2"/>
<circle cx="621.22" cy="423.16" r="0.6" fill="#b2b2b2"/>
<circle cx="620.22" cy="421.41" r="0.6" fill="#b2b2b2"/>
<circle cx="617.56" cy="420.59" r="0.6" fill="#b2b2b2"/>
<circle cx="618.91" cy="420.11" r="0.6" fill="#b2b2b2"/>
<circle cx="624.96" cy="422.67" r="0.6" fill="#b2b2b2"/>
<circle cx="647.89" cy="424.39" r="0.5" fill="#a8a8a8"/>
<circle cx="647.12" cy="424.92" r="0.5" fill="#a8a8a8"/>
<circle cx="642.45" cy="424.54" r="0.5" fill="#a8a8a8"/>
<circle cx="668.59" cy="420.12" r="0.5" fill="#a8a8a8"/>
<circle cx="672.19" cy="426.45" r="0.5" fill="#a8a8a8"/>
<circle cx="667.31" cy="426.19" r="0.5" fill="#a8a8a8"/>
<rect x="373.2" y="439.4" width="8.6" height="8.6" fill="#a0ccd2" stroke="#555" stroke-width="0.8"/>
<rect x="390.1" y="434" width="137.5" height="18.5" fill="#535555"/>
<rect x="390.1" y="451.7" width="137.5" height="0.8" fill="#6a6a6a"/>
<circle cx="401.5" cy="442.95" r="6.2" fill="#bebebe"/>
<circle cx="401.5" cy="442.95" r="5.2" fill="#aaaaaa"/>
<circle cx="425.7" cy="442.95" r="6.2" fill="#c0c0c0"/>
<circle cx="425.7" cy="442.95" r="5.2" fill="#acacac"/>
<circle cx="449.2" cy="442.95" r="6.2" fill="#8e8e8e"/>
<circle cx="451.87" cy="440.23" r="0.55" fill="#acacac"/>
<circle cx="450.2" cy="444.31" r="0.55" fill="#acacac"/>
<circle cx="450.56" cy="441.65" r="0.55" fill="#acacac"/>
<circle cx="445.17" cy="443.05" r="0.55" fill="#acacac"/>
<circle cx="451.98" cy="445.48" r="0.55" fill="#acacac"/>
<circle cx="451.27" cy="446.4" r="0.55" fill="#acacac"/>
<circle cx="445.87" cy="442.81" r="0.55" fill="#acacac"/>
<circle cx="450.33" cy="446.26" r="0.55" fill="#acacac"/>
<circle cx="449.77" cy="444.83" r="0.55" fill="#acacac"/>
<circle cx="449.53" cy="448.07" r="0.55" fill="#acacac"/>
<circle cx="444.01" cy="442.89" r="0.55" fill="#acacac"/>
<circle cx="454.52" cy="443.46" r="0.55" fill="#acacac"/>
<circle cx="444.32" cy="443.31" r="0.55" fill="#acacac"/>
<circle cx="445.07" cy="441" r="0.55" fill="#acacac"/>
<circle cx="449.82" cy="447.67" r="0.55" fill="#acacac"/>
<circle cx="450.81" cy="445.27" r="0.55" fill="#acacac"/>
<circle cx="452.58" cy="443.62" r="0.55" fill="#acacac"/>
<circle cx="446.25" cy="442.61" r="0.55" fill="#acacac"/>
<circle cx="450.43" cy="441.94" r="0.55" fill="#acacac"/>
<circle cx="446.86" cy="441.69" r="0.55" fill="#acacac"/>
<circle cx="445.18" cy="440.21" r="0.55" fill="#acacac"/>
<circle cx="448.87" cy="441.62" r="0.55" fill="#acacac"/>
<circle cx="449.31" cy="447.21" r="0.55" fill="#acacac"/>
<circle cx="450.31" cy="442.83" r="0.55" fill="#acacac"/>
<circle cx="445.83" cy="439.86" r="0.55" fill="#acacac"/>
<circle cx="450.47" cy="439.99" r="0.55" fill="#acacac"/>
<circle cx="450.59" cy="439.48" r="0.55" fill="#acacac"/>
<circle cx="449.7" cy="442.68" r="0.55" fill="#acacac"/>
<circle cx="452.48" cy="441.66" r="0.55" fill="#acacac"/>
<circle cx="447.84" cy="443.85" r="0.55" fill="#acacac"/>
<circle cx="473" cy="442.95" r="6.2" fill="#767676"/>
<circle cx="473.16" cy="447.83" r="0.6" fill="#c2c2c2"/>
<circle cx="472.04" cy="440.95" r="0.6" fill="#c2c2c2"/>
<circle cx="471.81" cy="444.72" r="0.6" fill="#c2c2c2"/>
<circle cx="473.85" cy="445.48" r="0.6" fill="#c2c2c2"/>
<circle cx="470.25" cy="447.87" r="0.6" fill="#c2c2c2"/>
<circle cx="478.07" cy="442.86" r="0.6" fill="#c2c2c2"/>
<circle cx="469.01" cy="443.46" r="0.6" fill="#c2c2c2"/>
<circle cx="473.99" cy="437.61" r="0.6" fill="#c2c2c2"/>
<circle cx="473.04" cy="438.4" r="0.6" fill="#c2c2c2"/>
<circle cx="474.42" cy="447.23" r="0.6" fill="#c2c2c2"/>
<circle cx="475.86" cy="438.78" r="0.6" fill="#c2c2c2"/>
<circle cx="477.04" cy="445.6" r="0.6" fill="#c2c2c2"/>
<circle cx="471.66" cy="444.81" r="0.6" fill="#c2c2c2"/>
<circle cx="477.57" cy="441.95" r="0.6" fill="#c2c2c2"/>
<circle cx="472.94" cy="440.86" r="0.6" fill="#c2c2c2"/>
<circle cx="475.61" cy="438.09" r="0.6" fill="#c2c2c2"/>
<circle cx="477.06" cy="440.18" r="0.6" fill="#c2c2c2"/>
<circle cx="475.53" cy="438.51" r="0.6" fill="#c2c2c2"/>
<circle cx="469.83" cy="440.93" r="0.6" fill="#c2c2c2"/>
<circle cx="475.3" cy="438.45" r="0.6" fill="#c2c2c2"/>
<circle cx="475.14" cy="440.69" r="0.6" fill="#c2c2c2"/>
<circle cx="477.03" cy="441.94" r="0.6" fill="#c2c2c2"/>
<circle cx="474.83" cy="442.3" r="0.6" fill="#c2c2c2"/>
<circle cx="477.96" cy="441.95" r="0.6" fill="#c2c2c2"/>
<circle cx="472.93" cy="448.17" r="0.6" fill="#c2c2c2"/>
<circle cx="473.28" cy="445.47" r="0.6" fill="#c2c2c2"/>
<circle cx="470.32" cy="443.68" r="0.6" fill="#c2c2c2"/>
<circle cx="467.57" cy="443.2" r="0.6" fill="#c2c2c2"/>
<circle cx="471.1" cy="438.54" r="0.6" fill="#c2c2c2"/>
<circle cx="469.07" cy="446.12" r="0.6" fill="#c2c2c2"/>
<circle cx="474.27" cy="438.42" r="0.6" fill="#c2c2c2"/>
<circle cx="477.84" cy="441.09" r="0.6" fill="#c2c2c2"/>
<circle cx="471.6" cy="443.88" r="0.6" fill="#c2c2c2"/>
<circle cx="470" cy="438.69" r="0.6" fill="#c2c2c2"/>
<circle cx="470.65" cy="446.67" r="0.6" fill="#c2c2c2"/>
<circle cx="475.62" cy="438.6" r="0.6" fill="#c2c2c2"/>
<circle cx="476.98" cy="443.06" r="0.6" fill="#c2c2c2"/>
<circle cx="474.89" cy="443.14" r="0.6" fill="#c2c2c2"/>
<circle cx="498.33" cy="439.24" r="0.6" fill="#b8b8b8"/>
<circle cx="493.48" cy="440.39" r="0.6" fill="#b8b8b8"/>
<circle cx="495.33" cy="445.41" r="0.6" fill="#b8b8b8"/>
<circle cx="493.34" cy="447.48" r="0.6" fill="#b8b8b8"/>
<circle cx="494.35" cy="440.67" r="0.6" fill="#b8b8b8"/>
<circle cx="499.55" cy="444.64" r="0.6" fill="#b8b8b8"/>
<circle cx="495.55" cy="439.02" r="0.6" fill="#b8b8b8"/>
<circle cx="493.84" cy="438.23" r="0.6" fill="#b8b8b8"/>
<circle cx="500.52" cy="446.47" r="0.6" fill="#b8b8b8"/>
<circle cx="525.03" cy="444.4" r="0.5" fill="#a8a8a8"/>
<circle cx="520.9" cy="445.91" r="0.5" fill="#a8a8a8"/>
<circle cx="523.2" cy="441.97" r="0.5" fill="#a8a8a8"/>
<rect x="539.3" y="434" width="138.1" height="18.5" fill="#535555"/>
<rect x="539.3" y="451.7" width="138.1" height="0.8" fill="#6a6a6a"/>
<circle cx="549.9" cy="442.95" r="5.3" fill="#e8e8e8"/>
<circle cx="549.9" cy="442.95" r="4.3" fill="#d4d4d4"/>
<circle cx="573.9" cy="442.95" r="5.3" fill="#bababa"/>
<circle cx="573.9" cy="442.95" r="4.3" fill="#a6a6a6"/>
<circle cx="597.5" cy="442.95" r="5.3" fill="#828282"/>
<circle cx="598.2" cy="447.23" r="0.55" fill="#a0a0a0"/>
<circle cx="594.15" cy="440.17" r="0.55" fill="#a0a0a0"/>
<circle cx="594.94" cy="444.95" r="0.55" fill="#a0a0a0"/>
<circle cx="600.65" cy="442.05" r="0.55" fill="#a0a0a0"/>
<circle cx="599.5" cy="442.81" r="0.55" fill="#a0a0a0"/>
<circle cx="598.4" cy="441.33" r="0.55" fill="#a0a0a0"/>
<circle cx="597.41" cy="442.94" r="0.55" fill="#a0a0a0"/>
<circle cx="599.52" cy="446.94" r="0.55" fill="#a0a0a0"/>
<circle cx="593.53" cy="444.12" r="0.55" fill="#a0a0a0"/>
<circle cx="597.49" cy="445.68" r="0.55" fill="#a0a0a0"/>
<circle cx="600.26" cy="444.98" r="0.55" fill="#a0a0a0"/>
<circle cx="599.64" cy="440.44" r="0.55" fill="#a0a0a0"/>
<circle cx="594.33" cy="446.05" r="0.55" fill="#a0a0a0"/>
<circle cx="600.45" cy="440.63" r="0.55" fill="#a0a0a0"/>
<circle cx="600.73" cy="444.62" r="0.55" fill="#a0a0a0"/>
<circle cx="593.27" cy="444.5" r="0.55" fill="#a0a0a0"/>
<circle cx="595.08" cy="445.8" r="0.55" fill="#a0a0a0"/>
<circle cx="595.59" cy="440.87" r="0.55" fill="#a0a0a0"/>
<circle cx="593.75" cy="442.42" r="0.55" fill="#a0a0a0"/>
<circle cx="600.21" cy="441.16" r="0.55" fill="#a0a0a0"/>
<circle cx="594.52" cy="446.38" r="0.55" fill="#a0a0a0"/>
<circle cx="601.44" cy="444.42" r="0.55" fill="#a0a0a0"/>
<circle cx="596.11" cy="439.81" r="0.55" fill="#a0a0a0"/>
<circle cx="593.73" cy="444.24" r="0.55" fill="#a0a0a0"/>
<circle cx="600.54" cy="440.47" r="0.55" fill="#a0a0a0"/>
<circle cx="597.5" cy="442.09" r="0.55" fill="#a0a0a0"/>
<circle cx="596.73" cy="444.47" r="0.55" fill="#a0a0a0"/>
<circle cx="601.65" cy="441.68" r="0.55" fill="#a0a0a0"/>
<circle cx="599.67" cy="445.73" r="0.55" fill="#a0a0a0"/>
<circle cx="596.62" cy="442.49" r="0.55" fill="#a0a0a0"/>
<circle cx="621.6" cy="442.95" r="5.3" fill="#5c5c5c"/>
<circle cx="618.37" cy="445.55" r="0.6" fill="#787878"/>
<circle cx="620" cy="440.97" r="0.6" fill="#787878"/>
<circle cx="621.8" cy="440.37" r="0.6" fill="#787878"/>
<circle cx="618.61" cy="442.1" r="0.6" fill="#787878"/>
<circle cx="625.43" cy="442.42" r="0.6" fill="#787878"/>
<circle cx="622.93" cy="439.23" r="0.6" fill="#787878"/>
<circle cx="618.16" cy="446.16" r="0.6" fill="#787878"/>
<circle cx="620.6" cy="439.09" r="0.6" fill="#787878"/>
<circle cx="621.27" cy="444.85" r="0.6" fill="#787878"/>
<circle cx="617.72" cy="440.97" r="0.6" fill="#787878"/>
<circle cx="622.37" cy="440.23" r="0.6" fill="#787878"/>
<circle cx="623.8" cy="445.61" r="0.6" fill="#787878"/>
<circle cx="622.99" cy="441.6" r="0.6" fill="#787878"/>
<circle cx="621.45" cy="440.97" r="0.6" fill="#787878"/>
<circle cx="621.18" cy="443.98" r="0.6" fill="#787878"/>
<circle cx="620.72" cy="445.79" r="0.6" fill="#787878"/>
<circle cx="626.21" cy="441.98" r="0.6" fill="#787878"/>
<circle cx="622.63" cy="445.41" r="0.6" fill="#787878"/>
<circle cx="623.6" cy="442.21" r="0.6" fill="#787878"/>
<circle cx="620.23" cy="445.82" r="0.6" fill="#787878"/>
<text x="458.5" y="466" font-size="10.8" text-anchor="middle" fill="#111">0.1 M NaCl</text>
<text x="609.3" y="466" font-size="10.8" text-anchor="middle" fill="#111">1 M NaCl</text>
<rect x="390.2" y="487.8" width="8.6" height="8.3" fill="#efe57c" stroke="#555" stroke-width="0.8"/>
<text x="406.5" y="496" font-size="10.5" fill="#111">WT</text>
<rect x="390.2" y="504.4" width="8.6" height="8.3" fill="#f3abab" stroke="#555" stroke-width="0.8"/>
<text x="406.5" y="512.6" font-size="10.5" fill="#111">&#916;<tspan font-style="italic">0957</tspan></text>
<rect x="390.2" y="521.8" width="8.6" height="8.3" fill="#c2d4ef" stroke="#555" stroke-width="0.8"/>
<text x="406.5" y="530" font-size="10.5" fill="#111">&#916;<tspan font-style="italic">0957</tspan> S1</text>
<rect x="491.2" y="487.8" width="8.6" height="8.3" fill="#a3c9ef" stroke="#555" stroke-width="0.8"/>
<text x="506.2" y="496" font-size="10.5" fill="#111">&#916;<tspan font-style="italic">0957</tspan> S2</text>
<rect x="491.2" y="504.4" width="8.6" height="8.3" fill="#c1a5e6" stroke="#555" stroke-width="0.8"/>
<text x="506.2" y="512.6" font-size="10.5" fill="#111">&#916;<tspan font-style="italic">0957</tspan> S4</text>
<rect x="491.2" y="521.8" width="8.6" height="8.3" fill="#e3a9ef" stroke="#555" stroke-width="0.8"/>
<text x="506.2" y="530" font-size="10.5" fill="#111">&#916;<tspan font-style="italic">0957</tspan> S10</text>
<rect x="597.6" y="487.8" width="8.6" height="8.3" fill="#e2dea2" stroke="#555" stroke-width="0.8"/>
<text x="612.4" y="496" font-size="10.5" fill="#111"><tspan font-style="italic">1332</tspan>::Tn</text>
<rect x="597.6" y="504.4" width="8.6" height="8.3" fill="#b2ede4" stroke="#555" stroke-width="0.8"/>
<text x="612.4" y="512.6" font-size="10.5" fill="#111"><tspan font-style="italic">1332</tspan>::Tn S2</text>
<rect x="597.6" y="521.8" width="8.6" height="8.3" fill="#9fcdd0" stroke="#555" stroke-width="0.8"/>
<text x="612.4" y="530" font-size="10.5" fill="#111"><tspan font-style="italic">1332</tspan>::Tn S4</text>
<text x="0.3" y="377" font-size="14.5" font-weight="bold" fill="#000">e</text>
<line x1="50.2" y1="381" x2="50.2" y2="516.5" stroke="#777" stroke-width="1"/>
<line x1="47.6" y1="513.3" x2="50.2" y2="513.3" stroke="#444" stroke-width="0.8"/>
<text x="43.2" y="517" font-size="10.5" text-anchor="end" fill="#111">0</text>
<line x1="47.6" y1="502.31" x2="50.2" y2="502.31" stroke="#444" stroke-width="0.8"/>
<line x1="47.6" y1="491.32" x2="50.2" y2="491.32" stroke="#444" stroke-width="0.8"/>
<text x="43.2" y="495" font-size="10.5" text-anchor="end" fill="#111">10</text>
<line x1="47.6" y1="480.33" x2="50.2" y2="480.33" stroke="#444" stroke-width="0.8"/>
<line x1="47.6" y1="469.34" x2="50.2" y2="469.34" stroke="#444" stroke-width="0.8"/>
<text x="43.2" y="473" font-size="10.5" text-anchor="end" fill="#111">20</text>
<line x1="47.6" y1="458.35" x2="50.2" y2="458.35" stroke="#444" stroke-width="0.8"/>
<line x1="47.6" y1="447.36" x2="50.2" y2="447.36" stroke="#444" stroke-width="0.8"/>
<text x="43.2" y="451" font-size="10.5" text-anchor="end" fill="#111">30</text>
<line x1="47.6" y1="436.37" x2="50.2" y2="436.37" stroke="#444" stroke-width="0.8"/>
<line x1="47.6" y1="425.38" x2="50.2" y2="425.38" stroke="#444" stroke-width="0.8"/>
<text x="43.2" y="429" font-size="10.5" text-anchor="end" fill="#111">40</text>
<line x1="47.6" y1="414.39" x2="50.2" y2="414.39" stroke="#444" stroke-width="0.8"/>
<line x1="47.6" y1="403.4" x2="50.2" y2="403.4" stroke="#444" stroke-width="0.8"/>
<text x="43.2" y="407" font-size="10.5" text-anchor="end" fill="#111">50</text>
<line x1="47.6" y1="392.41" x2="50.2" y2="392.41" stroke="#444" stroke-width="0.8"/>
<line x1="47.6" y1="381.42" x2="50.2" y2="381.42" stroke="#444" stroke-width="0.8"/>
<text x="43.2" y="385" font-size="10.5" text-anchor="end" fill="#111">60</text>
<line x1="50.2" y1="513.3" x2="326.2" y2="513.3" stroke="#777" stroke-width="1"/>
<line x1="50.2" y1="513.3" x2="50.2" y2="516.5" stroke="#666" stroke-width="0.9"/>
<line x1="188.2" y1="513.3" x2="188.2" y2="516.5" stroke="#666" stroke-width="0.9"/>
<line x1="326.2" y1="513.3" x2="326.2" y2="516.5" stroke="#666" stroke-width="0.9"/>
<rect x="55.3" y="507.89" width="11.6" height="5.41" fill="#ede275" stroke="#5a5a5a" stroke-width="0.7"/>
<line x1="61.1" y1="506.57" x2="61.1" y2="509.21" stroke="#222" stroke-width="0.6"/>
<line x1="59.5" y1="506.57" x2="62.7" y2="506.57" stroke="#222" stroke-width="0.6"/>
<line x1="59.5" y1="509.21" x2="62.7" y2="509.21" stroke="#222" stroke-width="0.6"/>
<rect x="69.92" y="511.21" width="11.6" height="2.09" fill="#f2a9a9" stroke="#5a5a5a" stroke-width="0.7"/>
<rect x="84.54" y="408.02" width="11.6" height="105.28" fill="#c1d3ef" stroke="#5a5a5a" stroke-width="0.7"/>
<line x1="90.34" y1="404.06" x2="90.34" y2="411.97" stroke="#222" stroke-width="0.6"/>
<line x1="88.74" y1="404.06" x2="91.94" y2="404.06" stroke="#222" stroke-width="0.6"/>
<line x1="88.74" y1="411.97" x2="91.94" y2="411.97" stroke="#222" stroke-width="0.6"/>
<rect x="99.16" y="446.48" width="11.6" height="66.82" fill="#a2c8ef" stroke="#5a5a5a" stroke-width="0.7"/>
<line x1="104.96" y1="424.72" x2="104.96" y2="468.24" stroke="#222" stroke-width="0.6"/>
<line x1="103.36" y1="424.72" x2="106.56" y2="424.72" stroke="#222" stroke-width="0.6"/>
<line x1="103.36" y1="468.24" x2="106.56" y2="468.24" stroke="#222" stroke-width="0.6"/>
<rect x="113.78" y="486.48" width="11.6" height="26.82" fill="#c0a4e7" stroke="#5a5a5a" stroke-width="0.7"/>
<line x1="119.58" y1="480.33" x2="119.58" y2="492.64" stroke="#222" stroke-width="0.6"/>
<line x1="117.98" y1="480.33" x2="121.18" y2="480.33" stroke="#222" stroke-width="0.6"/>
<line x1="117.98" y1="492.64" x2="121.18" y2="492.64" stroke="#222" stroke-width="0.6"/>
<rect x="128.4" y="460.99" width="11.6" height="52.31" fill="#e2a8ee" stroke="#5a5a5a" stroke-width="0.7"/>
<line x1="134.2" y1="459.23" x2="134.2" y2="462.75" stroke="#222" stroke-width="0.6"/>
<line x1="132.6" y1="459.23" x2="135.8" y2="459.23" stroke="#222" stroke-width="0.6"/>
<line x1="132.6" y1="462.75" x2="135.8" y2="462.75" stroke="#222" stroke-width="0.6"/>
<rect x="143.02" y="508.02" width="11.6" height="5.28" fill="#e3dfa3" stroke="#5a5a5a" stroke-width="0.7"/>
<line x1="148.82" y1="507.37" x2="148.82" y2="508.68" stroke="#222" stroke-width="0.6"/>
<line x1="147.22" y1="507.37" x2="150.42" y2="507.37" stroke="#222" stroke-width="0.6"/>
<line x1="147.22" y1="508.68" x2="150.42" y2="508.68" stroke="#222" stroke-width="0.6"/>
<rect x="157.64" y="468.02" width="11.6" height="45.28" fill="#b1ece3" stroke="#5a5a5a" stroke-width="0.7"/>
<line x1="163.44" y1="464.06" x2="163.44" y2="471.98" stroke="#222" stroke-width="0.6"/>
<line x1="161.84" y1="464.06" x2="165.04" y2="464.06" stroke="#222" stroke-width="0.6"/>
<line x1="161.84" y1="471.98" x2="165.04" y2="471.98" stroke="#222" stroke-width="0.6"/>
<rect x="172.26" y="451.1" width="11.6" height="62.2" fill="#9ecbd0" stroke="#5a5a5a" stroke-width="0.7"/>
<line x1="178.06" y1="434.83" x2="178.06" y2="467.36" stroke="#222" stroke-width="0.6"/>
<line x1="176.46" y1="434.83" x2="179.66" y2="434.83" stroke="#222" stroke-width="0.6"/>
<line x1="176.46" y1="467.36" x2="179.66" y2="467.36" stroke="#222" stroke-width="0.6"/>
<rect x="192.9" y="510.44" width="11.6" height="2.86" fill="#ede275" stroke="#5a5a5a" stroke-width="0.7"/>
<line x1="198.7" y1="509.56" x2="198.7" y2="511.32" stroke="#222" stroke-width="0.6"/>
<line x1="197.1" y1="509.56" x2="200.3" y2="509.56" stroke="#222" stroke-width="0.6"/>
<line x1="197.1" y1="511.32" x2="200.3" y2="511.32" stroke="#222" stroke-width="0.6"/>
<rect x="207.52" y="512.2" width="11.6" height="1.1" fill="#f2a9a9" stroke="#5a5a5a" stroke-width="0.7"/>
<rect x="222.14" y="509.12" width="11.6" height="4.18" fill="#c1d3ef" stroke="#5a5a5a" stroke-width="0.7"/>
<line x1="227.94" y1="508.46" x2="227.94" y2="509.78" stroke="#222" stroke-width="0.6"/>
<line x1="226.34" y1="508.46" x2="229.54" y2="508.46" stroke="#222" stroke-width="0.6"/>
<line x1="226.34" y1="509.78" x2="229.54" y2="509.78" stroke="#222" stroke-width="0.6"/>
<rect x="236.76" y="504.07" width="11.6" height="9.23" fill="#a2c8ef" stroke="#5a5a5a" stroke-width="0.7"/>
<line x1="242.56" y1="501.65" x2="242.56" y2="506.49" stroke="#222" stroke-width="0.6"/>
<line x1="240.96" y1="501.65" x2="244.16" y2="501.65" stroke="#222" stroke-width="0.6"/>
<line x1="240.96" y1="506.49" x2="244.16" y2="506.49" stroke="#222" stroke-width="0.6"/>
<rect x="251.38" y="509.12" width="11.6" height="4.18" fill="#c0a4e7" stroke="#5a5a5a" stroke-width="0.7"/>
<line x1="257.18" y1="508.46" x2="257.18" y2="509.78" stroke="#222" stroke-width="0.6"/>
<line x1="255.58" y1="508.46" x2="258.78" y2="508.46" stroke="#222" stroke-width="0.6"/>
<line x1="255.58" y1="509.78" x2="258.78" y2="509.78" stroke="#222" stroke-width="0.6"/>
<rect x="266" y="509.56" width="11.6" height="3.74" fill="#e2a8ee" stroke="#5a5a5a" stroke-width="0.7"/>
<line x1="271.8" y1="507.37" x2="271.8" y2="511.76" stroke="#222" stroke-width="0.6"/>
<line x1="270.2" y1="507.37" x2="273.4" y2="507.37" stroke="#222" stroke-width="0.6"/>
<line x1="270.2" y1="511.76" x2="273.4" y2="511.76" stroke="#222" stroke-width="0.6"/>
<rect x="280.62" y="510.44" width="11.6" height="2.86" fill="#e3dfa3" stroke="#5a5a5a" stroke-width="0.7"/>
<line x1="286.42" y1="510" x2="286.42" y2="510.88" stroke="#222" stroke-width="0.6"/>
<line x1="284.82" y1="510" x2="288.02" y2="510" stroke="#222" stroke-width="0.6"/>
<line x1="284.82" y1="510.88" x2="288.02" y2="510.88" stroke="#222" stroke-width="0.6"/>
<rect x="295.24" y="507.59" width="11.6" height="5.71" fill="#b1ece3" stroke="#5a5a5a" stroke-width="0.7"/>
<line x1="301.04" y1="506.71" x2="301.04" y2="508.46" stroke="#222" stroke-width="0.6"/>
<line x1="299.44" y1="506.71" x2="302.64" y2="506.71" stroke="#222" stroke-width="0.6"/>
<line x1="299.44" y1="508.46" x2="302.64" y2="508.46" stroke="#222" stroke-width="0.6"/>
<rect x="309.86" y="506.93" width="11.6" height="6.37" fill="#9ecbd0" stroke="#5a5a5a" stroke-width="0.7"/>
<line x1="315.66" y1="505.17" x2="315.66" y2="508.68" stroke="#222" stroke-width="0.6"/>
<line x1="314.06" y1="505.17" x2="317.26" y2="505.17" stroke="#222" stroke-width="0.6"/>
<line x1="314.06" y1="508.68" x2="317.26" y2="508.68" stroke="#222" stroke-width="0.6"/>
<text x="119.7" y="529" font-size="10.5" text-anchor="middle" fill="#111">1</text>
<text x="257.3" y="529" font-size="10.5" text-anchor="middle" fill="#111">2</text>
<text x="188.7" y="541" font-size="11" text-anchor="middle" fill="#111">DTPMP (mM)</text>
<text x="17.9" y="446.8" font-size="11" text-anchor="middle" transform="rotate(-90 17.9 446.8)" fill="#111">Growth (%)</text>
<text x="64.6" y="396.4" font-size="9" transform="rotate(-90 64.6 396.4)" fill="#111">WT</text>
<text x="93.5" y="396.4" font-size="9" transform="rotate(-90 93.5 396.4)" fill="#111">S1</text>
<text x="108" y="396.4" font-size="9" transform="rotate(-90 108 396.4)" fill="#111">S2</text>
<text x="123.1" y="396.4" font-size="9" transform="rotate(-90 123.1 396.4)" fill="#111">S4</text>
<text x="138.2" y="396.4" font-size="9" transform="rotate(-90 138.2 396.4)" fill="#111">S10</text>
<text x="167.4" y="396.4" font-size="9" transform="rotate(-90 167.4 396.4)" fill="#111">S2</text>
<text x="181.3" y="396.4" font-size="9" transform="rotate(-90 181.3 396.4)" fill="#111">S4</text>
<text x="299.8" y="405" font-size="10.3" text-anchor="middle" fill="#111">PBP2</text>
<text x="261.9" y="420.1" font-size="10" fill="#111">S1:</text>
<text x="285.6" y="420.1" font-size="10" fill="#111">S164Y</text>
<text x="261.9" y="432.47" font-size="10" fill="#111">S2:</text>
<text x="285.6" y="432.47" font-size="10" fill="#111">T138P</text>
<text x="261.9" y="444.84" font-size="10" fill="#111">S4:</text>
<text x="285.6" y="444.84" font-size="10" fill="#111">T148I</text>
<text x="261.9" y="457.21" font-size="10" fill="#111">S10:</text>
<text x="285.6" y="457.21" font-size="10" fill="#111">S147L</text>
</svg></div>
</body></html>
